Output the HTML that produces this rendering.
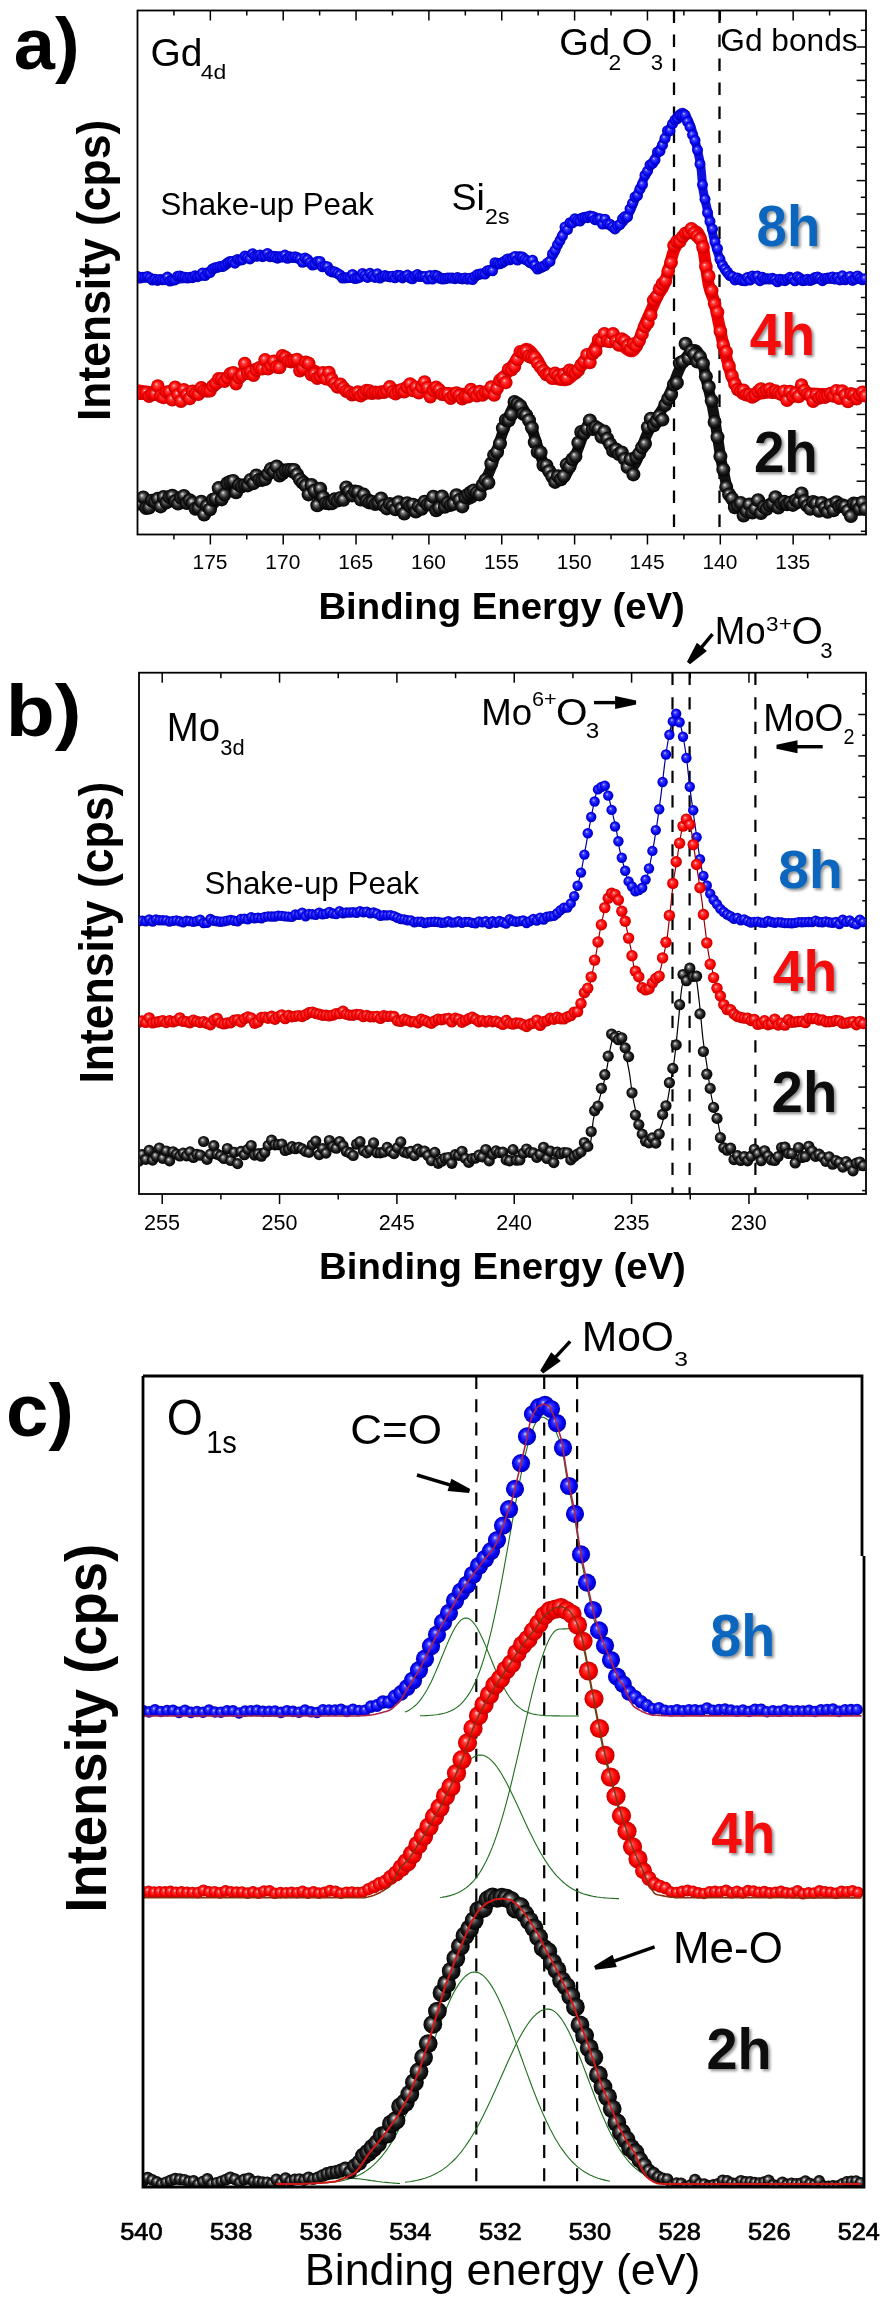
<!DOCTYPE html>
<html><head><meta charset="utf-8"><style>
html,body{margin:0;padding:0;background:#fff;}
svg{display:block;will-change:transform;}
text{font-family:"Liberation Sans",sans-serif;font-kerning:none;}
</style></head><body>
<svg width="884" height="2300" viewBox="0 0 884 2300">
<rect width="884" height="2300" fill="#fff"/>
<defs>
<radialGradient id="gB" cx="0.5" cy="0.5" r="0.5" fx="0.38" fy="0.35"><stop offset="0" stop-color="#d0d0ff"/><stop offset="0.25" stop-color="#4040ff"/><stop offset="0.7" stop-color="#0505f5"/><stop offset="1" stop-color="#0000b0"/></radialGradient>
<radialGradient id="gR" cx="0.5" cy="0.5" r="0.5" fx="0.38" fy="0.35"><stop offset="0" stop-color="#ffd0d0"/><stop offset="0.25" stop-color="#ff4040"/><stop offset="0.7" stop-color="#fa0000"/><stop offset="1" stop-color="#c00000"/></radialGradient>
<radialGradient id="gK" cx="0.5" cy="0.5" r="0.5" fx="0.38" fy="0.35"><stop offset="0" stop-color="#f0f0f0"/><stop offset="0.25" stop-color="#777"/><stop offset="0.6" stop-color="#222"/><stop offset="1" stop-color="#000"/></radialGradient>
<clipPath id="clipA"><rect x="138" y="11" width="727.5" height="523"/></clipPath>
<clipPath id="clipB"><rect x="139.5" y="673.5" width="726" height="520"/></clipPath>
<clipPath id="clipC"><rect x="144" y="1377" width="719" height="809"/></clipPath>
<filter id="sh" x="-20%" y="-20%" width="140%" height="140%"><feGaussianBlur in="SourceAlpha" stdDeviation="1.6"/><feOffset dx="2.2" dy="2.2" result="b"/><feComponentTransfer><feFuncA type="linear" slope="0.45"/></feComponentTransfer><feMerge><feMergeNode/><feMergeNode in="SourceGraphic"/></feMerge></filter>
</defs>
<rect x="137.5" y="10.5" width="728.5" height="524.0" fill="none" stroke="#000" stroke-width="1.8"/>
<line x1="173.93" y1="10.50" x2="173.93" y2="15.50" stroke="#000" stroke-width="1.5"/>
<line x1="173.93" y1="534.50" x2="173.93" y2="539.50" stroke="#000" stroke-width="1.5"/>
<line x1="210.35" y1="10.50" x2="210.35" y2="20.50" stroke="#000" stroke-width="1.5"/>
<line x1="210.35" y1="534.50" x2="210.35" y2="544.50" stroke="#000" stroke-width="1.5"/>
<line x1="246.78" y1="10.50" x2="246.78" y2="15.50" stroke="#000" stroke-width="1.5"/>
<line x1="246.78" y1="534.50" x2="246.78" y2="539.50" stroke="#000" stroke-width="1.5"/>
<line x1="283.20" y1="10.50" x2="283.20" y2="20.50" stroke="#000" stroke-width="1.5"/>
<line x1="283.20" y1="534.50" x2="283.20" y2="544.50" stroke="#000" stroke-width="1.5"/>
<line x1="319.62" y1="10.50" x2="319.62" y2="15.50" stroke="#000" stroke-width="1.5"/>
<line x1="319.62" y1="534.50" x2="319.62" y2="539.50" stroke="#000" stroke-width="1.5"/>
<line x1="356.05" y1="10.50" x2="356.05" y2="20.50" stroke="#000" stroke-width="1.5"/>
<line x1="356.05" y1="534.50" x2="356.05" y2="544.50" stroke="#000" stroke-width="1.5"/>
<line x1="392.48" y1="10.50" x2="392.48" y2="15.50" stroke="#000" stroke-width="1.5"/>
<line x1="392.48" y1="534.50" x2="392.48" y2="539.50" stroke="#000" stroke-width="1.5"/>
<line x1="428.90" y1="10.50" x2="428.90" y2="20.50" stroke="#000" stroke-width="1.5"/>
<line x1="428.90" y1="534.50" x2="428.90" y2="544.50" stroke="#000" stroke-width="1.5"/>
<line x1="465.32" y1="10.50" x2="465.32" y2="15.50" stroke="#000" stroke-width="1.5"/>
<line x1="465.32" y1="534.50" x2="465.32" y2="539.50" stroke="#000" stroke-width="1.5"/>
<line x1="501.75" y1="10.50" x2="501.75" y2="20.50" stroke="#000" stroke-width="1.5"/>
<line x1="501.75" y1="534.50" x2="501.75" y2="544.50" stroke="#000" stroke-width="1.5"/>
<line x1="538.17" y1="10.50" x2="538.17" y2="15.50" stroke="#000" stroke-width="1.5"/>
<line x1="538.17" y1="534.50" x2="538.17" y2="539.50" stroke="#000" stroke-width="1.5"/>
<line x1="574.60" y1="10.50" x2="574.60" y2="20.50" stroke="#000" stroke-width="1.5"/>
<line x1="574.60" y1="534.50" x2="574.60" y2="544.50" stroke="#000" stroke-width="1.5"/>
<line x1="611.03" y1="10.50" x2="611.03" y2="15.50" stroke="#000" stroke-width="1.5"/>
<line x1="611.03" y1="534.50" x2="611.03" y2="539.50" stroke="#000" stroke-width="1.5"/>
<line x1="647.45" y1="10.50" x2="647.45" y2="20.50" stroke="#000" stroke-width="1.5"/>
<line x1="647.45" y1="534.50" x2="647.45" y2="544.50" stroke="#000" stroke-width="1.5"/>
<line x1="683.88" y1="10.50" x2="683.88" y2="15.50" stroke="#000" stroke-width="1.5"/>
<line x1="683.88" y1="534.50" x2="683.88" y2="539.50" stroke="#000" stroke-width="1.5"/>
<line x1="720.30" y1="10.50" x2="720.30" y2="20.50" stroke="#000" stroke-width="1.5"/>
<line x1="720.30" y1="534.50" x2="720.30" y2="544.50" stroke="#000" stroke-width="1.5"/>
<line x1="756.73" y1="10.50" x2="756.73" y2="15.50" stroke="#000" stroke-width="1.5"/>
<line x1="756.73" y1="534.50" x2="756.73" y2="539.50" stroke="#000" stroke-width="1.5"/>
<line x1="793.15" y1="10.50" x2="793.15" y2="20.50" stroke="#000" stroke-width="1.5"/>
<line x1="793.15" y1="534.50" x2="793.15" y2="544.50" stroke="#000" stroke-width="1.5"/>
<line x1="829.58" y1="10.50" x2="829.58" y2="15.50" stroke="#000" stroke-width="1.5"/>
<line x1="829.58" y1="534.50" x2="829.58" y2="539.50" stroke="#000" stroke-width="1.5"/>
<line x1="866.00" y1="30.30" x2="860.80" y2="30.30" stroke="#000" stroke-width="1.5"/>
<line x1="866.00" y1="47.00" x2="856.60" y2="47.00" stroke="#000" stroke-width="1.5"/>
<line x1="866.00" y1="63.70" x2="860.80" y2="63.70" stroke="#000" stroke-width="1.5"/>
<line x1="866.00" y1="80.40" x2="856.60" y2="80.40" stroke="#000" stroke-width="1.5"/>
<line x1="866.00" y1="97.10" x2="860.80" y2="97.10" stroke="#000" stroke-width="1.5"/>
<line x1="866.00" y1="113.80" x2="856.60" y2="113.80" stroke="#000" stroke-width="1.5"/>
<line x1="866.00" y1="130.50" x2="860.80" y2="130.50" stroke="#000" stroke-width="1.5"/>
<line x1="866.00" y1="147.20" x2="856.60" y2="147.20" stroke="#000" stroke-width="1.5"/>
<line x1="866.00" y1="163.90" x2="860.80" y2="163.90" stroke="#000" stroke-width="1.5"/>
<line x1="866.00" y1="180.60" x2="856.60" y2="180.60" stroke="#000" stroke-width="1.5"/>
<line x1="866.00" y1="197.30" x2="860.80" y2="197.30" stroke="#000" stroke-width="1.5"/>
<line x1="866.00" y1="214.00" x2="856.60" y2="214.00" stroke="#000" stroke-width="1.5"/>
<line x1="866.00" y1="230.70" x2="860.80" y2="230.70" stroke="#000" stroke-width="1.5"/>
<line x1="866.00" y1="247.40" x2="856.60" y2="247.40" stroke="#000" stroke-width="1.5"/>
<line x1="866.00" y1="264.10" x2="860.80" y2="264.10" stroke="#000" stroke-width="1.5"/>
<line x1="866.00" y1="280.80" x2="856.60" y2="280.80" stroke="#000" stroke-width="1.5"/>
<line x1="866.00" y1="297.50" x2="860.80" y2="297.50" stroke="#000" stroke-width="1.5"/>
<line x1="866.00" y1="314.20" x2="856.60" y2="314.20" stroke="#000" stroke-width="1.5"/>
<line x1="866.00" y1="330.90" x2="860.80" y2="330.90" stroke="#000" stroke-width="1.5"/>
<line x1="866.00" y1="347.60" x2="856.60" y2="347.60" stroke="#000" stroke-width="1.5"/>
<line x1="866.00" y1="364.30" x2="860.80" y2="364.30" stroke="#000" stroke-width="1.5"/>
<line x1="866.00" y1="381.00" x2="856.60" y2="381.00" stroke="#000" stroke-width="1.5"/>
<line x1="866.00" y1="397.70" x2="860.80" y2="397.70" stroke="#000" stroke-width="1.5"/>
<line x1="866.00" y1="414.40" x2="856.60" y2="414.40" stroke="#000" stroke-width="1.5"/>
<line x1="866.00" y1="431.10" x2="860.80" y2="431.10" stroke="#000" stroke-width="1.5"/>
<line x1="866.00" y1="447.80" x2="856.60" y2="447.80" stroke="#000" stroke-width="1.5"/>
<line x1="866.00" y1="464.50" x2="860.80" y2="464.50" stroke="#000" stroke-width="1.5"/>
<line x1="866.00" y1="481.20" x2="856.60" y2="481.20" stroke="#000" stroke-width="1.5"/>
<line x1="866.00" y1="497.90" x2="860.80" y2="497.90" stroke="#000" stroke-width="1.5"/>
<line x1="866.00" y1="514.60" x2="856.60" y2="514.60" stroke="#000" stroke-width="1.5"/>
<line x1="866.00" y1="531.30" x2="860.80" y2="531.30" stroke="#000" stroke-width="1.5"/>
<line x1="674.00" y1="10.50" x2="674.00" y2="534.50" stroke="#000" stroke-width="2.3" stroke-dasharray="12.5 11.5"/>
<line x1="719.50" y1="10.50" x2="719.50" y2="534.50" stroke="#000" stroke-width="2.3" stroke-dasharray="12.5 11.5"/>
<g clip-path="url(#clipA)">
<path d="M137.5,277.0 C139.1,277.2 141.6,277.5 147.0,278.0 C152.4,278.5 161.7,280.1 170.0,279.8 C178.3,279.5 187.6,279.0 197.0,276.4 C206.4,273.8 217.8,267.2 226.5,264.0 C235.2,260.8 241.5,258.4 249.0,257.0 C256.5,255.6 264.2,255.1 271.7,255.3 C279.2,255.5 286.4,256.9 294.0,258.3 C301.6,259.8 310.5,261.9 317.0,264.0 C323.5,266.1 328.3,268.5 333.0,270.7 C337.7,272.9 337.2,276.2 345.0,277.0 C352.8,277.8 365.7,275.7 379.8,275.7 C393.9,275.7 415.0,276.6 429.5,277.0 C444.0,277.4 457.8,278.8 466.9,278.2 C476.0,277.6 478.1,276.1 484.3,273.2 C490.5,270.3 498.4,263.7 504.2,260.8 C510.0,257.9 515.0,255.6 519.1,255.8 C523.2,256.0 525.6,259.8 529.1,262.0 C532.6,264.2 536.1,270.1 540.0,269.2 C543.9,268.3 548.7,262.5 552.4,256.7 C556.1,250.9 559.1,240.1 562.4,234.3 C565.7,228.5 567.8,225.0 572.4,221.9 C577.0,218.8 584.4,215.9 589.8,215.7 C595.2,215.5 600.6,218.6 604.7,220.7 C608.9,222.8 611.0,228.7 614.7,228.1 C618.4,227.5 623.4,222.5 627.1,216.9 C630.8,211.3 633.8,202.0 637.1,194.5 C640.4,187.0 643.3,179.6 647.0,172.1 C650.7,164.6 655.4,157.6 659.5,149.7 C663.6,141.8 668.2,131.0 671.9,124.8 C675.6,118.6 679.0,112.8 681.9,112.4 C684.8,112.0 687.0,117.4 689.3,122.4 C691.6,127.4 693.6,135.2 695.5,142.3 C697.4,149.4 699.2,156.8 700.5,164.7 C701.8,172.6 702.0,182.5 703.0,189.6 C704.0,196.7 705.2,200.4 706.7,207.0 C708.2,213.6 710.0,222.3 711.7,229.4 C713.4,236.5 714.6,242.7 716.7,249.3 C718.8,255.9 721.3,264.4 724.2,269.2 C727.1,274.0 728.3,276.2 734.1,277.9 C739.9,279.5 737.0,278.9 759.0,279.1 C781.0,279.4 848.2,279.3 866.0,279.4" fill="none" stroke="#1010e0" stroke-width="9" stroke-linejoin="round"/>
<g fill="url(#gB)"><circle cx="137.5" cy="276.6" r="5.5"/><circle cx="140.0" cy="278.0" r="5.5"/><circle cx="142.5" cy="277.2" r="5.5"/><circle cx="145.0" cy="277.3" r="5.5"/><circle cx="147.5" cy="276.6" r="5.5"/><circle cx="150.0" cy="277.9" r="5.5"/><circle cx="152.5" cy="280.1" r="5.5"/><circle cx="155.0" cy="279.3" r="5.5"/><circle cx="157.5" cy="280.4" r="5.5"/><circle cx="160.0" cy="279.4" r="5.5"/><circle cx="162.5" cy="279.8" r="5.5"/><circle cx="165.0" cy="279.7" r="5.5"/><circle cx="167.5" cy="277.1" r="5.5"/><circle cx="170.0" cy="281.1" r="5.5"/><circle cx="172.5" cy="280.2" r="5.5"/><circle cx="175.0" cy="279.9" r="5.5"/><circle cx="177.5" cy="276.3" r="5.5"/><circle cx="180.0" cy="275.9" r="5.5"/><circle cx="182.5" cy="276.9" r="5.5"/><circle cx="185.0" cy="277.2" r="5.5"/><circle cx="187.5" cy="278.1" r="5.5"/><circle cx="190.0" cy="277.2" r="5.5"/><circle cx="192.5" cy="277.7" r="5.5"/><circle cx="195.0" cy="275.7" r="5.5"/><circle cx="197.5" cy="276.7" r="5.5"/><circle cx="200.0" cy="275.7" r="5.5"/><circle cx="202.5" cy="273.1" r="5.5"/><circle cx="205.0" cy="275.6" r="5.5"/><circle cx="207.5" cy="272.8" r="5.5"/><circle cx="210.0" cy="272.7" r="5.5"/><circle cx="212.5" cy="269.0" r="5.5"/><circle cx="215.0" cy="267.7" r="5.5"/><circle cx="217.5" cy="267.3" r="5.5"/><circle cx="220.0" cy="266.6" r="5.5"/><circle cx="222.5" cy="266.6" r="5.5"/><circle cx="225.0" cy="265.0" r="5.5"/><circle cx="227.5" cy="263.0" r="5.5"/><circle cx="230.0" cy="261.5" r="5.5"/><circle cx="232.5" cy="261.4" r="5.5"/><circle cx="235.0" cy="263.2" r="5.5"/><circle cx="237.5" cy="259.4" r="5.5"/><circle cx="240.0" cy="260.2" r="5.5"/><circle cx="242.5" cy="259.7" r="5.5"/><circle cx="245.0" cy="256.0" r="5.5"/><circle cx="247.5" cy="257.5" r="5.5"/><circle cx="250.0" cy="258.9" r="5.5"/><circle cx="252.5" cy="253.7" r="5.5"/><circle cx="255.0" cy="256.1" r="5.5"/><circle cx="257.5" cy="256.2" r="5.5"/><circle cx="260.0" cy="255.0" r="5.5"/><circle cx="262.5" cy="256.7" r="5.5"/><circle cx="265.0" cy="255.7" r="5.5"/><circle cx="267.5" cy="253.4" r="5.5"/><circle cx="270.0" cy="256.7" r="5.5"/><circle cx="272.5" cy="256.4" r="5.5"/><circle cx="275.0" cy="257.2" r="5.5"/><circle cx="277.5" cy="258.2" r="5.5"/><circle cx="280.0" cy="257.0" r="5.5"/><circle cx="282.5" cy="256.9" r="5.5"/><circle cx="285.0" cy="255.1" r="5.5"/><circle cx="287.5" cy="258.3" r="5.5"/><circle cx="290.0" cy="256.8" r="5.5"/><circle cx="292.5" cy="257.4" r="5.5"/><circle cx="295.0" cy="256.7" r="5.5"/><circle cx="297.5" cy="257.7" r="5.5"/><circle cx="300.0" cy="259.0" r="5.5"/><circle cx="302.5" cy="262.3" r="5.5"/><circle cx="305.0" cy="258.0" r="5.5"/><circle cx="307.5" cy="259.5" r="5.5"/><circle cx="310.0" cy="262.6" r="5.5"/><circle cx="312.5" cy="265.0" r="5.5"/><circle cx="315.0" cy="264.4" r="5.5"/><circle cx="317.5" cy="261.4" r="5.5"/><circle cx="320.0" cy="261.5" r="5.5"/><circle cx="322.5" cy="266.8" r="5.5"/><circle cx="325.0" cy="266.2" r="5.5"/><circle cx="327.5" cy="266.7" r="5.5"/><circle cx="330.0" cy="270.9" r="5.5"/><circle cx="332.5" cy="272.1" r="5.5"/><circle cx="335.0" cy="272.0" r="5.5"/><circle cx="337.5" cy="273.4" r="5.5"/><circle cx="340.0" cy="275.0" r="5.5"/><circle cx="342.5" cy="278.1" r="5.5"/><circle cx="345.0" cy="277.9" r="5.5"/><circle cx="347.5" cy="277.7" r="5.5"/><circle cx="350.0" cy="277.6" r="5.5"/><circle cx="352.5" cy="274.4" r="5.5"/><circle cx="355.0" cy="278.5" r="5.5"/><circle cx="357.5" cy="278.0" r="5.5"/><circle cx="360.0" cy="277.2" r="5.5"/><circle cx="362.5" cy="273.4" r="5.5"/><circle cx="365.0" cy="275.3" r="5.5"/><circle cx="367.5" cy="277.4" r="5.5"/><circle cx="370.0" cy="273.3" r="5.5"/><circle cx="372.5" cy="275.7" r="5.5"/><circle cx="375.0" cy="277.4" r="5.5"/><circle cx="377.5" cy="273.8" r="5.5"/><circle cx="380.0" cy="278.1" r="5.5"/><circle cx="382.5" cy="276.6" r="5.5"/><circle cx="385.0" cy="275.6" r="5.5"/><circle cx="387.5" cy="276.4" r="5.5"/><circle cx="390.0" cy="276.9" r="5.5"/><circle cx="392.5" cy="276.2" r="5.5"/><circle cx="395.0" cy="277.8" r="5.5"/><circle cx="397.5" cy="275.2" r="5.5"/><circle cx="400.0" cy="275.6" r="5.5"/><circle cx="402.5" cy="277.9" r="5.5"/><circle cx="405.0" cy="276.4" r="5.5"/><circle cx="407.5" cy="275.1" r="5.5"/><circle cx="410.0" cy="277.9" r="5.5"/><circle cx="412.5" cy="278.8" r="5.5"/><circle cx="415.0" cy="276.0" r="5.5"/><circle cx="417.5" cy="274.6" r="5.5"/><circle cx="420.0" cy="276.5" r="5.5"/><circle cx="422.5" cy="276.6" r="5.5"/><circle cx="425.0" cy="276.4" r="5.5"/><circle cx="427.5" cy="279.1" r="5.5"/><circle cx="430.0" cy="275.5" r="5.5"/><circle cx="432.5" cy="279.0" r="5.5"/><circle cx="435.0" cy="275.3" r="5.5"/><circle cx="437.5" cy="276.1" r="5.5"/><circle cx="440.0" cy="278.3" r="5.5"/><circle cx="442.5" cy="279.1" r="5.5"/><circle cx="445.0" cy="278.8" r="5.5"/><circle cx="447.5" cy="278.1" r="5.5"/><circle cx="450.0" cy="277.9" r="5.5"/><circle cx="452.5" cy="278.0" r="5.5"/><circle cx="455.0" cy="278.7" r="5.5"/><circle cx="457.5" cy="277.6" r="5.5"/><circle cx="460.0" cy="278.4" r="5.5"/><circle cx="462.5" cy="278.9" r="5.5"/><circle cx="465.0" cy="278.1" r="5.5"/><circle cx="467.5" cy="279.2" r="5.5"/><circle cx="470.0" cy="278.2" r="5.5"/><circle cx="472.5" cy="279.6" r="5.5"/><circle cx="475.0" cy="276.4" r="5.5"/><circle cx="477.5" cy="274.5" r="5.5"/><circle cx="480.0" cy="273.9" r="5.5"/><circle cx="482.5" cy="273.7" r="5.5"/><circle cx="485.0" cy="274.1" r="5.5"/><circle cx="487.5" cy="270.7" r="5.5"/><circle cx="490.0" cy="270.2" r="5.5"/><circle cx="492.5" cy="270.8" r="5.5"/><circle cx="495.0" cy="262.7" r="5.5"/><circle cx="497.5" cy="263.3" r="5.5"/><circle cx="500.0" cy="263.8" r="5.5"/><circle cx="502.5" cy="262.5" r="5.5"/><circle cx="505.0" cy="260.9" r="5.5"/><circle cx="507.5" cy="259.0" r="5.5"/><circle cx="510.0" cy="259.8" r="5.5"/><circle cx="512.5" cy="258.4" r="5.5"/><circle cx="515.0" cy="256.4" r="5.5"/><circle cx="517.5" cy="260.0" r="5.5"/><circle cx="520.0" cy="256.9" r="5.5"/><circle cx="522.5" cy="257.1" r="5.5"/><circle cx="525.0" cy="259.3" r="5.5"/><circle cx="527.5" cy="260.7" r="5.5"/><circle cx="530.0" cy="262.5" r="5.5"/><circle cx="532.5" cy="260.2" r="5.5"/><circle cx="535.0" cy="265.2" r="5.5"/><circle cx="537.5" cy="269.1" r="5.5"/><circle cx="540.0" cy="267.4" r="5.5"/><circle cx="542.5" cy="266.6" r="5.5"/><circle cx="545.0" cy="265.6" r="5.5"/><circle cx="547.5" cy="262.9" r="5.5"/><circle cx="550.0" cy="261.4" r="5.5"/><circle cx="552.5" cy="253.9" r="5.5"/><circle cx="555.0" cy="250.3" r="5.5"/><circle cx="557.5" cy="244.8" r="5.5"/><circle cx="560.0" cy="240.6" r="5.5"/><circle cx="562.5" cy="235.8" r="5.5"/><circle cx="565.0" cy="227.1" r="5.5"/><circle cx="567.5" cy="229.6" r="5.5"/><circle cx="570.0" cy="222.7" r="5.5"/><circle cx="572.5" cy="222.9" r="5.5"/><circle cx="575.0" cy="218.7" r="5.5"/><circle cx="577.5" cy="220.3" r="5.5"/><circle cx="580.0" cy="221.0" r="5.5"/><circle cx="582.5" cy="218.1" r="5.5"/><circle cx="585.0" cy="217.7" r="5.5"/><circle cx="587.5" cy="217.7" r="5.5"/><circle cx="590.0" cy="216.0" r="5.5"/><circle cx="592.5" cy="216.5" r="5.5"/><circle cx="595.0" cy="219.7" r="5.5"/><circle cx="597.5" cy="219.9" r="5.5"/><circle cx="600.0" cy="218.7" r="5.5"/><circle cx="602.5" cy="224.1" r="5.5"/><circle cx="605.0" cy="219.2" r="5.5"/><circle cx="607.5" cy="224.1" r="5.5"/><circle cx="610.0" cy="224.2" r="5.5"/><circle cx="612.5" cy="226.7" r="5.5"/><circle cx="615.0" cy="228.9" r="5.5"/><circle cx="617.5" cy="225.9" r="5.5"/><circle cx="620.0" cy="224.3" r="5.5"/><circle cx="622.5" cy="218.8" r="5.5"/><circle cx="625.0" cy="216.5" r="5.5"/><circle cx="627.5" cy="216.9" r="5.5"/><circle cx="630.0" cy="209.0" r="5.5"/><circle cx="632.5" cy="203.3" r="5.5"/><circle cx="635.0" cy="197.0" r="5.5"/><circle cx="637.5" cy="195.5" r="5.5"/><circle cx="640.0" cy="189.1" r="5.5"/><circle cx="642.5" cy="184.5" r="5.5"/><circle cx="645.0" cy="175.2" r="5.5"/><circle cx="647.5" cy="171.2" r="5.5"/><circle cx="650.0" cy="165.0" r="5.5"/><circle cx="652.5" cy="163.4" r="5.5"/><circle cx="655.0" cy="160.1" r="5.5"/><circle cx="657.5" cy="151.9" r="5.5"/><circle cx="660.0" cy="151.0" r="5.5"/><circle cx="662.5" cy="145.2" r="5.5"/><circle cx="665.0" cy="138.4" r="5.5"/><circle cx="667.5" cy="130.7" r="5.5"/><circle cx="670.0" cy="130.7" r="5.5"/><circle cx="672.5" cy="123.9" r="5.5"/><circle cx="675.0" cy="120.1" r="5.5"/><circle cx="677.5" cy="118.5" r="5.5"/><circle cx="680.0" cy="115.4" r="5.5"/><circle cx="682.5" cy="115.5" r="5.5"/><circle cx="685.0" cy="115.1" r="5.5"/><circle cx="687.5" cy="121.7" r="5.5"/><circle cx="690.0" cy="126.9" r="5.5"/><circle cx="692.5" cy="134.8" r="5.5"/><circle cx="695.0" cy="140.4" r="5.5"/><circle cx="697.5" cy="150.1" r="5.5"/><circle cx="700.0" cy="164.0" r="5.5"/><circle cx="702.5" cy="184.8" r="5.5"/><circle cx="705.0" cy="199.2" r="5.5"/><circle cx="707.5" cy="212.7" r="5.5"/><circle cx="710.0" cy="221.4" r="5.5"/><circle cx="712.5" cy="229.1" r="5.5"/><circle cx="715.0" cy="242.0" r="5.5"/><circle cx="717.5" cy="248.6" r="5.5"/><circle cx="720.0" cy="259.3" r="5.5"/><circle cx="722.5" cy="265.2" r="5.5"/><circle cx="725.0" cy="269.0" r="5.5"/><circle cx="727.5" cy="272.1" r="5.5"/><circle cx="730.0" cy="275.5" r="5.5"/><circle cx="732.5" cy="276.6" r="5.5"/><circle cx="735.0" cy="279.9" r="5.5"/><circle cx="737.5" cy="278.0" r="5.5"/><circle cx="740.0" cy="279.7" r="5.5"/><circle cx="742.5" cy="280.5" r="5.5"/><circle cx="745.0" cy="280.8" r="5.5"/><circle cx="747.5" cy="277.5" r="5.5"/><circle cx="750.0" cy="280.0" r="5.5"/><circle cx="752.5" cy="276.0" r="5.5"/><circle cx="755.0" cy="277.3" r="5.5"/><circle cx="757.5" cy="276.1" r="5.5"/><circle cx="760.0" cy="280.7" r="5.5"/><circle cx="762.5" cy="277.3" r="5.5"/><circle cx="765.0" cy="279.1" r="5.5"/><circle cx="767.5" cy="278.8" r="5.5"/><circle cx="770.0" cy="279.1" r="5.5"/><circle cx="772.5" cy="278.3" r="5.5"/><circle cx="775.0" cy="279.5" r="5.5"/><circle cx="777.5" cy="281.8" r="5.5"/><circle cx="780.0" cy="279.2" r="5.5"/><circle cx="782.5" cy="280.0" r="5.5"/><circle cx="785.0" cy="280.7" r="5.5"/><circle cx="787.5" cy="278.9" r="5.5"/><circle cx="790.0" cy="277.3" r="5.5"/><circle cx="792.5" cy="278.4" r="5.5"/><circle cx="795.0" cy="280.8" r="5.5"/><circle cx="797.5" cy="276.7" r="5.5"/><circle cx="800.0" cy="278.3" r="5.5"/><circle cx="802.5" cy="280.7" r="5.5"/><circle cx="805.0" cy="280.4" r="5.5"/><circle cx="807.5" cy="279.2" r="5.5"/><circle cx="810.0" cy="280.5" r="5.5"/><circle cx="812.5" cy="279.5" r="5.5"/><circle cx="815.0" cy="277.5" r="5.5"/><circle cx="817.5" cy="276.9" r="5.5"/><circle cx="820.0" cy="278.3" r="5.5"/><circle cx="822.5" cy="280.7" r="5.5"/><circle cx="825.0" cy="278.4" r="5.5"/><circle cx="827.5" cy="277.9" r="5.5"/><circle cx="830.0" cy="278.1" r="5.5"/><circle cx="832.5" cy="277.0" r="5.5"/><circle cx="835.0" cy="279.1" r="5.5"/><circle cx="837.5" cy="277.6" r="5.5"/><circle cx="840.0" cy="279.9" r="5.5"/><circle cx="842.5" cy="275.8" r="5.5"/><circle cx="845.0" cy="279.8" r="5.5"/><circle cx="847.5" cy="278.4" r="5.5"/><circle cx="850.0" cy="276.4" r="5.5"/><circle cx="852.5" cy="280.4" r="5.5"/><circle cx="855.0" cy="279.0" r="5.5"/><circle cx="857.5" cy="276.0" r="5.5"/><circle cx="860.0" cy="278.1" r="5.5"/><circle cx="862.5" cy="279.8" r="5.5"/><circle cx="865.0" cy="278.7" r="5.5"/></g>
<path d="M137.5,390.3 C141.2,390.8 152.4,392.7 159.5,393.2 C166.6,393.7 172.2,393.7 180.1,393.2 C187.9,392.7 199.2,392.8 206.6,390.3 C213.9,387.9 217.3,381.7 224.2,378.5 C231.1,375.3 240.4,373.4 247.8,371.2 C255.2,369.0 262.0,367.3 268.4,365.3 C274.8,363.3 280.6,359.6 286.0,359.4 C291.4,359.1 295.3,361.6 300.7,363.8 C306.1,366.0 312.5,369.2 318.4,372.6 C324.3,376.0 330.1,381.0 336.0,384.4 C341.9,387.8 347.7,391.7 353.6,393.2 C359.5,394.7 364.4,393.7 371.3,393.2 C378.2,392.7 386.8,390.8 394.8,390.3 C402.8,389.8 410.4,389.8 419.4,390.3 C428.4,390.8 439.0,392.7 448.8,393.2 C458.6,393.7 470.4,394.4 478.2,393.2 C486.0,392.0 490.5,390.1 495.9,385.9 C501.3,381.7 505.7,374.3 510.6,368.2 C515.5,362.1 520.9,350.6 525.3,349.1 C529.7,347.6 533.7,355.2 537.1,359.4 C540.5,363.6 541.0,370.7 545.9,374.1 C550.8,377.5 560.6,381.5 566.5,380.0 C572.4,378.5 577.3,369.2 581.2,365.3 C585.1,361.4 587.1,360.1 590.0,356.4 C592.9,352.6 595.4,345.9 598.5,342.8 C601.6,339.7 605.3,337.7 608.7,337.7 C612.1,337.7 615.1,340.5 618.8,342.8 C622.5,345.1 627.6,351.0 630.7,351.3 C633.8,351.6 635.2,348.8 637.5,344.5 C639.8,340.2 642.0,331.5 644.3,325.8 C646.6,320.1 648.8,315.6 651.1,310.5 C653.4,305.4 655.6,299.8 657.9,295.3 C660.2,290.8 662.0,291.1 664.7,283.4 C667.5,275.7 671.1,257.4 674.4,249.3 C677.7,241.2 681.0,238.2 684.3,235.0 C687.6,231.8 691.1,228.9 694.0,230.0 C696.9,231.1 699.3,232.6 701.8,241.8 C704.3,251.0 706.8,275.3 708.8,285.1 C710.8,294.9 712.2,293.9 713.9,300.4 C715.6,306.9 717.3,316.2 719.0,324.1 C720.7,332.0 722.6,341.7 724.0,347.9 C725.4,354.1 726.1,356.4 727.5,361.5 C728.9,366.6 730.5,373.6 732.5,378.4 C734.5,383.1 736.9,387.2 739.3,390.0 C741.7,392.8 741.6,394.8 746.7,395.2 C751.8,395.6 761.8,393.0 770.0,392.6 C778.2,392.2 787.3,392.4 796.0,392.6 C804.7,392.8 810.3,393.5 822.0,393.9 C833.7,394.3 858.7,394.8 866.0,395.0" fill="none" stroke="#f00000" stroke-width="12" stroke-linejoin="round"/>
<g fill="url(#gR)"><circle cx="137.5" cy="392.9" r="6.8"/><circle cx="140.4" cy="393.1" r="6.8"/><circle cx="143.3" cy="393.3" r="6.8"/><circle cx="146.2" cy="392.5" r="6.8"/><circle cx="149.1" cy="396.2" r="6.8"/><circle cx="152.0" cy="394.4" r="6.8"/><circle cx="154.9" cy="394.1" r="6.8"/><circle cx="157.8" cy="386.1" r="6.8"/><circle cx="160.7" cy="396.2" r="6.8"/><circle cx="163.6" cy="397.5" r="6.8"/><circle cx="166.5" cy="392.2" r="6.8"/><circle cx="169.4" cy="391.7" r="6.8"/><circle cx="172.3" cy="399.6" r="6.8"/><circle cx="175.2" cy="387.4" r="6.8"/><circle cx="178.1" cy="394.7" r="6.8"/><circle cx="181.0" cy="401.1" r="6.8"/><circle cx="183.9" cy="389.7" r="6.8"/><circle cx="186.8" cy="394.7" r="6.8"/><circle cx="189.7" cy="398.4" r="6.8"/><circle cx="192.6" cy="391.4" r="6.8"/><circle cx="195.5" cy="393.4" r="6.8"/><circle cx="198.4" cy="394.2" r="6.8"/><circle cx="201.3" cy="387.9" r="6.8"/><circle cx="204.2" cy="390.3" r="6.8"/><circle cx="207.1" cy="390.9" r="6.8"/><circle cx="210.0" cy="390.7" r="6.8"/><circle cx="212.9" cy="386.0" r="6.8"/><circle cx="215.8" cy="383.5" r="6.8"/><circle cx="218.7" cy="378.8" r="6.8"/><circle cx="221.6" cy="379.1" r="6.8"/><circle cx="224.5" cy="381.3" r="6.8"/><circle cx="227.4" cy="377.8" r="6.8"/><circle cx="230.3" cy="373.8" r="6.8"/><circle cx="233.2" cy="372.9" r="6.8"/><circle cx="236.1" cy="383.6" r="6.8"/><circle cx="239.0" cy="377.7" r="6.8"/><circle cx="241.9" cy="375.1" r="6.8"/><circle cx="244.8" cy="363.6" r="6.8"/><circle cx="247.7" cy="373.3" r="6.8"/><circle cx="250.6" cy="372.0" r="6.8"/><circle cx="253.5" cy="375.1" r="6.8"/><circle cx="256.4" cy="370.1" r="6.8"/><circle cx="259.3" cy="367.7" r="6.8"/><circle cx="262.2" cy="368.8" r="6.8"/><circle cx="265.1" cy="359.8" r="6.8"/><circle cx="268.0" cy="368.8" r="6.8"/><circle cx="270.9" cy="365.5" r="6.8"/><circle cx="273.8" cy="361.2" r="6.8"/><circle cx="276.7" cy="366.9" r="6.8"/><circle cx="279.6" cy="367.5" r="6.8"/><circle cx="282.5" cy="355.9" r="6.8"/><circle cx="285.4" cy="357.4" r="6.8"/><circle cx="288.3" cy="361.0" r="6.8"/><circle cx="291.2" cy="361.6" r="6.8"/><circle cx="294.1" cy="360.5" r="6.8"/><circle cx="297.0" cy="359.5" r="6.8"/><circle cx="299.9" cy="370.6" r="6.8"/><circle cx="302.8" cy="368.3" r="6.8"/><circle cx="305.7" cy="362.3" r="6.8"/><circle cx="308.6" cy="363.3" r="6.8"/><circle cx="311.5" cy="374.8" r="6.8"/><circle cx="314.4" cy="373.9" r="6.8"/><circle cx="317.3" cy="378.1" r="6.8"/><circle cx="320.2" cy="376.5" r="6.8"/><circle cx="323.1" cy="372.9" r="6.8"/><circle cx="326.0" cy="378.6" r="6.8"/><circle cx="328.9" cy="372.5" r="6.8"/><circle cx="331.8" cy="379.1" r="6.8"/><circle cx="334.7" cy="383.3" r="6.8"/><circle cx="337.6" cy="386.9" r="6.8"/><circle cx="340.5" cy="384.2" r="6.8"/><circle cx="343.4" cy="387.7" r="6.8"/><circle cx="346.3" cy="391.1" r="6.8"/><circle cx="349.2" cy="392.2" r="6.8"/><circle cx="352.1" cy="394.6" r="6.8"/><circle cx="355.0" cy="393.9" r="6.8"/><circle cx="357.9" cy="392.1" r="6.8"/><circle cx="360.8" cy="395.8" r="6.8"/><circle cx="363.7" cy="393.4" r="6.8"/><circle cx="366.6" cy="390.5" r="6.8"/><circle cx="369.5" cy="391.1" r="6.8"/><circle cx="372.4" cy="393.1" r="6.8"/><circle cx="375.3" cy="392.3" r="6.8"/><circle cx="378.2" cy="392.9" r="6.8"/><circle cx="381.1" cy="392.0" r="6.8"/><circle cx="384.0" cy="392.2" r="6.8"/><circle cx="386.9" cy="390.8" r="6.8"/><circle cx="389.8" cy="386.8" r="6.8"/><circle cx="392.7" cy="391.9" r="6.8"/><circle cx="395.6" cy="393.8" r="6.8"/><circle cx="398.5" cy="391.7" r="6.8"/><circle cx="401.4" cy="389.7" r="6.8"/><circle cx="404.3" cy="391.8" r="6.8"/><circle cx="407.2" cy="387.1" r="6.8"/><circle cx="410.1" cy="384.0" r="6.8"/><circle cx="413.0" cy="390.5" r="6.8"/><circle cx="415.9" cy="387.2" r="6.8"/><circle cx="418.8" cy="392.7" r="6.8"/><circle cx="421.7" cy="386.9" r="6.8"/><circle cx="424.6" cy="382.1" r="6.8"/><circle cx="427.5" cy="387.7" r="6.8"/><circle cx="430.4" cy="396.6" r="6.8"/><circle cx="433.3" cy="390.4" r="6.8"/><circle cx="436.2" cy="387.4" r="6.8"/><circle cx="439.1" cy="389.7" r="6.8"/><circle cx="442.0" cy="394.2" r="6.8"/><circle cx="444.9" cy="394.5" r="6.8"/><circle cx="447.8" cy="393.7" r="6.8"/><circle cx="450.7" cy="398.1" r="6.8"/><circle cx="453.6" cy="395.5" r="6.8"/><circle cx="456.5" cy="393.1" r="6.8"/><circle cx="459.4" cy="395.2" r="6.8"/><circle cx="462.3" cy="398.7" r="6.8"/><circle cx="465.2" cy="396.4" r="6.8"/><circle cx="468.1" cy="396.6" r="6.8"/><circle cx="471.0" cy="389.6" r="6.8"/><circle cx="473.9" cy="392.7" r="6.8"/><circle cx="476.8" cy="395.6" r="6.8"/><circle cx="479.7" cy="391.6" r="6.8"/><circle cx="482.6" cy="394.9" r="6.8"/><circle cx="485.5" cy="392.2" r="6.8"/><circle cx="488.4" cy="392.0" r="6.8"/><circle cx="491.3" cy="387.1" r="6.8"/><circle cx="494.2" cy="395.0" r="6.8"/><circle cx="497.1" cy="388.5" r="6.8"/><circle cx="500.0" cy="380.3" r="6.8"/><circle cx="502.9" cy="377.8" r="6.8"/><circle cx="505.8" cy="382.5" r="6.8"/><circle cx="508.7" cy="369.4" r="6.8"/><circle cx="511.6" cy="369.8" r="6.8"/><circle cx="514.5" cy="366.4" r="6.8"/><circle cx="517.4" cy="359.4" r="6.8"/><circle cx="520.3" cy="351.7" r="6.8"/><circle cx="523.2" cy="352.4" r="6.8"/><circle cx="526.1" cy="351.0" r="6.8"/><circle cx="529.0" cy="356.1" r="6.8"/><circle cx="531.9" cy="357.4" r="6.8"/><circle cx="534.8" cy="357.5" r="6.8"/><circle cx="537.7" cy="363.2" r="6.8"/><circle cx="540.6" cy="367.0" r="6.8"/><circle cx="543.5" cy="370.8" r="6.8"/><circle cx="546.4" cy="374.4" r="6.8"/><circle cx="549.3" cy="374.3" r="6.8"/><circle cx="552.2" cy="378.2" r="6.8"/><circle cx="555.1" cy="373.3" r="6.8"/><circle cx="558.0" cy="375.5" r="6.8"/><circle cx="560.9" cy="378.4" r="6.8"/><circle cx="563.8" cy="374.4" r="6.8"/><circle cx="566.7" cy="378.4" r="6.8"/><circle cx="569.6" cy="370.3" r="6.8"/><circle cx="572.5" cy="371.7" r="6.8"/><circle cx="575.4" cy="373.0" r="6.8"/><circle cx="578.3" cy="370.1" r="6.8"/><circle cx="581.2" cy="365.1" r="6.8"/><circle cx="584.1" cy="361.6" r="6.8"/><circle cx="587.0" cy="354.8" r="6.8"/><circle cx="589.9" cy="362.5" r="6.8"/><circle cx="592.8" cy="353.6" r="6.8"/><circle cx="595.7" cy="350.9" r="6.8"/><circle cx="598.6" cy="339.8" r="6.8"/><circle cx="601.5" cy="340.7" r="6.8"/><circle cx="604.4" cy="333.8" r="6.8"/><circle cx="607.3" cy="341.0" r="6.8"/><circle cx="610.2" cy="341.5" r="6.8"/><circle cx="613.1" cy="333.7" r="6.8"/><circle cx="616.0" cy="341.2" r="6.8"/><circle cx="618.9" cy="345.0" r="6.8"/><circle cx="621.8" cy="339.1" r="6.8"/><circle cx="624.7" cy="341.0" r="6.8"/><circle cx="627.6" cy="345.6" r="6.8"/><circle cx="630.5" cy="349.1" r="6.8"/><circle cx="633.4" cy="344.0" r="6.8"/><circle cx="636.3" cy="345.8" r="6.8"/><circle cx="639.2" cy="340.6" r="6.8"/><circle cx="642.1" cy="333.9" r="6.8"/><circle cx="645.0" cy="326.5" r="6.8"/><circle cx="647.9" cy="322.7" r="6.8"/><circle cx="650.8" cy="315.0" r="6.8"/><circle cx="653.7" cy="300.4" r="6.8"/><circle cx="656.6" cy="296.5" r="6.8"/><circle cx="659.5" cy="289.0" r="6.8"/><circle cx="662.4" cy="283.9" r="6.8"/><circle cx="665.3" cy="281.0" r="6.8"/><circle cx="668.2" cy="271.1" r="6.8"/><circle cx="671.1" cy="262.5" r="6.8"/><circle cx="674.0" cy="245.5" r="6.8"/><circle cx="676.9" cy="241.6" r="6.8"/><circle cx="679.8" cy="241.4" r="6.8"/><circle cx="682.7" cy="236.7" r="6.8"/><circle cx="685.6" cy="233.3" r="6.8"/><circle cx="688.5" cy="232.6" r="6.8"/><circle cx="691.4" cy="228.8" r="6.8"/><circle cx="694.3" cy="232.8" r="6.8"/><circle cx="697.2" cy="236.0" r="6.8"/><circle cx="700.1" cy="238.9" r="6.8"/><circle cx="703.0" cy="247.0" r="6.8"/><circle cx="705.9" cy="266.6" r="6.8"/><circle cx="708.8" cy="276.1" r="6.8"/><circle cx="711.7" cy="290.6" r="6.8"/><circle cx="714.6" cy="303.8" r="6.8"/><circle cx="717.5" cy="312.2" r="6.8"/><circle cx="720.4" cy="331.4" r="6.8"/><circle cx="723.3" cy="345.1" r="6.8"/><circle cx="726.2" cy="351.9" r="6.8"/><circle cx="729.1" cy="366.1" r="6.8"/><circle cx="732.0" cy="375.7" r="6.8"/><circle cx="734.9" cy="384.0" r="6.8"/><circle cx="737.8" cy="389.5" r="6.8"/><circle cx="740.7" cy="390.9" r="6.8"/><circle cx="743.6" cy="390.2" r="6.8"/><circle cx="746.5" cy="394.6" r="6.8"/><circle cx="749.4" cy="394.7" r="6.8"/><circle cx="752.3" cy="397.0" r="6.8"/><circle cx="755.2" cy="395.2" r="6.8"/><circle cx="758.1" cy="391.5" r="6.8"/><circle cx="761.0" cy="389.1" r="6.8"/><circle cx="763.9" cy="392.0" r="6.8"/><circle cx="766.8" cy="390.5" r="6.8"/><circle cx="769.7" cy="389.0" r="6.8"/><circle cx="772.6" cy="392.2" r="6.8"/><circle cx="775.5" cy="391.0" r="6.8"/><circle cx="778.4" cy="392.9" r="6.8"/><circle cx="781.3" cy="394.3" r="6.8"/><circle cx="784.2" cy="391.2" r="6.8"/><circle cx="787.1" cy="400.3" r="6.8"/><circle cx="790.0" cy="391.5" r="6.8"/><circle cx="792.9" cy="396.2" r="6.8"/><circle cx="795.8" cy="393.0" r="6.8"/><circle cx="798.7" cy="396.4" r="6.8"/><circle cx="801.6" cy="385.0" r="6.8"/><circle cx="804.5" cy="390.5" r="6.8"/><circle cx="807.4" cy="394.0" r="6.8"/><circle cx="810.3" cy="395.3" r="6.8"/><circle cx="813.2" cy="401.2" r="6.8"/><circle cx="816.1" cy="394.7" r="6.8"/><circle cx="819.0" cy="398.0" r="6.8"/><circle cx="821.9" cy="396.4" r="6.8"/><circle cx="824.8" cy="397.1" r="6.8"/><circle cx="827.7" cy="395.7" r="6.8"/><circle cx="830.6" cy="393.6" r="6.8"/><circle cx="833.5" cy="395.9" r="6.8"/><circle cx="836.4" cy="390.7" r="6.8"/><circle cx="839.3" cy="398.2" r="6.8"/><circle cx="842.2" cy="391.0" r="6.8"/><circle cx="845.1" cy="395.3" r="6.8"/><circle cx="848.0" cy="401.5" r="6.8"/><circle cx="850.9" cy="393.9" r="6.8"/><circle cx="853.8" cy="394.8" r="6.8"/><circle cx="856.7" cy="398.6" r="6.8"/><circle cx="859.6" cy="394.9" r="6.8"/><circle cx="862.5" cy="392.2" r="6.8"/><circle cx="865.4" cy="395.8" r="6.8"/></g>
<path d="M137.5,500.6 C141.2,500.6 152.4,501.1 159.5,500.6 C166.6,500.1 171.8,496.6 180.1,497.6 C188.4,498.6 202.2,508.0 209.5,506.5 C216.8,505.0 217.8,492.2 224.2,488.8 C230.6,485.4 240.9,487.9 247.8,485.9 C254.7,483.9 260.5,479.9 265.4,477.0 C270.3,474.1 272.3,468.7 277.2,468.2 C282.1,467.7 288.9,470.7 294.8,474.1 C300.7,477.5 307.1,483.9 312.5,488.8 C317.9,493.7 321.3,502.5 327.2,503.5 C333.1,504.5 341.4,495.7 347.8,494.7 C354.2,493.7 359.0,495.6 365.4,497.6 C371.8,499.6 377.0,505.3 386.0,506.5 C395.0,507.7 408.9,505.5 419.4,505.0 C429.9,504.5 440.0,504.7 448.8,503.5 C457.6,502.3 466.0,502.0 472.4,497.6 C478.8,493.2 483.1,484.4 487.0,477.0 C490.9,469.6 492.9,461.8 495.9,453.5 C498.8,445.2 501.3,435.3 504.7,427.0 C508.1,418.7 512.6,405.0 516.5,403.5 C520.4,402.0 524.8,411.3 528.2,418.2 C531.6,425.1 534.2,436.4 537.1,444.7 C540.0,453.0 542.0,462.3 545.9,468.2 C549.8,474.1 556.2,481.0 560.6,480.0 C565.0,479.0 568.5,470.2 572.4,462.4 C576.3,454.6 581.2,439.6 584.1,433.0 C587.0,426.4 587.9,423.1 590.0,422.5 C592.1,421.9 594.0,426.2 596.8,429.3 C599.6,432.4 603.6,437.5 607.0,441.2 C610.4,444.9 613.8,448.3 617.2,451.4 C620.6,454.5 624.5,457.6 627.3,459.9 C630.1,462.2 631.8,466.7 634.1,465.0 C636.4,463.3 638.6,455.1 640.9,449.7 C643.2,444.3 644.9,438.3 647.7,432.7 C650.5,427.1 654.8,420.9 657.9,415.8 C661.0,410.7 663.9,407.3 666.4,402.2 C668.9,397.1 670.9,390.9 673.1,385.2 C675.4,379.5 677.6,373.0 679.9,368.2 C682.2,363.4 684.2,359.5 686.7,356.4 C689.2,353.3 692.7,349.0 695.2,349.6 C697.8,350.2 700.3,355.3 702.0,359.8 C703.7,364.3 704.3,371.6 705.4,376.7 C706.5,381.8 707.7,385.5 708.8,390.3 C709.9,395.1 711.1,399.8 712.2,405.6 C713.3,411.4 714.5,418.2 715.6,425.0 C716.7,431.8 718.1,440.8 719.0,446.3 C719.9,451.8 719.9,453.7 720.7,458.2 C721.5,462.7 722.9,468.4 724.0,473.5 C725.1,478.6 725.8,483.6 727.5,488.7 C729.2,493.8 731.5,500.5 734.2,504.0 C737.0,507.5 738.0,509.6 744.0,509.7 C750.0,509.8 761.3,505.7 770.0,504.4 C778.7,503.1 787.3,501.8 796.0,501.8 C804.7,501.8 810.3,503.5 822.0,504.4 C833.7,505.3 858.7,506.6 866.0,507.0" fill="none" stroke="#111" stroke-width="11" stroke-linejoin="round"/>
<g fill="url(#gK)"><circle cx="137.5" cy="503.0" r="7.0"/><circle cx="140.4" cy="503.6" r="7.0"/><circle cx="143.3" cy="497.4" r="7.0"/><circle cx="146.2" cy="508.0" r="7.0"/><circle cx="149.1" cy="507.6" r="7.0"/><circle cx="152.0" cy="500.7" r="7.0"/><circle cx="154.9" cy="501.7" r="7.0"/><circle cx="157.8" cy="498.8" r="7.0"/><circle cx="160.7" cy="506.4" r="7.0"/><circle cx="163.6" cy="497.0" r="7.0"/><circle cx="166.5" cy="502.4" r="7.0"/><circle cx="169.4" cy="497.1" r="7.0"/><circle cx="172.3" cy="495.8" r="7.0"/><circle cx="175.2" cy="501.3" r="7.0"/><circle cx="178.1" cy="503.5" r="7.0"/><circle cx="181.0" cy="497.8" r="7.0"/><circle cx="183.9" cy="495.9" r="7.0"/><circle cx="186.8" cy="503.0" r="7.0"/><circle cx="189.7" cy="500.3" r="7.0"/><circle cx="192.6" cy="502.7" r="7.0"/><circle cx="195.5" cy="508.7" r="7.0"/><circle cx="198.4" cy="507.9" r="7.0"/><circle cx="201.3" cy="501.8" r="7.0"/><circle cx="204.2" cy="514.5" r="7.0"/><circle cx="207.1" cy="505.8" r="7.0"/><circle cx="210.0" cy="509.2" r="7.0"/><circle cx="212.9" cy="499.7" r="7.0"/><circle cx="215.8" cy="498.7" r="7.0"/><circle cx="218.7" cy="488.1" r="7.0"/><circle cx="221.6" cy="499.4" r="7.0"/><circle cx="224.5" cy="494.5" r="7.0"/><circle cx="227.4" cy="483.3" r="7.0"/><circle cx="230.3" cy="481.7" r="7.0"/><circle cx="233.2" cy="480.9" r="7.0"/><circle cx="236.1" cy="492.3" r="7.0"/><circle cx="239.0" cy="485.1" r="7.0"/><circle cx="241.9" cy="486.4" r="7.0"/><circle cx="244.8" cy="485.0" r="7.0"/><circle cx="247.7" cy="485.4" r="7.0"/><circle cx="250.6" cy="479.9" r="7.0"/><circle cx="253.5" cy="483.1" r="7.0"/><circle cx="256.4" cy="475.5" r="7.0"/><circle cx="259.3" cy="479.8" r="7.0"/><circle cx="262.2" cy="479.9" r="7.0"/><circle cx="265.1" cy="479.1" r="7.0"/><circle cx="268.0" cy="474.1" r="7.0"/><circle cx="270.9" cy="469.1" r="7.0"/><circle cx="273.8" cy="471.4" r="7.0"/><circle cx="276.7" cy="466.5" r="7.0"/><circle cx="279.6" cy="475.6" r="7.0"/><circle cx="282.5" cy="473.2" r="7.0"/><circle cx="285.4" cy="470.5" r="7.0"/><circle cx="288.3" cy="469.9" r="7.0"/><circle cx="291.2" cy="469.9" r="7.0"/><circle cx="294.1" cy="469.9" r="7.0"/><circle cx="297.0" cy="474.4" r="7.0"/><circle cx="299.9" cy="479.6" r="7.0"/><circle cx="302.8" cy="482.9" r="7.0"/><circle cx="305.7" cy="485.5" r="7.0"/><circle cx="308.6" cy="494.4" r="7.0"/><circle cx="311.5" cy="485.0" r="7.0"/><circle cx="314.4" cy="490.8" r="7.0"/><circle cx="317.3" cy="505.3" r="7.0"/><circle cx="320.2" cy="488.7" r="7.0"/><circle cx="323.1" cy="497.2" r="7.0"/><circle cx="326.0" cy="503.0" r="7.0"/><circle cx="328.9" cy="503.4" r="7.0"/><circle cx="331.8" cy="503.2" r="7.0"/><circle cx="334.7" cy="499.3" r="7.0"/><circle cx="337.6" cy="500.6" r="7.0"/><circle cx="340.5" cy="498.0" r="7.0"/><circle cx="343.4" cy="499.8" r="7.0"/><circle cx="346.3" cy="487.4" r="7.0"/><circle cx="349.2" cy="491.2" r="7.0"/><circle cx="352.1" cy="495.4" r="7.0"/><circle cx="355.0" cy="491.6" r="7.0"/><circle cx="357.9" cy="492.0" r="7.0"/><circle cx="360.8" cy="499.5" r="7.0"/><circle cx="363.7" cy="494.6" r="7.0"/><circle cx="366.6" cy="500.8" r="7.0"/><circle cx="369.5" cy="502.5" r="7.0"/><circle cx="372.4" cy="501.9" r="7.0"/><circle cx="375.3" cy="504.0" r="7.0"/><circle cx="378.2" cy="502.7" r="7.0"/><circle cx="381.1" cy="498.5" r="7.0"/><circle cx="384.0" cy="505.5" r="7.0"/><circle cx="386.9" cy="508.4" r="7.0"/><circle cx="389.8" cy="504.1" r="7.0"/><circle cx="392.7" cy="505.8" r="7.0"/><circle cx="395.6" cy="509.2" r="7.0"/><circle cx="398.5" cy="502.3" r="7.0"/><circle cx="401.4" cy="508.5" r="7.0"/><circle cx="404.3" cy="513.5" r="7.0"/><circle cx="407.2" cy="503.2" r="7.0"/><circle cx="410.1" cy="506.0" r="7.0"/><circle cx="413.0" cy="504.7" r="7.0"/><circle cx="415.9" cy="511.6" r="7.0"/><circle cx="418.8" cy="506.4" r="7.0"/><circle cx="421.7" cy="508.7" r="7.0"/><circle cx="424.6" cy="501.8" r="7.0"/><circle cx="427.5" cy="504.5" r="7.0"/><circle cx="430.4" cy="504.4" r="7.0"/><circle cx="433.3" cy="496.8" r="7.0"/><circle cx="436.2" cy="510.2" r="7.0"/><circle cx="439.1" cy="507.8" r="7.0"/><circle cx="442.0" cy="496.5" r="7.0"/><circle cx="444.9" cy="506.8" r="7.0"/><circle cx="447.8" cy="503.0" r="7.0"/><circle cx="450.7" cy="504.9" r="7.0"/><circle cx="453.6" cy="503.8" r="7.0"/><circle cx="456.5" cy="495.3" r="7.0"/><circle cx="459.4" cy="500.0" r="7.0"/><circle cx="462.3" cy="506.4" r="7.0"/><circle cx="465.2" cy="497.0" r="7.0"/><circle cx="468.1" cy="494.4" r="7.0"/><circle cx="471.0" cy="492.2" r="7.0"/><circle cx="473.9" cy="490.4" r="7.0"/><circle cx="476.8" cy="492.8" r="7.0"/><circle cx="479.7" cy="494.4" r="7.0"/><circle cx="482.6" cy="485.0" r="7.0"/><circle cx="485.5" cy="480.1" r="7.0"/><circle cx="488.4" cy="482.7" r="7.0"/><circle cx="491.3" cy="463.5" r="7.0"/><circle cx="494.2" cy="455.2" r="7.0"/><circle cx="497.1" cy="452.1" r="7.0"/><circle cx="500.0" cy="443.5" r="7.0"/><circle cx="502.9" cy="428.2" r="7.0"/><circle cx="505.8" cy="419.9" r="7.0"/><circle cx="508.7" cy="420.3" r="7.0"/><circle cx="511.6" cy="414.3" r="7.0"/><circle cx="514.5" cy="402.0" r="7.0"/><circle cx="517.4" cy="403.8" r="7.0"/><circle cx="520.3" cy="406.0" r="7.0"/><circle cx="523.2" cy="413.9" r="7.0"/><circle cx="526.1" cy="415.1" r="7.0"/><circle cx="529.0" cy="420.2" r="7.0"/><circle cx="531.9" cy="427.7" r="7.0"/><circle cx="534.8" cy="442.3" r="7.0"/><circle cx="537.7" cy="452.1" r="7.0"/><circle cx="540.6" cy="452.5" r="7.0"/><circle cx="543.5" cy="465.3" r="7.0"/><circle cx="546.4" cy="465.4" r="7.0"/><circle cx="549.3" cy="471.2" r="7.0"/><circle cx="552.2" cy="476.4" r="7.0"/><circle cx="555.1" cy="481.9" r="7.0"/><circle cx="558.0" cy="476.3" r="7.0"/><circle cx="560.9" cy="479.2" r="7.0"/><circle cx="563.8" cy="476.1" r="7.0"/><circle cx="566.7" cy="464.6" r="7.0"/><circle cx="569.6" cy="466.6" r="7.0"/><circle cx="572.5" cy="459.3" r="7.0"/><circle cx="575.4" cy="456.4" r="7.0"/><circle cx="578.3" cy="442.8" r="7.0"/><circle cx="581.2" cy="432.0" r="7.0"/><circle cx="584.1" cy="433.2" r="7.0"/><circle cx="587.0" cy="428.9" r="7.0"/><circle cx="589.9" cy="420.4" r="7.0"/><circle cx="592.8" cy="429.0" r="7.0"/><circle cx="595.7" cy="427.1" r="7.0"/><circle cx="598.6" cy="428.9" r="7.0"/><circle cx="601.5" cy="436.8" r="7.0"/><circle cx="604.4" cy="431.6" r="7.0"/><circle cx="607.3" cy="438.7" r="7.0"/><circle cx="610.2" cy="444.3" r="7.0"/><circle cx="613.1" cy="450.9" r="7.0"/><circle cx="616.0" cy="449.5" r="7.0"/><circle cx="618.9" cy="454.1" r="7.0"/><circle cx="621.8" cy="452.5" r="7.0"/><circle cx="624.7" cy="459.0" r="7.0"/><circle cx="627.6" cy="467.1" r="7.0"/><circle cx="630.5" cy="459.4" r="7.0"/><circle cx="633.4" cy="474.4" r="7.0"/><circle cx="636.3" cy="457.3" r="7.0"/><circle cx="639.2" cy="453.6" r="7.0"/><circle cx="642.1" cy="447.4" r="7.0"/><circle cx="645.0" cy="443.8" r="7.0"/><circle cx="647.9" cy="427.2" r="7.0"/><circle cx="650.8" cy="418.7" r="7.0"/><circle cx="653.7" cy="425.3" r="7.0"/><circle cx="656.6" cy="421.3" r="7.0"/><circle cx="659.5" cy="415.9" r="7.0"/><circle cx="662.4" cy="419.6" r="7.0"/><circle cx="665.3" cy="404.8" r="7.0"/><circle cx="668.2" cy="398.7" r="7.0"/><circle cx="671.1" cy="394.2" r="7.0"/><circle cx="674.0" cy="384.5" r="7.0"/><circle cx="676.9" cy="382.7" r="7.0"/><circle cx="679.8" cy="363.2" r="7.0"/><circle cx="682.7" cy="361.8" r="7.0"/><circle cx="685.6" cy="343.8" r="7.0"/><circle cx="688.5" cy="358.4" r="7.0"/><circle cx="691.4" cy="351.1" r="7.0"/><circle cx="694.3" cy="354.2" r="7.0"/><circle cx="697.2" cy="361.6" r="7.0"/><circle cx="700.1" cy="356.9" r="7.0"/><circle cx="703.0" cy="363.7" r="7.0"/><circle cx="705.9" cy="376.6" r="7.0"/><circle cx="708.8" cy="386.8" r="7.0"/><circle cx="711.7" cy="400.7" r="7.0"/><circle cx="714.6" cy="422.0" r="7.0"/><circle cx="717.5" cy="437.1" r="7.0"/><circle cx="720.4" cy="456.4" r="7.0"/><circle cx="723.3" cy="469.5" r="7.0"/><circle cx="726.2" cy="486.9" r="7.0"/><circle cx="729.1" cy="494.4" r="7.0"/><circle cx="732.0" cy="498.4" r="7.0"/><circle cx="734.9" cy="507.2" r="7.0"/><circle cx="737.8" cy="505.5" r="7.0"/><circle cx="740.7" cy="502.9" r="7.0"/><circle cx="743.6" cy="515.6" r="7.0"/><circle cx="746.5" cy="511.1" r="7.0"/><circle cx="749.4" cy="504.6" r="7.0"/><circle cx="752.3" cy="512.5" r="7.0"/><circle cx="755.2" cy="508.9" r="7.0"/><circle cx="758.1" cy="500.3" r="7.0"/><circle cx="761.0" cy="513.0" r="7.0"/><circle cx="763.9" cy="507.0" r="7.0"/><circle cx="766.8" cy="508.8" r="7.0"/><circle cx="769.7" cy="505.3" r="7.0"/><circle cx="772.6" cy="503.5" r="7.0"/><circle cx="775.5" cy="497.3" r="7.0"/><circle cx="778.4" cy="507.6" r="7.0"/><circle cx="781.3" cy="503.4" r="7.0"/><circle cx="784.2" cy="501.8" r="7.0"/><circle cx="787.1" cy="504.2" r="7.0"/><circle cx="790.0" cy="502.7" r="7.0"/><circle cx="792.9" cy="504.9" r="7.0"/><circle cx="795.8" cy="500.3" r="7.0"/><circle cx="798.7" cy="501.9" r="7.0"/><circle cx="801.6" cy="493.4" r="7.0"/><circle cx="804.5" cy="500.9" r="7.0"/><circle cx="807.4" cy="505.8" r="7.0"/><circle cx="810.3" cy="508.8" r="7.0"/><circle cx="813.2" cy="502.0" r="7.0"/><circle cx="816.1" cy="503.3" r="7.0"/><circle cx="819.0" cy="510.8" r="7.0"/><circle cx="821.9" cy="503.0" r="7.0"/><circle cx="824.8" cy="507.6" r="7.0"/><circle cx="827.7" cy="511.8" r="7.0"/><circle cx="830.6" cy="505.1" r="7.0"/><circle cx="833.5" cy="510.2" r="7.0"/><circle cx="836.4" cy="502.3" r="7.0"/><circle cx="839.3" cy="506.3" r="7.0"/><circle cx="842.2" cy="505.3" r="7.0"/><circle cx="845.1" cy="506.2" r="7.0"/><circle cx="848.0" cy="510.7" r="7.0"/><circle cx="850.9" cy="516.1" r="7.0"/><circle cx="853.8" cy="503.5" r="7.0"/><circle cx="856.7" cy="504.0" r="7.0"/><circle cx="859.6" cy="508.7" r="7.0"/><circle cx="862.5" cy="502.4" r="7.0"/><circle cx="865.4" cy="509.1" r="7.0"/></g>
</g>
<text x="13.83" y="69.08" font-size="71.88" font-weight="bold" fill="#000" textLength="65.86" lengthAdjust="spacingAndGlyphs">a)</text>
<text transform="rotate(-90)" x="-420.97" y="110.00" font-size="46.08" font-weight="bold" textLength="301.18" lengthAdjust="spacingAndGlyphs">Intensity (cps)</text>
<text x="150.54" y="65.60" font-size="39.39" fill="#000" textLength="51.97" lengthAdjust="spacingAndGlyphs">Gd</text>
<text x="200.87" y="78.51" font-size="19.34" fill="#000" textLength="25.50" lengthAdjust="spacingAndGlyphs">4d</text>
<text x="559.28" y="55.30" font-size="37.65" fill="#000" textLength="50.88" lengthAdjust="spacingAndGlyphs">Gd</text>
<text x="608.55" y="69.70" font-size="22.38" fill="#000" textLength="12.70" lengthAdjust="spacingAndGlyphs">2</text>
<text x="621.50" y="55.30" font-size="37.65" fill="#000" textLength="31.22" lengthAdjust="spacingAndGlyphs">O</text>
<text x="650.66" y="69.70" font-size="22.38" fill="#000" textLength="12.32" lengthAdjust="spacingAndGlyphs">3</text>
<text x="720.31" y="51.00" font-size="31.83" fill="#000" textLength="137.34" lengthAdjust="spacingAndGlyphs">Gd bonds</text>
<text x="160.48" y="214.70" font-size="32.12" fill="#000" textLength="213.47" lengthAdjust="spacingAndGlyphs">Shake-up Peak</text>
<text x="451.50" y="210.20" font-size="36.92" fill="#000" textLength="33.33" lengthAdjust="spacingAndGlyphs">Si</text>
<text x="485.14" y="223.79" font-size="21.89" fill="#000" textLength="24.40" lengthAdjust="spacingAndGlyphs">2s</text>
<text x="756.57" y="246.24" font-size="57.46" font-weight="bold" fill="#0b66bd" textLength="63.72" lengthAdjust="spacingAndGlyphs" filter="url(#sh)">8h</text>
<text x="749.75" y="354.80" font-size="58.38" font-weight="bold" fill="#f40c0c" textLength="65.43" lengthAdjust="spacingAndGlyphs" filter="url(#sh)">4h</text>
<text x="753.91" y="472.00" font-size="57.27" font-weight="bold" fill="#0a0a0a" textLength="63.78" lengthAdjust="spacingAndGlyphs" filter="url(#sh)">2h</text>
<text x="192.50" y="568.80" font-size="20.06" fill="#000" textLength="34.98" lengthAdjust="spacingAndGlyphs">175</text>
<text x="265.36" y="568.80" font-size="20.06" fill="#000" textLength="34.91" lengthAdjust="spacingAndGlyphs">170</text>
<text x="338.20" y="568.80" font-size="20.06" fill="#000" textLength="34.98" lengthAdjust="spacingAndGlyphs">165</text>
<text x="411.06" y="568.80" font-size="20.06" fill="#000" textLength="34.91" lengthAdjust="spacingAndGlyphs">160</text>
<text x="483.90" y="568.80" font-size="20.06" fill="#000" textLength="34.98" lengthAdjust="spacingAndGlyphs">155</text>
<text x="556.76" y="568.80" font-size="20.06" fill="#000" textLength="34.91" lengthAdjust="spacingAndGlyphs">150</text>
<text x="629.60" y="568.80" font-size="20.06" fill="#000" textLength="34.98" lengthAdjust="spacingAndGlyphs">145</text>
<text x="702.46" y="568.80" font-size="20.06" fill="#000" textLength="34.91" lengthAdjust="spacingAndGlyphs">140</text>
<text x="775.30" y="568.80" font-size="20.06" fill="#000" textLength="34.98" lengthAdjust="spacingAndGlyphs">135</text>
<text x="318.43" y="618.70" font-size="36.48" font-weight="bold" fill="#000" textLength="366.48" lengthAdjust="spacingAndGlyphs">Binding Energy (eV)</text>
<rect x="139" y="672.7" width="727" height="521.3" fill="none" stroke="#000" stroke-width="1.8"/>
<line x1="162.20" y1="672.70" x2="162.20" y2="682.70" stroke="#000" stroke-width="1.5"/>
<line x1="162.20" y1="1194.00" x2="162.20" y2="1204.00" stroke="#000" stroke-width="1.5"/>
<line x1="220.88" y1="672.70" x2="220.88" y2="678.20" stroke="#000" stroke-width="1.5"/>
<line x1="220.88" y1="1194.00" x2="220.88" y2="1199.50" stroke="#000" stroke-width="1.5"/>
<line x1="279.55" y1="672.70" x2="279.55" y2="682.70" stroke="#000" stroke-width="1.5"/>
<line x1="279.55" y1="1194.00" x2="279.55" y2="1204.00" stroke="#000" stroke-width="1.5"/>
<line x1="338.22" y1="672.70" x2="338.22" y2="678.20" stroke="#000" stroke-width="1.5"/>
<line x1="338.22" y1="1194.00" x2="338.22" y2="1199.50" stroke="#000" stroke-width="1.5"/>
<line x1="396.90" y1="672.70" x2="396.90" y2="682.70" stroke="#000" stroke-width="1.5"/>
<line x1="396.90" y1="1194.00" x2="396.90" y2="1204.00" stroke="#000" stroke-width="1.5"/>
<line x1="455.57" y1="672.70" x2="455.57" y2="678.20" stroke="#000" stroke-width="1.5"/>
<line x1="455.57" y1="1194.00" x2="455.57" y2="1199.50" stroke="#000" stroke-width="1.5"/>
<line x1="514.25" y1="672.70" x2="514.25" y2="682.70" stroke="#000" stroke-width="1.5"/>
<line x1="514.25" y1="1194.00" x2="514.25" y2="1204.00" stroke="#000" stroke-width="1.5"/>
<line x1="572.92" y1="672.70" x2="572.92" y2="678.20" stroke="#000" stroke-width="1.5"/>
<line x1="572.92" y1="1194.00" x2="572.92" y2="1199.50" stroke="#000" stroke-width="1.5"/>
<line x1="631.60" y1="672.70" x2="631.60" y2="682.70" stroke="#000" stroke-width="1.5"/>
<line x1="631.60" y1="1194.00" x2="631.60" y2="1204.00" stroke="#000" stroke-width="1.5"/>
<line x1="690.27" y1="672.70" x2="690.27" y2="678.20" stroke="#000" stroke-width="1.5"/>
<line x1="690.27" y1="1194.00" x2="690.27" y2="1199.50" stroke="#000" stroke-width="1.5"/>
<line x1="748.95" y1="672.70" x2="748.95" y2="682.70" stroke="#000" stroke-width="1.5"/>
<line x1="748.95" y1="1194.00" x2="748.95" y2="1204.00" stroke="#000" stroke-width="1.5"/>
<line x1="807.62" y1="672.70" x2="807.62" y2="678.20" stroke="#000" stroke-width="1.5"/>
<line x1="807.62" y1="1194.00" x2="807.62" y2="1199.50" stroke="#000" stroke-width="1.5"/>
<line x1="866.00" y1="693.80" x2="862.20" y2="693.80" stroke="#000" stroke-width="1.5"/>
<line x1="866.00" y1="714.50" x2="858.30" y2="714.50" stroke="#000" stroke-width="1.5"/>
<line x1="866.00" y1="735.20" x2="862.20" y2="735.20" stroke="#000" stroke-width="1.5"/>
<line x1="866.00" y1="755.90" x2="858.30" y2="755.90" stroke="#000" stroke-width="1.5"/>
<line x1="866.00" y1="776.60" x2="862.20" y2="776.60" stroke="#000" stroke-width="1.5"/>
<line x1="866.00" y1="797.30" x2="858.30" y2="797.30" stroke="#000" stroke-width="1.5"/>
<line x1="866.00" y1="818.00" x2="862.20" y2="818.00" stroke="#000" stroke-width="1.5"/>
<line x1="866.00" y1="838.70" x2="858.30" y2="838.70" stroke="#000" stroke-width="1.5"/>
<line x1="866.00" y1="859.40" x2="862.20" y2="859.40" stroke="#000" stroke-width="1.5"/>
<line x1="866.00" y1="880.10" x2="858.30" y2="880.10" stroke="#000" stroke-width="1.5"/>
<line x1="866.00" y1="900.80" x2="862.20" y2="900.80" stroke="#000" stroke-width="1.5"/>
<line x1="866.00" y1="921.50" x2="858.30" y2="921.50" stroke="#000" stroke-width="1.5"/>
<line x1="866.00" y1="942.20" x2="862.20" y2="942.20" stroke="#000" stroke-width="1.5"/>
<line x1="866.00" y1="962.90" x2="858.30" y2="962.90" stroke="#000" stroke-width="1.5"/>
<line x1="866.00" y1="983.60" x2="862.20" y2="983.60" stroke="#000" stroke-width="1.5"/>
<line x1="866.00" y1="1004.30" x2="858.30" y2="1004.30" stroke="#000" stroke-width="1.5"/>
<line x1="866.00" y1="1025.00" x2="862.20" y2="1025.00" stroke="#000" stroke-width="1.5"/>
<line x1="866.00" y1="1045.70" x2="858.30" y2="1045.70" stroke="#000" stroke-width="1.5"/>
<line x1="866.00" y1="1066.40" x2="862.20" y2="1066.40" stroke="#000" stroke-width="1.5"/>
<line x1="866.00" y1="1087.10" x2="858.30" y2="1087.10" stroke="#000" stroke-width="1.5"/>
<line x1="866.00" y1="1107.80" x2="862.20" y2="1107.80" stroke="#000" stroke-width="1.5"/>
<line x1="866.00" y1="1128.50" x2="858.30" y2="1128.50" stroke="#000" stroke-width="1.5"/>
<line x1="866.00" y1="1149.20" x2="862.20" y2="1149.20" stroke="#000" stroke-width="1.5"/>
<line x1="866.00" y1="1169.90" x2="858.30" y2="1169.90" stroke="#000" stroke-width="1.5"/>
<line x1="866.00" y1="1190.60" x2="862.20" y2="1190.60" stroke="#000" stroke-width="1.5"/>
<line x1="672.50" y1="672.70" x2="672.50" y2="1194.00" stroke="#000" stroke-width="2.2" stroke-dasharray="12.3 12.2"/>
<line x1="689.60" y1="672.70" x2="689.60" y2="1194.00" stroke="#000" stroke-width="2.2" stroke-dasharray="12.3 12.2"/>
<line x1="755.40" y1="672.70" x2="755.40" y2="1194.00" stroke="#000" stroke-width="2.2" stroke-dasharray="12.3 12.2"/>
<g clip-path="url(#clipB)">
<path d="M139.0,920.8 C154.5,920.8 208.5,921.6 232.0,920.8 C255.5,920.0 264.0,917.2 280.0,916.0 C296.0,914.8 314.4,914.4 328.0,913.6 C341.6,912.8 351.0,910.8 361.4,911.2 C371.8,911.6 380.6,914.2 390.2,916.0 C399.8,917.8 405.4,921.2 419.0,922.2 C432.6,923.2 453.2,922.4 471.7,922.2 C490.2,922.0 517.9,921.6 530.0,921.0 C542.1,920.4 540.6,919.3 544.5,918.3 C548.4,917.3 550.6,916.2 553.6,914.9 C556.6,913.6 560.0,912.1 562.6,910.4 C565.2,908.7 567.5,906.9 569.4,904.8 C571.3,902.7 572.8,900.5 573.9,898.0 C575.0,895.5 575.1,894.0 576.2,890.0 C577.3,886.0 579.4,879.5 580.7,873.8 C582.0,868.1 583.0,861.9 584.1,855.7 C585.2,849.6 586.4,843.0 587.5,836.9 C588.6,830.8 589.8,824.6 590.9,818.8 C592.0,812.9 593.2,806.8 594.3,801.8 C595.4,796.8 596.2,791.8 597.7,789.0 C599.2,786.2 601.6,783.9 603.3,784.8 C605.0,785.7 606.4,789.6 607.9,794.2 C609.4,798.9 611.0,806.6 612.4,812.7 C613.8,818.8 615.3,824.7 616.5,830.8 C617.7,836.9 618.5,843.8 619.6,849.3 C620.7,854.8 622.0,859.3 623.3,864.0 C624.5,868.7 625.7,873.9 627.1,877.6 C628.5,881.4 629.9,884.0 631.6,886.5 C633.3,889.0 635.4,892.3 637.3,892.3 C639.2,892.3 641.3,889.5 643.0,886.7 C644.7,883.9 646.2,879.8 647.5,875.3 C648.8,870.8 649.8,865.1 650.9,859.5 C652.0,853.9 653.1,848.6 654.3,841.4 C655.5,834.2 656.9,825.2 658.1,816.5 C659.3,807.8 660.6,798.4 661.7,789.4 C662.8,780.4 663.8,770.7 664.9,762.2 C666.0,753.7 667.2,745.3 668.5,738.5 C669.8,731.7 671.2,725.6 672.4,721.5 C673.6,717.4 674.6,713.8 675.7,713.6 C676.8,713.4 677.9,716.6 679.1,720.4 C680.3,724.2 681.8,729.8 683.0,736.2 C684.2,742.6 685.5,750.3 686.6,758.8 C687.7,767.3 688.6,777.5 689.8,787.1 C691.0,796.7 692.6,807.6 693.8,816.5 C695.0,825.4 696.1,832.6 697.2,840.3 C698.3,848.0 699.5,856.5 700.6,862.9 C701.7,869.3 702.7,874.2 704.0,878.7 C705.3,883.2 706.8,886.2 708.5,890.0 C710.2,893.8 712.1,898.0 714.2,901.4 C716.3,904.8 718.4,907.8 721.0,910.4 C723.6,913.0 727.0,915.7 730.0,917.2 C733.0,918.7 734.0,918.6 739.0,919.5 C744.0,920.4 738.8,922.2 760.0,922.6 C781.2,923.0 848.3,922.1 866.0,922.0" fill="none" stroke="#0000a0" stroke-width="1.2"/>
<g fill="url(#gB)"><circle cx="139.0" cy="921.3" r="5.2"/><circle cx="142.4" cy="920.6" r="5.2"/><circle cx="145.8" cy="921.3" r="5.2"/><circle cx="149.2" cy="919.4" r="5.2"/><circle cx="152.6" cy="921.5" r="5.2"/><circle cx="156.0" cy="919.4" r="5.2"/><circle cx="159.4" cy="920.2" r="5.2"/><circle cx="162.8" cy="920.3" r="5.2"/><circle cx="166.2" cy="920.4" r="5.2"/><circle cx="169.6" cy="921.6" r="5.2"/><circle cx="173.0" cy="920.9" r="5.2"/><circle cx="176.4" cy="920.4" r="5.2"/><circle cx="179.8" cy="921.3" r="5.2"/><circle cx="183.2" cy="922.2" r="5.2"/><circle cx="186.6" cy="920.8" r="5.2"/><circle cx="190.0" cy="921.1" r="5.2"/><circle cx="193.4" cy="921.9" r="5.2"/><circle cx="196.8" cy="921.0" r="5.2"/><circle cx="200.2" cy="919.6" r="5.2"/><circle cx="203.6" cy="923.0" r="5.2"/><circle cx="207.0" cy="922.8" r="5.2"/><circle cx="210.4" cy="919.0" r="5.2"/><circle cx="213.8" cy="920.8" r="5.2"/><circle cx="217.2" cy="921.2" r="5.2"/><circle cx="220.6" cy="921.7" r="5.2"/><circle cx="224.0" cy="921.4" r="5.2"/><circle cx="227.4" cy="920.6" r="5.2"/><circle cx="230.8" cy="919.9" r="5.2"/><circle cx="234.2" cy="920.7" r="5.2"/><circle cx="237.6" cy="921.2" r="5.2"/><circle cx="241.0" cy="918.9" r="5.2"/><circle cx="244.4" cy="918.6" r="5.2"/><circle cx="247.8" cy="919.2" r="5.2"/><circle cx="251.2" cy="917.1" r="5.2"/><circle cx="254.6" cy="918.3" r="5.2"/><circle cx="258.0" cy="917.8" r="5.2"/><circle cx="261.4" cy="918.3" r="5.2"/><circle cx="264.8" cy="916.9" r="5.2"/><circle cx="268.2" cy="916.4" r="5.2"/><circle cx="271.6" cy="916.5" r="5.2"/><circle cx="275.0" cy="916.5" r="5.2"/><circle cx="278.4" cy="915.6" r="5.2"/><circle cx="281.8" cy="915.9" r="5.2"/><circle cx="285.2" cy="916.4" r="5.2"/><circle cx="288.6" cy="916.6" r="5.2"/><circle cx="292.0" cy="916.9" r="5.2"/><circle cx="295.4" cy="914.5" r="5.2"/><circle cx="298.8" cy="914.7" r="5.2"/><circle cx="302.2" cy="912.7" r="5.2"/><circle cx="305.6" cy="916.4" r="5.2"/><circle cx="309.0" cy="913.9" r="5.2"/><circle cx="312.4" cy="914.3" r="5.2"/><circle cx="315.8" cy="914.7" r="5.2"/><circle cx="319.2" cy="912.8" r="5.2"/><circle cx="322.6" cy="914.3" r="5.2"/><circle cx="326.0" cy="913.7" r="5.2"/><circle cx="329.4" cy="911.9" r="5.2"/><circle cx="332.8" cy="913.5" r="5.2"/><circle cx="336.2" cy="914.1" r="5.2"/><circle cx="339.6" cy="911.1" r="5.2"/><circle cx="343.0" cy="913.2" r="5.2"/><circle cx="346.4" cy="912.5" r="5.2"/><circle cx="349.8" cy="912.5" r="5.2"/><circle cx="353.2" cy="912.2" r="5.2"/><circle cx="356.6" cy="912.7" r="5.2"/><circle cx="360.0" cy="911.1" r="5.2"/><circle cx="363.4" cy="912.3" r="5.2"/><circle cx="366.8" cy="911.7" r="5.2"/><circle cx="370.2" cy="913.3" r="5.2"/><circle cx="373.6" cy="912.5" r="5.2"/><circle cx="377.0" cy="913.7" r="5.2"/><circle cx="380.4" cy="915.9" r="5.2"/><circle cx="383.8" cy="915.3" r="5.2"/><circle cx="387.2" cy="915.4" r="5.2"/><circle cx="390.6" cy="915.1" r="5.2"/><circle cx="394.0" cy="916.1" r="5.2"/><circle cx="397.4" cy="917.7" r="5.2"/><circle cx="400.8" cy="919.1" r="5.2"/><circle cx="404.2" cy="919.4" r="5.2"/><circle cx="407.6" cy="920.2" r="5.2"/><circle cx="411.0" cy="920.4" r="5.2"/><circle cx="414.4" cy="922.4" r="5.2"/><circle cx="417.8" cy="921.6" r="5.2"/><circle cx="421.2" cy="921.7" r="5.2"/><circle cx="424.6" cy="923.0" r="5.2"/><circle cx="428.0" cy="922.3" r="5.2"/><circle cx="431.4" cy="921.9" r="5.2"/><circle cx="434.8" cy="921.7" r="5.2"/><circle cx="438.2" cy="922.0" r="5.2"/><circle cx="441.6" cy="922.8" r="5.2"/><circle cx="445.0" cy="922.5" r="5.2"/><circle cx="448.4" cy="921.1" r="5.2"/><circle cx="451.8" cy="922.6" r="5.2"/><circle cx="455.2" cy="922.4" r="5.2"/><circle cx="458.6" cy="921.3" r="5.2"/><circle cx="462.0" cy="922.9" r="5.2"/><circle cx="465.4" cy="921.9" r="5.2"/><circle cx="468.8" cy="921.9" r="5.2"/><circle cx="472.2" cy="922.9" r="5.2"/><circle cx="475.6" cy="923.3" r="5.2"/><circle cx="479.0" cy="921.4" r="5.2"/><circle cx="482.4" cy="922.4" r="5.2"/><circle cx="485.8" cy="921.1" r="5.2"/><circle cx="489.2" cy="923.9" r="5.2"/><circle cx="492.6" cy="921.3" r="5.2"/><circle cx="496.0" cy="922.8" r="5.2"/><circle cx="499.4" cy="921.0" r="5.2"/><circle cx="502.8" cy="922.3" r="5.2"/><circle cx="506.2" cy="923.5" r="5.2"/><circle cx="509.6" cy="919.1" r="5.2"/><circle cx="513.0" cy="921.0" r="5.2"/><circle cx="516.4" cy="921.7" r="5.2"/><circle cx="519.8" cy="921.1" r="5.2"/><circle cx="523.2" cy="920.5" r="5.2"/><circle cx="526.6" cy="923.0" r="5.2"/><circle cx="530.0" cy="921.1" r="5.2"/><circle cx="533.4" cy="918.9" r="5.2"/><circle cx="536.8" cy="920.5" r="5.2"/><circle cx="540.2" cy="917.6" r="5.2"/><circle cx="543.6" cy="919.5" r="5.2"/><circle cx="547.0" cy="916.8" r="5.2"/><circle cx="550.4" cy="916.2" r="5.2"/><circle cx="553.8" cy="915.9" r="5.2"/><circle cx="557.2" cy="913.2" r="5.2"/><circle cx="560.6" cy="910.1" r="5.2"/><circle cx="564.0" cy="907.7" r="5.2"/><circle cx="567.4" cy="907.5" r="5.2"/><circle cx="570.8" cy="903.4" r="5.2"/><circle cx="574.2" cy="896.2" r="5.2"/><circle cx="577.6" cy="885.7" r="5.2"/><circle cx="581.0" cy="872.6" r="5.2"/><circle cx="584.4" cy="854.6" r="5.2"/><circle cx="587.8" cy="833.3" r="5.2"/><circle cx="591.2" cy="817.0" r="5.2"/><circle cx="594.6" cy="801.5" r="5.2"/><circle cx="598.0" cy="789.4" r="5.2"/><circle cx="601.4" cy="787.0" r="5.2"/><circle cx="604.8" cy="785.7" r="5.2"/><circle cx="608.2" cy="795.6" r="5.2"/><circle cx="611.6" cy="809.9" r="5.2"/><circle cx="615.0" cy="826.5" r="5.2"/><circle cx="618.4" cy="841.3" r="5.2"/><circle cx="621.8" cy="857.7" r="5.2"/><circle cx="625.2" cy="870.8" r="5.2"/><circle cx="628.6" cy="881.4" r="5.2"/><circle cx="632.0" cy="886.5" r="5.2"/><circle cx="635.4" cy="891.4" r="5.2"/><circle cx="638.8" cy="890.1" r="5.2"/><circle cx="642.2" cy="887.7" r="5.2"/><circle cx="645.6" cy="879.6" r="5.2"/><circle cx="649.0" cy="868.5" r="5.2"/><circle cx="652.4" cy="850.9" r="5.2"/><circle cx="655.8" cy="830.1" r="5.2"/><circle cx="659.2" cy="809.2" r="5.2"/><circle cx="662.6" cy="782.0" r="5.2"/><circle cx="666.0" cy="754.5" r="5.2"/><circle cx="669.4" cy="734.8" r="5.2"/><circle cx="672.8" cy="721.4" r="5.2"/><circle cx="676.2" cy="713.7" r="5.2"/><circle cx="679.6" cy="722.3" r="5.2"/><circle cx="683.0" cy="736.7" r="5.2"/><circle cx="686.4" cy="758.0" r="5.2"/><circle cx="689.8" cy="786.8" r="5.2"/><circle cx="693.2" cy="810.2" r="5.2"/><circle cx="696.6" cy="837.2" r="5.2"/><circle cx="700.0" cy="859.2" r="5.2"/><circle cx="703.4" cy="875.9" r="5.2"/><circle cx="706.8" cy="885.5" r="5.2"/><circle cx="710.2" cy="893.6" r="5.2"/><circle cx="713.6" cy="899.8" r="5.2"/><circle cx="717.0" cy="904.2" r="5.2"/><circle cx="720.4" cy="908.9" r="5.2"/><circle cx="723.8" cy="912.0" r="5.2"/><circle cx="727.2" cy="914.5" r="5.2"/><circle cx="730.6" cy="916.3" r="5.2"/><circle cx="734.0" cy="918.8" r="5.2"/><circle cx="737.4" cy="917.9" r="5.2"/><circle cx="740.8" cy="920.4" r="5.2"/><circle cx="744.2" cy="919.4" r="5.2"/><circle cx="747.6" cy="921.1" r="5.2"/><circle cx="751.0" cy="922.5" r="5.2"/><circle cx="754.4" cy="922.0" r="5.2"/><circle cx="757.8" cy="921.6" r="5.2"/><circle cx="761.2" cy="922.6" r="5.2"/><circle cx="764.6" cy="922.7" r="5.2"/><circle cx="768.0" cy="921.0" r="5.2"/><circle cx="771.4" cy="922.0" r="5.2"/><circle cx="774.8" cy="922.7" r="5.2"/><circle cx="778.2" cy="922.1" r="5.2"/><circle cx="781.6" cy="922.5" r="5.2"/><circle cx="785.0" cy="923.1" r="5.2"/><circle cx="788.4" cy="923.1" r="5.2"/><circle cx="791.8" cy="923.2" r="5.2"/><circle cx="795.2" cy="922.9" r="5.2"/><circle cx="798.6" cy="922.1" r="5.2"/><circle cx="802.0" cy="922.3" r="5.2"/><circle cx="805.4" cy="922.1" r="5.2"/><circle cx="808.8" cy="922.0" r="5.2"/><circle cx="812.2" cy="922.1" r="5.2"/><circle cx="815.6" cy="920.7" r="5.2"/><circle cx="819.0" cy="922.0" r="5.2"/><circle cx="822.4" cy="922.2" r="5.2"/><circle cx="825.8" cy="921.4" r="5.2"/><circle cx="829.2" cy="922.2" r="5.2"/><circle cx="832.6" cy="922.7" r="5.2"/><circle cx="836.0" cy="922.0" r="5.2"/><circle cx="839.4" cy="924.0" r="5.2"/><circle cx="842.8" cy="919.8" r="5.2"/><circle cx="846.2" cy="921.9" r="5.2"/><circle cx="849.6" cy="920.4" r="5.2"/><circle cx="853.0" cy="923.0" r="5.2"/><circle cx="856.4" cy="924.4" r="5.2"/><circle cx="859.8" cy="919.8" r="5.2"/><circle cx="863.2" cy="922.1" r="5.2"/></g>
<path d="M139.0,1021.5 C154.5,1021.5 208.5,1022.3 232.0,1021.5 C255.5,1020.7 260.0,1017.9 280.0,1016.7 C300.0,1015.5 334.2,1014.3 351.8,1014.3 C369.4,1014.3 373.4,1015.5 385.4,1016.7 C397.4,1017.9 409.4,1021.3 423.8,1021.5 C438.2,1021.7 456.5,1017.7 471.7,1018.1 C486.9,1018.5 503.5,1023.3 514.9,1024.0 C526.3,1024.7 533.8,1023.2 540.0,1022.4 C546.2,1021.6 548.2,1020.1 552.4,1019.4 C556.5,1018.7 561.2,1019.1 564.9,1018.1 C568.6,1017.1 572.1,1015.5 574.8,1013.2 C577.5,1010.9 579.4,1007.5 581.1,1004.4 C582.8,1001.3 583.3,997.8 584.8,994.5 C586.2,991.2 588.5,988.5 589.8,984.5 C591.1,980.5 591.8,975.8 592.8,970.8 C593.8,965.8 594.9,961.1 596.0,954.7 C597.1,948.3 598.5,939.0 599.7,932.3 C601.0,925.6 602.2,919.6 603.5,914.3 C604.8,909.0 605.8,904.7 607.2,900.6 C608.7,896.5 610.5,890.4 612.2,889.7 C613.9,889.0 615.8,893.1 617.2,896.2 C618.7,899.4 619.7,904.9 620.9,908.6 C622.1,912.3 623.4,913.8 624.6,918.6 C625.9,923.4 627.2,931.6 628.4,937.2 C629.6,942.8 630.6,947.1 631.6,952.2 C632.6,957.3 633.0,963.0 634.1,967.6 C635.2,972.2 636.6,975.5 638.3,979.6 C640.0,983.8 642.2,991.7 644.5,992.5 C646.8,993.3 649.5,987.9 652.0,984.5 C654.5,981.1 657.6,976.6 659.5,972.1 C661.4,967.6 662.0,962.6 663.2,957.2 C664.4,951.8 665.8,947.3 666.9,939.7 C668.0,932.1 669.0,921.3 670.1,911.5 C671.2,901.7 672.4,889.5 673.5,881.0 C674.6,872.5 675.8,867.8 676.9,860.6 C678.0,853.4 679.0,844.8 680.3,838.0 C681.6,831.2 683.1,821.6 684.8,819.9 C686.5,818.2 689.0,823.3 690.5,827.8 C692.0,832.3 692.7,840.1 693.8,847.1 C694.9,854.1 695.9,860.9 697.2,869.7 C698.5,878.6 700.5,890.8 701.8,900.2 C703.1,909.6 703.6,916.9 704.8,926.0 C705.9,935.1 707.5,947.4 708.7,954.7 C709.9,962.0 711.1,964.6 712.2,969.6 C713.3,974.6 714.2,980.4 715.5,984.5 C716.8,988.6 717.8,990.8 719.7,994.5 C721.6,998.2 723.9,1003.4 726.7,1006.9 C729.5,1010.4 732.9,1013.2 736.6,1015.6 C740.3,1018.0 745.2,1019.9 749.1,1021.1 C753.0,1022.3 749.5,1022.9 760.0,1022.8 C770.5,1022.7 794.7,1020.6 812.4,1020.6 C830.1,1020.6 857.1,1022.3 866.0,1022.6" fill="none" stroke="#900" stroke-width="1.2"/>
<g fill="url(#gR)"><circle cx="139.0" cy="1022.3" r="5.7"/><circle cx="142.4" cy="1021.0" r="5.7"/><circle cx="145.8" cy="1022.4" r="5.7"/><circle cx="149.2" cy="1017.9" r="5.7"/><circle cx="152.6" cy="1022.9" r="5.7"/><circle cx="156.0" cy="1022.1" r="5.7"/><circle cx="159.4" cy="1021.5" r="5.7"/><circle cx="162.8" cy="1020.6" r="5.7"/><circle cx="166.2" cy="1022.5" r="5.7"/><circle cx="169.6" cy="1020.7" r="5.7"/><circle cx="173.0" cy="1021.9" r="5.7"/><circle cx="176.4" cy="1020.7" r="5.7"/><circle cx="179.8" cy="1017.9" r="5.7"/><circle cx="183.2" cy="1021.4" r="5.7"/><circle cx="186.6" cy="1021.8" r="5.7"/><circle cx="190.0" cy="1022.7" r="5.7"/><circle cx="193.4" cy="1020.1" r="5.7"/><circle cx="196.8" cy="1021.4" r="5.7"/><circle cx="200.2" cy="1022.5" r="5.7"/><circle cx="203.6" cy="1021.7" r="5.7"/><circle cx="207.0" cy="1023.5" r="5.7"/><circle cx="210.4" cy="1024.7" r="5.7"/><circle cx="213.8" cy="1020.0" r="5.7"/><circle cx="217.2" cy="1018.4" r="5.7"/><circle cx="220.6" cy="1022.9" r="5.7"/><circle cx="224.0" cy="1023.9" r="5.7"/><circle cx="227.4" cy="1023.0" r="5.7"/><circle cx="230.8" cy="1022.8" r="5.7"/><circle cx="234.2" cy="1020.3" r="5.7"/><circle cx="237.6" cy="1019.8" r="5.7"/><circle cx="241.0" cy="1022.0" r="5.7"/><circle cx="244.4" cy="1018.8" r="5.7"/><circle cx="247.8" cy="1017.0" r="5.7"/><circle cx="251.2" cy="1018.0" r="5.7"/><circle cx="254.6" cy="1023.2" r="5.7"/><circle cx="258.0" cy="1022.0" r="5.7"/><circle cx="261.4" cy="1017.5" r="5.7"/><circle cx="264.8" cy="1017.1" r="5.7"/><circle cx="268.2" cy="1018.3" r="5.7"/><circle cx="271.6" cy="1016.3" r="5.7"/><circle cx="275.0" cy="1019.3" r="5.7"/><circle cx="278.4" cy="1016.7" r="5.7"/><circle cx="281.8" cy="1014.9" r="5.7"/><circle cx="285.2" cy="1018.6" r="5.7"/><circle cx="288.6" cy="1015.5" r="5.7"/><circle cx="292.0" cy="1016.7" r="5.7"/><circle cx="295.4" cy="1016.2" r="5.7"/><circle cx="298.8" cy="1015.6" r="5.7"/><circle cx="302.2" cy="1016.5" r="5.7"/><circle cx="305.6" cy="1014.7" r="5.7"/><circle cx="309.0" cy="1012.8" r="5.7"/><circle cx="312.4" cy="1012.1" r="5.7"/><circle cx="315.8" cy="1013.5" r="5.7"/><circle cx="319.2" cy="1014.2" r="5.7"/><circle cx="322.6" cy="1015.2" r="5.7"/><circle cx="326.0" cy="1015.3" r="5.7"/><circle cx="329.4" cy="1015.9" r="5.7"/><circle cx="332.8" cy="1015.1" r="5.7"/><circle cx="336.2" cy="1013.6" r="5.7"/><circle cx="339.6" cy="1013.6" r="5.7"/><circle cx="343.0" cy="1011.2" r="5.7"/><circle cx="346.4" cy="1014.2" r="5.7"/><circle cx="349.8" cy="1015.1" r="5.7"/><circle cx="353.2" cy="1015.2" r="5.7"/><circle cx="356.6" cy="1014.4" r="5.7"/><circle cx="360.0" cy="1014.6" r="5.7"/><circle cx="363.4" cy="1016.6" r="5.7"/><circle cx="366.8" cy="1015.4" r="5.7"/><circle cx="370.2" cy="1016.8" r="5.7"/><circle cx="373.6" cy="1016.8" r="5.7"/><circle cx="377.0" cy="1016.4" r="5.7"/><circle cx="380.4" cy="1018.4" r="5.7"/><circle cx="383.8" cy="1015.7" r="5.7"/><circle cx="387.2" cy="1016.4" r="5.7"/><circle cx="390.6" cy="1016.1" r="5.7"/><circle cx="394.0" cy="1016.5" r="5.7"/><circle cx="397.4" cy="1020.7" r="5.7"/><circle cx="400.8" cy="1021.4" r="5.7"/><circle cx="404.2" cy="1019.1" r="5.7"/><circle cx="407.6" cy="1020.4" r="5.7"/><circle cx="411.0" cy="1021.8" r="5.7"/><circle cx="414.4" cy="1021.6" r="5.7"/><circle cx="417.8" cy="1022.7" r="5.7"/><circle cx="421.2" cy="1019.2" r="5.7"/><circle cx="424.6" cy="1020.4" r="5.7"/><circle cx="428.0" cy="1021.9" r="5.7"/><circle cx="431.4" cy="1023.3" r="5.7"/><circle cx="434.8" cy="1020.9" r="5.7"/><circle cx="438.2" cy="1019.1" r="5.7"/><circle cx="441.6" cy="1019.7" r="5.7"/><circle cx="445.0" cy="1018.9" r="5.7"/><circle cx="448.4" cy="1018.4" r="5.7"/><circle cx="451.8" cy="1021.9" r="5.7"/><circle cx="455.2" cy="1018.3" r="5.7"/><circle cx="458.6" cy="1019.1" r="5.7"/><circle cx="462.0" cy="1022.2" r="5.7"/><circle cx="465.4" cy="1020.4" r="5.7"/><circle cx="468.8" cy="1018.8" r="5.7"/><circle cx="472.2" cy="1017.2" r="5.7"/><circle cx="475.6" cy="1019.3" r="5.7"/><circle cx="479.0" cy="1021.7" r="5.7"/><circle cx="482.4" cy="1020.6" r="5.7"/><circle cx="485.8" cy="1022.0" r="5.7"/><circle cx="489.2" cy="1020.6" r="5.7"/><circle cx="492.6" cy="1021.8" r="5.7"/><circle cx="496.0" cy="1021.1" r="5.7"/><circle cx="499.4" cy="1022.6" r="5.7"/><circle cx="502.8" cy="1024.4" r="5.7"/><circle cx="506.2" cy="1020.5" r="5.7"/><circle cx="509.6" cy="1023.2" r="5.7"/><circle cx="513.0" cy="1024.1" r="5.7"/><circle cx="516.4" cy="1023.0" r="5.7"/><circle cx="519.8" cy="1023.2" r="5.7"/><circle cx="523.2" cy="1024.7" r="5.7"/><circle cx="526.6" cy="1026.5" r="5.7"/><circle cx="530.0" cy="1024.0" r="5.7"/><circle cx="533.4" cy="1023.3" r="5.7"/><circle cx="536.8" cy="1020.1" r="5.7"/><circle cx="540.2" cy="1025.4" r="5.7"/><circle cx="543.6" cy="1021.7" r="5.7"/><circle cx="547.0" cy="1020.7" r="5.7"/><circle cx="550.4" cy="1018.1" r="5.7"/><circle cx="553.8" cy="1019.2" r="5.7"/><circle cx="557.2" cy="1017.1" r="5.7"/><circle cx="560.6" cy="1018.7" r="5.7"/><circle cx="564.0" cy="1018.9" r="5.7"/><circle cx="567.4" cy="1016.9" r="5.7"/><circle cx="570.8" cy="1015.6" r="5.7"/><circle cx="574.2" cy="1012.1" r="5.7"/><circle cx="577.6" cy="1011.6" r="5.7"/><circle cx="581.0" cy="1003.5" r="5.7"/><circle cx="584.4" cy="992.7" r="5.7"/><circle cx="587.8" cy="988.2" r="5.7"/><circle cx="591.2" cy="976.9" r="5.7"/><circle cx="594.6" cy="960.1" r="5.7"/><circle cx="598.0" cy="942.0" r="5.7"/><circle cx="601.4" cy="924.7" r="5.7"/><circle cx="604.8" cy="907.6" r="5.7"/><circle cx="608.2" cy="898.2" r="5.7"/><circle cx="611.6" cy="893.3" r="5.7"/><circle cx="615.0" cy="894.4" r="5.7"/><circle cx="618.4" cy="900.0" r="5.7"/><circle cx="621.8" cy="911.2" r="5.7"/><circle cx="625.2" cy="921.3" r="5.7"/><circle cx="628.6" cy="938.1" r="5.7"/><circle cx="632.0" cy="955.8" r="5.7"/><circle cx="635.4" cy="971.2" r="5.7"/><circle cx="638.8" cy="976.8" r="5.7"/><circle cx="642.2" cy="987.7" r="5.7"/><circle cx="645.6" cy="989.9" r="5.7"/><circle cx="649.0" cy="988.7" r="5.7"/><circle cx="652.4" cy="982.9" r="5.7"/><circle cx="655.8" cy="978.5" r="5.7"/><circle cx="659.2" cy="976.1" r="5.7"/><circle cx="662.6" cy="957.9" r="5.7"/><circle cx="666.0" cy="942.2" r="5.7"/><circle cx="669.4" cy="915.4" r="5.7"/><circle cx="672.8" cy="883.4" r="5.7"/><circle cx="676.2" cy="861.8" r="5.7"/><circle cx="679.6" cy="843.2" r="5.7"/><circle cx="683.0" cy="826.1" r="5.7"/><circle cx="686.4" cy="819.1" r="5.7"/><circle cx="689.8" cy="824.5" r="5.7"/><circle cx="693.2" cy="844.6" r="5.7"/><circle cx="696.6" cy="864.5" r="5.7"/><circle cx="700.0" cy="887.7" r="5.7"/><circle cx="703.4" cy="914.5" r="5.7"/><circle cx="706.8" cy="942.9" r="5.7"/><circle cx="710.2" cy="964.2" r="5.7"/><circle cx="713.6" cy="977.6" r="5.7"/><circle cx="717.0" cy="988.3" r="5.7"/><circle cx="720.4" cy="996.0" r="5.7"/><circle cx="723.8" cy="1004.6" r="5.7"/><circle cx="727.2" cy="1009.6" r="5.7"/><circle cx="730.6" cy="1009.8" r="5.7"/><circle cx="734.0" cy="1014.0" r="5.7"/><circle cx="737.4" cy="1016.4" r="5.7"/><circle cx="740.8" cy="1017.5" r="5.7"/><circle cx="744.2" cy="1018.1" r="5.7"/><circle cx="747.6" cy="1018.3" r="5.7"/><circle cx="751.0" cy="1020.5" r="5.7"/><circle cx="754.4" cy="1019.5" r="5.7"/><circle cx="757.8" cy="1024.4" r="5.7"/><circle cx="761.2" cy="1023.6" r="5.7"/><circle cx="764.6" cy="1020.7" r="5.7"/><circle cx="768.0" cy="1024.7" r="5.7"/><circle cx="771.4" cy="1023.7" r="5.7"/><circle cx="774.8" cy="1019.1" r="5.7"/><circle cx="778.2" cy="1025.0" r="5.7"/><circle cx="781.6" cy="1023.2" r="5.7"/><circle cx="785.0" cy="1025.1" r="5.7"/><circle cx="788.4" cy="1019.6" r="5.7"/><circle cx="791.8" cy="1022.3" r="5.7"/><circle cx="795.2" cy="1022.0" r="5.7"/><circle cx="798.6" cy="1021.5" r="5.7"/><circle cx="802.0" cy="1021.3" r="5.7"/><circle cx="805.4" cy="1022.6" r="5.7"/><circle cx="808.8" cy="1018.4" r="5.7"/><circle cx="812.2" cy="1018.6" r="5.7"/><circle cx="815.6" cy="1018.5" r="5.7"/><circle cx="819.0" cy="1020.0" r="5.7"/><circle cx="822.4" cy="1020.0" r="5.7"/><circle cx="825.8" cy="1021.7" r="5.7"/><circle cx="829.2" cy="1021.7" r="5.7"/><circle cx="832.6" cy="1021.4" r="5.7"/><circle cx="836.0" cy="1020.4" r="5.7"/><circle cx="839.4" cy="1020.9" r="5.7"/><circle cx="842.8" cy="1023.3" r="5.7"/><circle cx="846.2" cy="1023.1" r="5.7"/><circle cx="849.6" cy="1022.1" r="5.7"/><circle cx="853.0" cy="1021.6" r="5.7"/><circle cx="856.4" cy="1024.7" r="5.7"/><circle cx="859.8" cy="1021.4" r="5.7"/><circle cx="863.2" cy="1023.5" r="5.7"/></g>
<path d="M139.0,1155.8 C154.5,1155.4 210.1,1154.7 232.0,1153.4 C253.9,1152.1 248.7,1148.7 270.3,1147.8 C291.9,1146.9 339.0,1147.7 361.4,1148.2 C383.8,1148.7 387.8,1149.3 404.6,1150.6 C421.4,1151.9 439.5,1155.3 462.1,1156.2 C484.7,1157.1 525.0,1155.4 540.0,1155.8 C555.0,1156.2 548.2,1158.6 552.4,1158.7 C556.5,1158.8 560.8,1157.5 564.9,1156.3 C569.0,1155.1 573.3,1152.6 577.3,1151.3 C581.3,1150.0 586.3,1153.9 589.0,1148.5 C591.7,1143.1 592.1,1125.9 593.5,1118.9 C594.9,1111.9 596.2,1110.0 597.2,1106.5 C598.2,1103.0 598.7,1101.5 599.7,1097.8 C600.8,1094.1 602.2,1089.3 603.5,1084.1 C604.8,1078.9 606.0,1073.1 607.2,1066.7 C608.4,1060.3 609.6,1050.9 610.9,1045.5 C612.1,1040.1 613.0,1036.4 614.7,1034.3 C616.4,1032.2 619.0,1029.6 620.9,1033.1 C622.8,1036.6 624.4,1048.7 625.9,1055.5 C627.4,1062.3 628.6,1067.9 629.6,1074.1 C630.6,1080.3 631.1,1086.6 632.1,1092.8 C633.1,1099.0 634.5,1105.9 635.8,1111.5 C637.0,1117.1 637.7,1122.3 639.6,1126.4 C641.5,1130.5 644.5,1133.8 647.0,1136.3 C649.5,1138.8 652.0,1143.4 654.5,1141.3 C657.0,1139.2 659.9,1130.1 662.0,1123.9 C664.1,1117.7 665.4,1111.0 666.9,1104.0 C668.4,1097.0 669.5,1089.1 670.7,1081.6 C672.0,1074.1 673.2,1068.7 674.4,1059.2 C675.6,1049.7 676.9,1036.4 678.1,1024.4 C679.4,1012.4 680.5,995.5 681.9,987.0 C683.3,978.5 685.3,977.3 686.8,973.6 C688.2,969.9 689.1,964.5 690.6,964.6 C692.1,964.7 694.0,968.1 695.5,974.3 C697.0,980.5 698.0,991.2 699.3,1002.0 C700.5,1012.8 701.8,1028.9 703.0,1039.3 C704.2,1049.7 705.5,1055.5 706.7,1064.2 C708.0,1072.9 709.2,1084.0 710.5,1091.5 C711.8,1099.0 713.0,1103.8 714.2,1109.0 C715.5,1114.2 716.8,1117.7 718.0,1122.7 C719.2,1127.7 719.8,1133.6 721.7,1138.8 C723.6,1144.0 726.3,1150.5 729.2,1153.8 C732.1,1157.1 735.4,1159.2 739.1,1158.7 C742.8,1158.2 745.8,1151.4 751.5,1150.8 C757.2,1150.2 766.0,1154.9 773.5,1154.9 C781.0,1154.9 789.0,1150.7 796.8,1151.0 C804.6,1151.3 813.1,1154.5 820.2,1156.8 C827.3,1159.1 832.0,1164.1 839.6,1165.0 C847.2,1165.9 861.6,1162.5 866.0,1162.0" fill="none" stroke="#000" stroke-width="1.2"/>
<g fill="url(#gK)"><circle cx="139.0" cy="1161.1" r="5.6"/><circle cx="142.4" cy="1154.5" r="5.6"/><circle cx="145.8" cy="1159.4" r="5.6"/><circle cx="149.2" cy="1150.4" r="5.6"/><circle cx="152.6" cy="1160.1" r="5.6"/><circle cx="156.0" cy="1156.3" r="5.6"/><circle cx="159.4" cy="1148.0" r="5.6"/><circle cx="162.8" cy="1158.3" r="5.6"/><circle cx="166.2" cy="1151.0" r="5.6"/><circle cx="169.6" cy="1160.9" r="5.6"/><circle cx="173.0" cy="1151.8" r="5.6"/><circle cx="176.4" cy="1154.1" r="5.6"/><circle cx="179.8" cy="1156.0" r="5.6"/><circle cx="183.2" cy="1153.1" r="5.6"/><circle cx="186.6" cy="1155.8" r="5.6"/><circle cx="190.0" cy="1151.9" r="5.6"/><circle cx="193.4" cy="1157.5" r="5.6"/><circle cx="196.8" cy="1154.3" r="5.6"/><circle cx="200.2" cy="1155.2" r="5.6"/><circle cx="203.6" cy="1141.5" r="5.6"/><circle cx="207.0" cy="1159.4" r="5.6"/><circle cx="210.4" cy="1154.1" r="5.6"/><circle cx="213.8" cy="1145.7" r="5.6"/><circle cx="217.2" cy="1154.2" r="5.6"/><circle cx="220.6" cy="1155.8" r="5.6"/><circle cx="224.0" cy="1158.5" r="5.6"/><circle cx="227.4" cy="1148.5" r="5.6"/><circle cx="230.8" cy="1160.5" r="5.6"/><circle cx="234.2" cy="1152.3" r="5.6"/><circle cx="237.6" cy="1163.6" r="5.6"/><circle cx="241.0" cy="1151.4" r="5.6"/><circle cx="244.4" cy="1154.7" r="5.6"/><circle cx="247.8" cy="1149.4" r="5.6"/><circle cx="251.2" cy="1145.5" r="5.6"/><circle cx="254.6" cy="1155.1" r="5.6"/><circle cx="258.0" cy="1153.8" r="5.6"/><circle cx="261.4" cy="1156.2" r="5.6"/><circle cx="264.8" cy="1152.5" r="5.6"/><circle cx="268.2" cy="1145.5" r="5.6"/><circle cx="271.6" cy="1140.2" r="5.6"/><circle cx="275.0" cy="1144.8" r="5.6"/><circle cx="278.4" cy="1144.7" r="5.6"/><circle cx="281.8" cy="1144.1" r="5.6"/><circle cx="285.2" cy="1150.5" r="5.6"/><circle cx="288.6" cy="1149.4" r="5.6"/><circle cx="292.0" cy="1146.7" r="5.6"/><circle cx="295.4" cy="1148.7" r="5.6"/><circle cx="298.8" cy="1147.3" r="5.6"/><circle cx="302.2" cy="1148.9" r="5.6"/><circle cx="305.6" cy="1151.4" r="5.6"/><circle cx="309.0" cy="1152.4" r="5.6"/><circle cx="312.4" cy="1144.8" r="5.6"/><circle cx="315.8" cy="1141.1" r="5.6"/><circle cx="319.2" cy="1154.6" r="5.6"/><circle cx="322.6" cy="1148.6" r="5.6"/><circle cx="326.0" cy="1153.1" r="5.6"/><circle cx="329.4" cy="1140.5" r="5.6"/><circle cx="332.8" cy="1146.6" r="5.6"/><circle cx="336.2" cy="1148.2" r="5.6"/><circle cx="339.6" cy="1141.5" r="5.6"/><circle cx="343.0" cy="1145.7" r="5.6"/><circle cx="346.4" cy="1151.5" r="5.6"/><circle cx="349.8" cy="1153.1" r="5.6"/><circle cx="353.2" cy="1155.5" r="5.6"/><circle cx="356.6" cy="1144.2" r="5.6"/><circle cx="360.0" cy="1141.7" r="5.6"/><circle cx="363.4" cy="1150.7" r="5.6"/><circle cx="366.8" cy="1152.8" r="5.6"/><circle cx="370.2" cy="1149.6" r="5.6"/><circle cx="373.6" cy="1142.9" r="5.6"/><circle cx="377.0" cy="1152.7" r="5.6"/><circle cx="380.4" cy="1152.9" r="5.6"/><circle cx="383.8" cy="1152.0" r="5.6"/><circle cx="387.2" cy="1147.4" r="5.6"/><circle cx="390.6" cy="1151.2" r="5.6"/><circle cx="394.0" cy="1153.6" r="5.6"/><circle cx="397.4" cy="1147.6" r="5.6"/><circle cx="400.8" cy="1141.9" r="5.6"/><circle cx="404.2" cy="1152.1" r="5.6"/><circle cx="407.6" cy="1153.1" r="5.6"/><circle cx="411.0" cy="1151.3" r="5.6"/><circle cx="414.4" cy="1155.6" r="5.6"/><circle cx="417.8" cy="1149.2" r="5.6"/><circle cx="421.2" cy="1151.8" r="5.6"/><circle cx="424.6" cy="1151.1" r="5.6"/><circle cx="428.0" cy="1155.5" r="5.6"/><circle cx="431.4" cy="1160.6" r="5.6"/><circle cx="434.8" cy="1152.4" r="5.6"/><circle cx="438.2" cy="1163.3" r="5.6"/><circle cx="441.6" cy="1161.2" r="5.6"/><circle cx="445.0" cy="1158.2" r="5.6"/><circle cx="448.4" cy="1157.6" r="5.6"/><circle cx="451.8" cy="1163.3" r="5.6"/><circle cx="455.2" cy="1154.7" r="5.6"/><circle cx="458.6" cy="1155.3" r="5.6"/><circle cx="462.0" cy="1151.3" r="5.6"/><circle cx="465.4" cy="1158.4" r="5.6"/><circle cx="468.8" cy="1162.4" r="5.6"/><circle cx="472.2" cy="1158.6" r="5.6"/><circle cx="475.6" cy="1158.1" r="5.6"/><circle cx="479.0" cy="1155.2" r="5.6"/><circle cx="482.4" cy="1156.9" r="5.6"/><circle cx="485.8" cy="1149.5" r="5.6"/><circle cx="489.2" cy="1160.9" r="5.6"/><circle cx="492.6" cy="1154.2" r="5.6"/><circle cx="496.0" cy="1150.9" r="5.6"/><circle cx="499.4" cy="1152.6" r="5.6"/><circle cx="502.8" cy="1152.2" r="5.6"/><circle cx="506.2" cy="1159.9" r="5.6"/><circle cx="509.6" cy="1160.8" r="5.6"/><circle cx="513.0" cy="1149.7" r="5.6"/><circle cx="516.4" cy="1160.2" r="5.6"/><circle cx="519.8" cy="1160.0" r="5.6"/><circle cx="523.2" cy="1153.2" r="5.6"/><circle cx="526.6" cy="1149.0" r="5.6"/><circle cx="530.0" cy="1152.4" r="5.6"/><circle cx="533.4" cy="1152.9" r="5.6"/><circle cx="536.8" cy="1157.4" r="5.6"/><circle cx="540.2" cy="1154.2" r="5.6"/><circle cx="543.6" cy="1147.3" r="5.6"/><circle cx="547.0" cy="1158.5" r="5.6"/><circle cx="550.4" cy="1151.2" r="5.6"/><circle cx="553.8" cy="1162.6" r="5.6"/><circle cx="557.2" cy="1152.2" r="5.6"/><circle cx="560.6" cy="1153.9" r="5.6"/><circle cx="564.0" cy="1152.5" r="5.6"/><circle cx="567.4" cy="1152.8" r="5.6"/><circle cx="570.8" cy="1159.9" r="5.6"/><circle cx="574.2" cy="1156.5" r="5.6"/><circle cx="577.6" cy="1154.0" r="5.6"/><circle cx="581.0" cy="1151.9" r="5.6"/><circle cx="584.4" cy="1142.5" r="5.6"/><circle cx="587.8" cy="1146.4" r="5.6"/><circle cx="591.2" cy="1131.5" r="5.6"/><circle cx="594.6" cy="1110.7" r="5.6"/><circle cx="598.0" cy="1106.1" r="5.6"/><circle cx="601.4" cy="1088.3" r="5.6"/><circle cx="604.8" cy="1074.7" r="5.6"/><circle cx="608.2" cy="1056.2" r="5.6"/><circle cx="611.6" cy="1034.0" r="5.6"/><circle cx="615.0" cy="1037.0" r="5.6"/><circle cx="618.4" cy="1039.7" r="5.6"/><circle cx="621.8" cy="1037.9" r="5.6"/><circle cx="625.2" cy="1047.9" r="5.6"/><circle cx="628.6" cy="1056.6" r="5.6"/><circle cx="632.0" cy="1092.8" r="5.6"/><circle cx="635.4" cy="1115.1" r="5.6"/><circle cx="638.8" cy="1124.6" r="5.6"/><circle cx="642.2" cy="1134.1" r="5.6"/><circle cx="645.6" cy="1141.2" r="5.6"/><circle cx="649.0" cy="1142.8" r="5.6"/><circle cx="652.4" cy="1137.9" r="5.6"/><circle cx="655.8" cy="1143.1" r="5.6"/><circle cx="659.2" cy="1134.0" r="5.6"/><circle cx="662.6" cy="1114.4" r="5.6"/><circle cx="666.0" cy="1105.8" r="5.6"/><circle cx="669.4" cy="1082.7" r="5.6"/><circle cx="672.8" cy="1068.4" r="5.6"/><circle cx="676.2" cy="1044.9" r="5.6"/><circle cx="679.6" cy="1004.7" r="5.6"/><circle cx="683.0" cy="974.5" r="5.6"/><circle cx="686.4" cy="980.7" r="5.6"/><circle cx="689.8" cy="968.2" r="5.6"/><circle cx="693.2" cy="976.5" r="5.6"/><circle cx="696.6" cy="976.2" r="5.6"/><circle cx="700.0" cy="1013.9" r="5.6"/><circle cx="703.4" cy="1051.5" r="5.6"/><circle cx="706.8" cy="1074.2" r="5.6"/><circle cx="710.2" cy="1088.4" r="5.6"/><circle cx="713.6" cy="1107.4" r="5.6"/><circle cx="717.0" cy="1118.4" r="5.6"/><circle cx="720.4" cy="1137.7" r="5.6"/><circle cx="723.8" cy="1147.8" r="5.6"/><circle cx="727.2" cy="1150.2" r="5.6"/><circle cx="730.6" cy="1148.2" r="5.6"/><circle cx="734.0" cy="1159.6" r="5.6"/><circle cx="737.4" cy="1155.7" r="5.6"/><circle cx="740.8" cy="1160.5" r="5.6"/><circle cx="744.2" cy="1156.7" r="5.6"/><circle cx="747.6" cy="1160.8" r="5.6"/><circle cx="751.0" cy="1156.4" r="5.6"/><circle cx="754.4" cy="1149.3" r="5.6"/><circle cx="757.8" cy="1153.6" r="5.6"/><circle cx="761.2" cy="1160.7" r="5.6"/><circle cx="764.6" cy="1150.8" r="5.6"/><circle cx="768.0" cy="1155.9" r="5.6"/><circle cx="771.4" cy="1160.0" r="5.6"/><circle cx="774.8" cy="1160.5" r="5.6"/><circle cx="778.2" cy="1156.5" r="5.6"/><circle cx="781.6" cy="1147.5" r="5.6"/><circle cx="785.0" cy="1147.2" r="5.6"/><circle cx="788.4" cy="1153.5" r="5.6"/><circle cx="791.8" cy="1153.6" r="5.6"/><circle cx="795.2" cy="1163.0" r="5.6"/><circle cx="798.6" cy="1147.5" r="5.6"/><circle cx="802.0" cy="1157.5" r="5.6"/><circle cx="805.4" cy="1156.7" r="5.6"/><circle cx="808.8" cy="1146.3" r="5.6"/><circle cx="812.2" cy="1151.1" r="5.6"/><circle cx="815.6" cy="1156.4" r="5.6"/><circle cx="819.0" cy="1154.2" r="5.6"/><circle cx="822.4" cy="1157.0" r="5.6"/><circle cx="825.8" cy="1161.3" r="5.6"/><circle cx="829.2" cy="1156.9" r="5.6"/><circle cx="832.6" cy="1164.2" r="5.6"/><circle cx="836.0" cy="1160.6" r="5.6"/><circle cx="839.4" cy="1162.4" r="5.6"/><circle cx="842.8" cy="1167.1" r="5.6"/><circle cx="846.2" cy="1161.6" r="5.6"/><circle cx="849.6" cy="1165.2" r="5.6"/><circle cx="853.0" cy="1170.8" r="5.6"/><circle cx="856.4" cy="1163.2" r="5.6"/><circle cx="859.8" cy="1162.0" r="5.6"/><circle cx="863.2" cy="1165.7" r="5.6"/></g>
</g>
<text x="5.71" y="736.08" font-size="71.88" font-weight="bold" fill="#000" textLength="75.79" lengthAdjust="spacingAndGlyphs">b)</text>
<text transform="rotate(-90)" x="-1083.58" y="112.50" font-size="47.53" font-weight="bold" textLength="302.00" lengthAdjust="spacingAndGlyphs">Intensity (cps)</text>
<text x="166.76" y="741.10" font-size="39.83" fill="#000" textLength="53.25" lengthAdjust="spacingAndGlyphs">Mo</text>
<text x="220.37" y="755.19" font-size="21.24" fill="#000" textLength="24.34" lengthAdjust="spacingAndGlyphs">3d</text>
<text x="204.58" y="894.00" font-size="31.25" fill="#000" textLength="214.38" lengthAdjust="spacingAndGlyphs">Shake-up Peak</text>
<text x="481.20" y="724.60" font-size="36.63" fill="#000" textLength="50.84" lengthAdjust="spacingAndGlyphs">Mo</text>
<text x="531.90" y="705.50" font-size="19.62" fill="#000" textLength="24.67" lengthAdjust="spacingAndGlyphs">6+</text>
<text x="556.08" y="724.60" font-size="36.63" fill="#000" textLength="31.56" lengthAdjust="spacingAndGlyphs">O</text>
<text x="585.78" y="738.00" font-size="21.80" fill="#000" textLength="13.49" lengthAdjust="spacingAndGlyphs">3</text>
<line x1="594.00" y1="702.60" x2="617.10" y2="702.60" stroke="#000" stroke-width="3.4"/>
<polygon points="615.1,709.1 636.1,704.6 636.1,700.6 615.1,696.1" fill="#000"/>
<text x="714.70" y="644.20" font-size="38.08" fill="#000" textLength="50.84" lengthAdjust="spacingAndGlyphs">Mo</text>
<text x="766.14" y="630.50" font-size="20.35" fill="#000" textLength="25.67" lengthAdjust="spacingAndGlyphs">3+</text>
<text x="791.59" y="644.20" font-size="38.08" fill="#000" textLength="31.34" lengthAdjust="spacingAndGlyphs">O</text>
<text x="820.16" y="657.50" font-size="22.53" fill="#000" textLength="12.32" lengthAdjust="spacingAndGlyphs">3</text>
<line x1="712.50" y1="634.10" x2="700.64" y2="648.38" stroke="#000" stroke-width="3.4"/>
<polygon points="696.9,642.7 687.0,661.7 690.0,664.3 706.9,651.0" fill="#000"/>
<text x="763.17" y="730.50" font-size="37.94" fill="#000" textLength="80.10" lengthAdjust="spacingAndGlyphs">MoO</text>
<text x="843.61" y="743.80" font-size="21.66" fill="#000" textLength="10.99" lengthAdjust="spacingAndGlyphs">2</text>
<line x1="822.70" y1="746.70" x2="795.50" y2="746.70" stroke="#000" stroke-width="3.4"/>
<polygon points="797.5,740.2 776.5,744.7 776.5,748.7 797.5,753.2" fill="#000"/>
<text x="778.25" y="888.47" font-size="53.92" font-weight="bold" fill="#0b66bd" textLength="64.48" lengthAdjust="spacingAndGlyphs" filter="url(#sh)">8h</text>
<text x="772.66" y="991.40" font-size="56.44" font-weight="bold" fill="#f40c0c" textLength="64.57" lengthAdjust="spacingAndGlyphs" filter="url(#sh)">4h</text>
<text x="771.55" y="1112.00" font-size="57.96" font-weight="bold" fill="#0a0a0a" textLength="65.75" lengthAdjust="spacingAndGlyphs" filter="url(#sh)">2h</text>
<text x="144.12" y="1229.60" font-size="22.97" fill="#000" textLength="35.99" lengthAdjust="spacingAndGlyphs">255</text>
<text x="261.47" y="1229.60" font-size="22.97" fill="#000" textLength="35.92" lengthAdjust="spacingAndGlyphs">250</text>
<text x="378.82" y="1229.60" font-size="22.97" fill="#000" textLength="35.99" lengthAdjust="spacingAndGlyphs">245</text>
<text x="496.17" y="1229.60" font-size="22.97" fill="#000" textLength="35.92" lengthAdjust="spacingAndGlyphs">240</text>
<text x="613.52" y="1229.60" font-size="22.97" fill="#000" textLength="35.99" lengthAdjust="spacingAndGlyphs">235</text>
<text x="730.87" y="1229.60" font-size="22.97" fill="#000" textLength="35.92" lengthAdjust="spacingAndGlyphs">230</text>
<text x="319.13" y="1279.30" font-size="37.50" font-weight="bold" fill="#000" textLength="366.78" lengthAdjust="spacingAndGlyphs">Binding Energy (eV)</text>
<line x1="476.30" y1="1376.00" x2="476.30" y2="2187.00" stroke="#000" stroke-width="2.2" stroke-dasharray="13 10.3"/>
<line x1="544.20" y1="1376.00" x2="544.20" y2="2187.00" stroke="#000" stroke-width="2.2" stroke-dasharray="13 10.3"/>
<line x1="577.10" y1="1376.00" x2="577.10" y2="2187.00" stroke="#000" stroke-width="2.2" stroke-dasharray="13 10.3"/>
<g clip-path="url(#clipC)">
<path d="M420.0,1715.8 L422.0,1715.7 L424.0,1715.7 L426.0,1715.6 L428.0,1715.5 L430.0,1715.3 L432.0,1715.2 L434.0,1715.0 L436.0,1714.8 L438.0,1714.5 L440.0,1714.1 L442.0,1713.7 L444.0,1713.3 L446.0,1712.7 L448.0,1712.0 L450.0,1711.2 L452.0,1710.3 L454.0,1709.2 L456.0,1707.9 L458.0,1706.5 L460.0,1704.8 L462.0,1702.9 L464.0,1700.7 L466.0,1698.2 L468.0,1695.4 L470.0,1692.2 L472.0,1688.7 L474.0,1684.7 L476.0,1680.4 L478.0,1675.5 L480.0,1670.2 L482.0,1664.4 L484.0,1658.1 L486.0,1651.3 L488.0,1644.0 L490.0,1636.2 L492.0,1627.8 L494.0,1618.9 L496.0,1609.6 L498.0,1599.8 L500.0,1589.6 L502.0,1579.1 L504.0,1568.3 L506.0,1557.2 L508.0,1546.0 L510.0,1534.6 L512.0,1523.3 L514.0,1512.1 L516.0,1501.1 L518.0,1490.3 L520.0,1479.9 L522.0,1470.0 L524.0,1460.8 L526.0,1452.1 L528.0,1444.3 L530.0,1437.3 L532.0,1431.2 L534.0,1426.2 L536.0,1422.2 L538.0,1419.3 L540.0,1417.6 L542.0,1417.0 L542.0,1417.0 L544.0,1417.4 L546.0,1418.5 L548.0,1420.1 L550.0,1422.1 L552.0,1425.1 L554.0,1428.3 L556.0,1431.8 L558.0,1436.7 L560.0,1441.8 L562.0,1447.8 L564.0,1460.2 L566.0,1473.1 L568.0,1484.2 L570.0,1493.9 L572.0,1503.7 L574.0,1513.4 L576.0,1526.7 L578.0,1540.3 L580.0,1554.0 L582.0,1564.1 L584.0,1573.5 L586.0,1582.8 L588.0,1592.1 L590.0,1601.3 L592.0,1610.5 L594.0,1619.7 L596.0,1626.2 L598.0,1632.5 L600.0,1638.8 L602.0,1644.7 L604.0,1649.4 L606.0,1654.1 L608.0,1658.7 L610.0,1663.5 L612.0,1668.2 L614.0,1673.0 L616.0,1677.8 L618.0,1682.6 L620.0,1685.9 L622.0,1688.4 L624.0,1690.9 L626.0,1693.4 L628.0,1696.0 L630.0,1698.5 L632.0,1701.0 L634.0,1703.0 L636.0,1704.1 L638.0,1705.2 L640.0,1706.4 L642.0,1707.5 L644.0,1708.6 L646.0,1709.7 L648.0,1710.9 L650.0,1712.0 L652.0,1713.0 L654.0,1713.2 L656.0,1713.5 L658.0,1713.8 L660.0,1714.1" fill="none" stroke="#1f6e1f" stroke-width="1.1"/>
<path d="M440.0,1897.5 L442.0,1897.3 L444.0,1896.9 L446.0,1896.6 L448.0,1896.1 L450.0,1895.6 L452.0,1895.0 L454.0,1894.4 L456.0,1893.6 L458.0,1892.7 L460.0,1891.7 L462.0,1890.6 L464.0,1889.3 L466.0,1887.9 L468.0,1886.3 L470.0,1884.5 L472.0,1882.5 L474.0,1880.3 L476.0,1877.8 L478.0,1875.1 L480.0,1872.2 L482.0,1868.9 L484.0,1865.3 L486.0,1861.5 L488.0,1857.3 L490.0,1852.7 L492.0,1847.9 L494.0,1842.7 L496.0,1837.1 L498.0,1831.2 L500.0,1824.9 L502.0,1818.3 L504.0,1811.3 L506.0,1804.1 L508.0,1796.5 L510.0,1788.7 L512.0,1780.6 L514.0,1772.2 L516.0,1763.7 L518.0,1755.1 L520.0,1746.3 L522.0,1737.4 L524.0,1728.6 L526.0,1719.8 L528.0,1711.1 L530.0,1702.5 L532.0,1694.2 L534.0,1686.1 L536.0,1678.3 L538.0,1670.9 L540.0,1664.0 L542.0,1657.6 L544.0,1651.7 L546.0,1646.4 L548.0,1641.7 L550.0,1637.8 L552.0,1634.5 L554.0,1632.0 L556.0,1630.2 L558.0,1629.2 L559.5,1629.0 L561.5,1629.0 L563.5,1628.9 L565.5,1628.9 L567.5,1628.7 L569.5,1628.3 L571.5,1628.4 L573.5,1628.9 L575.5,1629.4 L577.5,1631.6 L579.5,1634.9 L581.5,1639.5 L583.5,1648.4 L585.5,1657.7 L587.5,1668.6 L589.5,1680.0 L591.5,1690.8 L593.5,1701.3 L595.5,1711.8 L597.5,1722.0 L599.5,1732.0 L601.5,1742.1 L603.5,1752.1 L605.5,1760.5 L607.5,1768.3 L609.5,1776.1 L611.5,1783.9 L613.5,1791.5 L615.5,1799.1 L617.5,1806.3 L619.5,1812.6 L621.5,1818.9 L623.5,1825.2 L625.5,1831.3 L627.5,1837.2 L629.5,1843.2 L631.5,1849.1 L633.5,1853.7 L635.5,1858.3 L637.5,1862.9 L639.5,1867.6 L641.5,1871.3 L643.5,1873.9 L645.5,1876.5 L647.5,1879.2 L649.5,1881.8 L651.5,1884.4 L653.5,1887.0 L655.5,1889.5 L657.5,1890.1 L659.5,1890.6" fill="none" stroke="#1f6e1f" stroke-width="1.1"/>
<path d="M405.0,1712.1 L407.0,1711.2 L409.0,1710.2 L411.0,1708.9 L413.0,1707.4 L415.0,1705.8 L417.0,1703.8 L419.0,1701.6 L421.0,1699.1 L423.0,1696.3 L425.0,1693.2 L427.0,1689.8 L429.0,1686.1 L431.0,1682.2 L433.0,1677.9 L435.0,1673.4 L437.0,1668.8 L439.0,1664.0 L441.0,1659.0 L443.0,1654.1 L445.0,1649.2 L447.0,1644.4 L449.0,1639.7 L451.0,1635.4 L453.0,1631.4 L455.0,1627.8 L457.0,1624.7 L459.0,1622.1 L461.0,1620.1 L463.0,1618.8 L465.0,1618.1 L467.0,1618.1 L469.0,1618.8 L471.0,1620.1 L473.0,1622.1 L475.0,1624.7 L477.0,1627.8 L479.0,1631.4 L481.0,1635.4 L483.0,1639.7 L485.0,1644.4 L487.0,1649.2 L489.0,1654.1 L491.0,1659.0 L493.0,1664.0 L495.0,1668.8 L497.0,1673.4 L499.0,1677.9 L501.0,1682.2 L503.0,1686.1 L505.0,1689.8 L507.0,1693.2 L509.0,1696.3 L511.0,1699.1 L513.0,1701.6 L515.0,1703.8 L517.0,1705.8 L519.0,1707.4 L521.0,1708.9 L523.0,1710.2 L525.0,1711.2 L527.0,1712.1 L529.0,1712.9 L531.0,1713.5 L533.0,1714.0 L535.0,1714.4 L537.0,1714.8 L539.0,1715.0 L541.0,1715.3 L543.0,1715.4 L545.0,1715.6 L547.0,1715.7 L549.0,1715.8 L551.0,1715.8 L553.0,1715.9 L555.0,1715.9 L557.0,1715.9 L559.0,1715.9 L561.0,1716.0 L563.0,1716.0 L565.0,1716.0 L567.0,1716.0 L569.0,1716.0 L571.0,1716.0 L573.0,1716.0 L575.0,1716.0 L577.0,1716.0 L579.0,1716.0" fill="none" stroke="#1f6e1f" stroke-width="1.1"/>
<path d="M417.0,1857.8 L419.0,1854.5 L421.0,1851.0 L423.0,1847.4 L425.0,1843.6 L427.0,1839.7 L429.0,1835.7 L431.0,1831.6 L433.0,1827.4 L435.0,1823.2 L437.0,1818.8 L439.0,1814.5 L441.0,1810.1 L443.0,1805.8 L445.0,1801.4 L447.0,1797.2 L449.0,1793.0 L451.0,1788.9 L453.0,1784.9 L455.0,1781.1 L457.0,1777.5 L459.0,1774.0 L461.0,1770.8 L463.0,1767.9 L465.0,1765.2 L467.0,1762.7 L469.0,1760.6 L471.0,1758.8 L473.0,1757.4 L475.0,1756.3 L477.0,1755.5 L479.0,1755.1 L481.0,1755.0 L483.0,1755.3 L485.0,1756.0 L487.0,1757.0 L489.0,1758.4 L491.0,1760.1 L493.0,1762.1 L495.0,1764.4 L497.0,1767.0 L499.0,1769.9 L501.0,1773.0 L503.0,1776.4 L505.0,1780.0 L507.0,1783.8 L509.0,1787.7 L511.0,1791.7 L513.0,1795.9 L515.0,1800.2 L517.0,1804.5 L519.0,1808.8 L521.0,1813.2 L523.0,1817.5 L525.0,1821.9 L527.0,1826.2 L529.0,1830.4 L531.0,1834.5 L533.0,1838.5 L535.0,1842.5 L537.0,1846.3 L539.0,1849.9 L541.0,1853.5 L543.0,1856.8 L545.0,1860.1 L547.0,1863.1 L549.0,1866.1 L551.0,1868.8 L553.0,1871.4 L555.0,1873.8 L557.0,1876.1 L559.0,1878.2 L561.0,1880.2 L563.0,1882.0 L565.0,1883.7 L567.0,1885.3 L569.0,1886.7 L571.0,1888.0 L573.0,1889.2 L575.0,1890.3 L577.0,1891.3 L579.0,1892.1 L581.0,1892.9 L583.0,1893.7 L585.0,1894.3 L587.0,1894.9 L589.0,1895.4 L591.0,1895.9 L593.0,1896.3 L595.0,1896.6 L597.0,1897.0 L599.0,1897.2 L601.0,1897.5 L603.0,1897.7 L605.0,1897.9 L607.0,1898.0 L609.0,1898.2 L611.0,1898.3 L613.0,1898.4 L615.0,1898.5 L617.0,1898.6 L619.0,1898.6" fill="none" stroke="#1f6e1f" stroke-width="1.1"/>
<path d="M290.0,2183.9 L292.0,2183.9 L294.0,2183.9 L296.0,2183.9 L298.0,2183.9 L300.0,2183.8 L302.0,2183.8 L304.0,2183.8 L306.0,2183.7 L308.0,2183.7 L310.0,2183.6 L312.0,2183.6 L314.0,2183.5 L316.0,2183.4 L318.0,2183.4 L320.0,2183.3 L322.0,2183.1 L324.0,2183.0 L326.0,2182.9 L328.0,2182.7 L330.0,2182.5 L332.0,2182.3 L334.0,2182.0 L336.0,2181.7 L338.0,2181.4 L340.0,2181.1 L342.0,2180.7 L344.0,2180.2 L346.0,2179.7 L348.0,2179.2 L350.0,2178.6 L352.0,2177.9 L354.0,2177.2 L356.0,2176.4 L358.0,2175.5 L360.0,2174.5 L362.0,2173.4 L364.0,2172.2 L366.0,2170.9 L368.0,2169.5 L370.0,2168.0 L372.0,2166.4 L374.0,2164.6 L376.0,2162.7 L378.0,2160.6 L380.0,2158.4 L382.0,2156.1 L384.0,2153.5 L386.0,2150.8 L388.0,2148.0 L390.0,2144.9 L392.0,2141.7 L394.0,2138.3 L396.0,2134.8 L398.0,2131.0 L400.0,2127.1 L402.0,2123.0 L404.0,2118.7 L406.0,2114.3 L408.0,2109.7 L410.0,2104.9 L412.0,2100.0 L414.0,2095.0 L416.0,2089.8 L418.0,2084.6 L420.0,2079.2 L422.0,2073.7 L424.0,2068.2 L426.0,2062.7 L428.0,2057.1 L430.0,2051.5 L432.0,2045.9 L434.0,2040.4 L436.0,2034.9 L438.0,2029.5 L440.0,2024.2 L442.0,2019.1 L444.0,2014.1 L446.0,2009.3 L448.0,2004.6 L450.0,2000.2 L452.0,1996.1 L454.0,1992.2 L456.0,1988.6 L458.0,1985.4 L460.0,1982.4 L462.0,1979.8 L464.0,1977.6 L466.0,1975.7 L468.0,1974.2 L470.0,1973.1 L472.0,1972.3 L474.0,1972.0 L476.0,1972.1 L478.0,1972.6 L480.0,1973.5 L482.0,1974.7 L484.0,1976.4 L486.0,1978.4 L488.0,1980.8 L490.0,1983.6 L492.0,1986.6 L494.0,1990.0 L496.0,1993.7 L498.0,1997.7 L500.0,2002.0 L502.0,2006.5 L504.0,2011.2 L506.0,2016.1 L508.0,2021.1 L510.0,2026.3 L512.0,2031.7 L514.0,2037.1 L516.0,2042.6 L518.0,2048.2 L520.0,2053.7 L522.0,2059.3 L524.0,2064.9 L526.0,2070.4 L528.0,2075.9 L530.0,2081.3 L532.0,2086.7 L534.0,2091.9 L536.0,2097.0 L538.0,2102.0 L540.0,2106.8 L542.0,2111.5 L544.0,2116.1 L546.0,2120.4 L548.0,2124.6 L550.0,2128.7 L552.0,2132.5 L554.0,2136.2 L556.0,2139.7 L558.0,2143.0 L560.0,2146.2 L562.0,2149.1 L564.0,2151.9 L566.0,2154.6 L568.0,2157.0 L570.0,2159.3 L572.0,2161.5 L574.0,2163.5 L576.0,2165.3 L578.0,2167.1 L580.0,2168.6 L582.0,2170.1 L584.0,2171.5 L586.0,2172.7 L588.0,2173.8 L590.0,2174.9 L592.0,2175.8 L594.0,2176.7 L596.0,2177.5 L598.0,2178.2 L600.0,2178.8 L602.0,2179.4 L604.0,2179.9 L606.0,2180.4 L608.0,2180.8 L610.0,2181.2" fill="none" stroke="#1f6e1f" stroke-width="1.1"/>
<path d="M405.0,2182.3 L407.0,2182.0 L409.0,2181.8 L411.0,2181.5 L413.0,2181.1 L415.0,2180.7 L417.0,2180.3 L419.0,2179.9 L421.0,2179.4 L423.0,2178.8 L425.0,2178.2 L427.0,2177.5 L429.0,2176.8 L431.0,2176.0 L433.0,2175.1 L435.0,2174.1 L437.0,2173.1 L439.0,2171.9 L441.0,2170.7 L443.0,2169.4 L445.0,2167.9 L447.0,2166.4 L449.0,2164.7 L451.0,2162.9 L453.0,2161.0 L455.0,2159.0 L457.0,2156.8 L459.0,2154.5 L461.0,2152.1 L463.0,2149.5 L465.0,2146.8 L467.0,2143.9 L469.0,2140.9 L471.0,2137.8 L473.0,2134.5 L475.0,2131.1 L477.0,2127.5 L479.0,2123.9 L481.0,2120.1 L483.0,2116.2 L485.0,2112.1 L487.0,2108.0 L489.0,2103.8 L491.0,2099.5 L493.0,2095.1 L495.0,2090.7 L497.0,2086.2 L499.0,2081.7 L501.0,2077.2 L503.0,2072.7 L505.0,2068.2 L507.0,2063.7 L509.0,2059.3 L511.0,2055.0 L513.0,2050.7 L515.0,2046.6 L517.0,2042.6 L519.0,2038.8 L521.0,2035.1 L523.0,2031.6 L525.0,2028.3 L527.0,2025.2 L529.0,2022.3 L531.0,2019.7 L533.0,2017.4 L535.0,2015.3 L537.0,2013.5 L539.0,2012.0 L541.0,2010.8 L543.0,2009.9 L545.0,2009.3 L547.0,2009.0 L549.0,2009.1 L551.0,2009.6 L553.0,2010.5 L555.0,2011.9 L557.0,2013.7 L559.0,2015.8 L561.0,2018.4 L563.0,2021.3 L565.0,2024.6 L567.0,2028.2 L569.0,2032.1 L571.0,2036.3 L573.0,2040.7 L575.0,2045.4 L577.0,2050.2 L579.0,2055.2 L581.0,2060.3 L583.0,2065.4 L585.0,2070.7 L587.0,2076.0 L589.0,2081.3 L591.0,2086.6 L593.0,2091.8 L595.0,2097.0 L597.0,2102.1 L599.0,2107.1 L601.0,2112.0 L603.0,2116.7 L605.0,2121.3 L607.0,2125.7 L609.0,2129.9 L611.0,2134.0 L613.0,2137.8 L615.0,2141.5 L617.0,2145.0 L619.0,2148.3 L621.0,2151.4 L623.0,2154.2 L625.0,2157.0 L627.0,2159.5 L629.0,2161.8 L631.0,2164.0 L633.0,2166.0 L635.0,2167.8 L637.0,2169.5 L639.0,2171.1 L641.0,2172.5 L643.0,2173.8 L645.0,2174.9 L647.0,2176.0 L649.0,2176.9 L651.0,2177.8 L653.0,2178.5 L655.0,2179.2 L657.0,2179.8 L659.0,2180.4 L661.0,2180.8 L663.0,2181.3 L665.0,2181.6 L667.0,2182.0 L669.0,2182.2 L671.0,2182.5 L673.0,2182.7 L675.0,2182.9 L677.0,2183.1 L679.0,2183.2 L681.0,2183.3 L683.0,2183.4 L685.0,2183.5 L687.0,2183.6 L689.0,2183.7" fill="none" stroke="#1f6e1f" stroke-width="1.1"/>
<path d="M280.0,2183.8 L282.0,2183.7 L284.0,2183.7 L286.0,2183.6 L288.0,2183.6 L290.0,2183.5 L292.0,2183.4 L294.0,2183.3 L296.0,2183.1 L298.0,2183.0 L300.0,2182.8 L302.0,2182.6 L304.0,2182.4 L306.0,2182.2 L308.0,2182.0 L310.0,2181.7 L312.0,2181.5 L314.0,2181.2 L316.0,2180.9 L318.0,2180.7 L320.0,2180.4 L322.0,2180.1 L324.0,2179.8 L326.0,2179.5 L328.0,2179.2 L330.0,2179.0 L332.0,2178.8 L334.0,2178.6 L336.0,2178.4 L338.0,2178.2 L340.0,2178.1 L342.0,2178.0 L344.0,2178.0 L346.0,2178.0 L348.0,2178.0 L350.0,2178.1 L352.0,2178.2 L354.0,2178.4 L356.0,2178.6 L358.0,2178.8 L360.0,2179.0 L362.0,2179.2 L364.0,2179.5 L366.0,2179.8 L368.0,2180.1 L370.0,2180.4 L372.0,2180.7 L374.0,2180.9 L376.0,2181.2 L378.0,2181.5 L380.0,2181.7 L382.0,2182.0 L384.0,2182.2 L386.0,2182.4 L388.0,2182.6 L390.0,2182.8 L392.0,2183.0 L394.0,2183.1 L396.0,2183.3 L398.0,2183.4 L400.0,2183.5" fill="none" stroke="#1f6e1f" stroke-width="1.1"/>
<g fill="url(#gB)"><circle cx="143.0" cy="1710.7" r="5.8"/><circle cx="149.0" cy="1711.9" r="5.8"/><circle cx="155.0" cy="1710.0" r="5.9"/><circle cx="161.0" cy="1711.5" r="5.8"/><circle cx="167.0" cy="1710.6" r="5.8"/><circle cx="173.0" cy="1710.4" r="5.9"/><circle cx="179.0" cy="1712.4" r="5.8"/><circle cx="185.0" cy="1710.3" r="5.9"/><circle cx="191.0" cy="1712.4" r="5.8"/><circle cx="197.0" cy="1711.5" r="5.8"/><circle cx="203.0" cy="1712.2" r="5.8"/><circle cx="209.0" cy="1710.2" r="5.9"/><circle cx="215.0" cy="1712.0" r="5.8"/><circle cx="221.0" cy="1712.2" r="5.8"/><circle cx="227.0" cy="1710.9" r="5.8"/><circle cx="233.0" cy="1710.9" r="5.8"/><circle cx="239.0" cy="1713.0" r="5.8"/><circle cx="245.0" cy="1711.1" r="5.8"/><circle cx="251.0" cy="1710.7" r="5.8"/><circle cx="257.0" cy="1710.5" r="5.9"/><circle cx="263.0" cy="1711.4" r="5.8"/><circle cx="269.0" cy="1711.3" r="5.8"/><circle cx="275.0" cy="1711.1" r="5.8"/><circle cx="281.0" cy="1712.4" r="5.8"/><circle cx="287.0" cy="1710.7" r="5.8"/><circle cx="293.0" cy="1711.4" r="5.8"/><circle cx="299.0" cy="1712.2" r="5.8"/><circle cx="305.0" cy="1710.2" r="5.9"/><circle cx="311.0" cy="1711.8" r="5.8"/><circle cx="317.0" cy="1712.5" r="5.8"/><circle cx="323.0" cy="1709.9" r="5.9"/><circle cx="329.0" cy="1710.1" r="5.9"/><circle cx="335.0" cy="1710.2" r="5.9"/><circle cx="341.0" cy="1709.5" r="6.0"/><circle cx="347.0" cy="1711.4" r="5.8"/><circle cx="353.0" cy="1709.5" r="6.0"/><circle cx="359.0" cy="1710.6" r="5.8"/><circle cx="365.0" cy="1710.3" r="5.9"/><circle cx="371.0" cy="1706.6" r="6.3"/><circle cx="377.0" cy="1705.5" r="6.4"/><circle cx="383.0" cy="1702.0" r="6.8"/><circle cx="389.0" cy="1702.0" r="6.8"/><circle cx="395.0" cy="1696.9" r="7.3"/><circle cx="401.0" cy="1692.9" r="7.8"/><circle cx="407.0" cy="1687.7" r="8.4"/><circle cx="413.0" cy="1680.5" r="9.1"/><circle cx="419.0" cy="1670.1" r="9.1"/><circle cx="425.0" cy="1658.7" r="9.1"/><circle cx="431.0" cy="1646.2" r="9.1"/><circle cx="437.0" cy="1634.6" r="9.1"/><circle cx="443.0" cy="1622.4" r="9.1"/><circle cx="449.0" cy="1612.9" r="9.1"/><circle cx="455.0" cy="1600.8" r="9.1"/><circle cx="461.0" cy="1591.7" r="9.1"/><circle cx="467.0" cy="1584.7" r="9.1"/><circle cx="473.0" cy="1574.8" r="9.1"/><circle cx="479.0" cy="1565.8" r="9.1"/><circle cx="485.0" cy="1558.9" r="9.1"/><circle cx="491.0" cy="1551.1" r="9.1"/><circle cx="497.0" cy="1540.1" r="9.1"/><circle cx="503.0" cy="1525.6" r="9.1"/><circle cx="509.0" cy="1509.2" r="9.1"/><circle cx="515.0" cy="1488.9" r="9.1"/><circle cx="521.0" cy="1463.2" r="9.1"/><circle cx="527.0" cy="1436.4" r="9.1"/><circle cx="533.0" cy="1414.1" r="9.1"/><circle cx="539.0" cy="1407.1" r="9.1"/><circle cx="545.0" cy="1404.8" r="9.1"/><circle cx="551.0" cy="1409.0" r="9.1"/><circle cx="557.0" cy="1423.2" r="9.1"/><circle cx="563.0" cy="1447.7" r="9.1"/><circle cx="569.0" cy="1486.0" r="9.1"/><circle cx="575.0" cy="1513.9" r="9.1"/><circle cx="581.0" cy="1554.4" r="9.1"/><circle cx="587.0" cy="1582.6" r="9.1"/><circle cx="593.0" cy="1610.0" r="9.1"/><circle cx="599.0" cy="1630.4" r="9.1"/><circle cx="605.0" cy="1645.6" r="9.1"/><circle cx="611.0" cy="1660.0" r="9.1"/><circle cx="617.0" cy="1676.6" r="9.1"/><circle cx="623.0" cy="1684.1" r="8.8"/><circle cx="629.0" cy="1692.9" r="7.8"/><circle cx="635.0" cy="1697.2" r="7.3"/><circle cx="641.0" cy="1701.7" r="6.8"/><circle cx="647.0" cy="1705.5" r="6.4"/><circle cx="653.0" cy="1708.9" r="6.0"/><circle cx="659.0" cy="1708.0" r="6.1"/><circle cx="665.0" cy="1710.3" r="5.9"/><circle cx="671.0" cy="1710.8" r="5.8"/><circle cx="677.0" cy="1709.9" r="5.9"/><circle cx="683.0" cy="1710.9" r="5.8"/><circle cx="689.0" cy="1709.8" r="5.9"/><circle cx="695.0" cy="1709.9" r="5.9"/><circle cx="701.0" cy="1710.5" r="5.9"/><circle cx="707.0" cy="1708.3" r="6.1"/><circle cx="713.0" cy="1710.4" r="5.9"/><circle cx="719.0" cy="1709.7" r="5.9"/><circle cx="725.0" cy="1709.3" r="6.0"/><circle cx="731.0" cy="1710.2" r="5.9"/><circle cx="737.0" cy="1711.1" r="5.8"/><circle cx="743.0" cy="1710.2" r="5.9"/><circle cx="749.0" cy="1711.5" r="5.8"/><circle cx="755.0" cy="1709.6" r="6.0"/><circle cx="761.0" cy="1709.5" r="6.0"/><circle cx="767.0" cy="1711.7" r="5.8"/><circle cx="773.0" cy="1710.8" r="5.8"/><circle cx="779.0" cy="1711.3" r="5.8"/><circle cx="785.0" cy="1709.8" r="5.9"/><circle cx="791.0" cy="1711.1" r="5.8"/><circle cx="797.0" cy="1710.7" r="5.8"/><circle cx="803.0" cy="1711.0" r="5.8"/><circle cx="809.0" cy="1710.5" r="5.9"/><circle cx="815.0" cy="1711.5" r="5.8"/><circle cx="821.0" cy="1710.0" r="5.9"/><circle cx="827.0" cy="1709.7" r="5.9"/><circle cx="833.0" cy="1709.3" r="6.0"/><circle cx="839.0" cy="1711.4" r="5.8"/><circle cx="845.0" cy="1709.9" r="5.9"/><circle cx="851.0" cy="1709.7" r="5.9"/><circle cx="857.0" cy="1709.7" r="5.9"/></g>
<path d="M143.0,1716.0 L144.5,1716.0 L146.0,1716.0 L147.5,1716.0 L149.0,1716.0 L150.5,1716.0 L152.0,1716.0 L153.5,1716.0 L155.0,1716.0 L156.5,1716.0 L158.0,1716.0 L159.5,1716.0 L161.0,1716.0 L162.5,1716.0 L164.0,1716.0 L165.5,1716.0 L167.0,1716.0 L168.5,1716.0 L170.0,1716.0 L171.5,1716.0 L173.0,1716.0 L174.5,1716.0 L176.0,1716.0 L177.5,1716.0 L179.0,1716.0 L180.5,1716.0 L182.0,1716.0 L183.5,1716.0 L185.0,1716.0 L186.5,1716.0 L188.0,1716.0 L189.5,1716.0 L191.0,1716.0 L192.5,1716.0 L194.0,1716.0 L195.5,1716.0 L197.0,1716.0 L198.5,1716.0 L200.0,1716.0 L201.5,1716.0 L203.0,1716.0 L204.5,1716.0 L206.0,1716.0 L207.5,1716.0 L209.0,1716.0 L210.5,1716.0 L212.0,1716.0 L213.5,1716.0 L215.0,1716.0 L216.5,1716.0 L218.0,1716.0 L219.5,1716.0 L221.0,1716.0 L222.5,1716.0 L224.0,1716.0 L225.5,1716.0 L227.0,1716.0 L228.5,1716.0 L230.0,1716.0 L231.5,1716.0 L233.0,1716.0 L234.5,1716.0 L236.0,1716.0 L237.5,1716.0 L239.0,1716.0 L240.5,1716.0 L242.0,1716.0 L243.5,1716.0 L245.0,1716.0 L246.5,1716.0 L248.0,1716.0 L249.5,1716.0 L251.0,1716.0 L252.5,1716.0 L254.0,1716.0 L255.5,1716.0 L257.0,1716.0 L258.5,1716.0 L260.0,1716.0 L261.5,1716.0 L263.0,1716.0 L264.5,1716.0 L266.0,1716.0 L267.5,1716.0 L269.0,1716.0 L270.5,1716.0 L272.0,1716.0 L273.5,1716.0 L275.0,1716.0 L276.5,1716.0 L278.0,1716.0 L279.5,1716.0 L281.0,1716.0 L282.5,1716.0 L284.0,1716.0 L285.5,1716.0 L287.0,1716.0 L288.5,1716.0 L290.0,1716.0 L291.5,1716.0 L293.0,1716.0 L294.5,1716.0 L296.0,1716.0 L297.5,1716.0 L299.0,1716.0 L300.5,1716.0 L302.0,1716.0 L303.5,1716.0 L305.0,1716.0 L306.5,1716.0 L308.0,1716.0 L309.5,1716.0 L311.0,1716.0 L312.5,1716.0 L314.0,1716.0 L315.5,1716.0 L317.0,1716.0 L318.5,1716.0 L320.0,1716.0 L321.5,1716.0 L323.0,1716.0 L324.5,1716.0 L326.0,1716.0 L327.5,1716.0 L329.0,1716.0 L330.5,1716.0 L332.0,1716.0 L333.5,1716.0 L335.0,1716.0 L336.5,1716.0 L338.0,1716.0 L339.5,1716.0 L341.0,1716.0 L342.5,1716.0 L344.0,1716.0 L345.5,1716.0 L347.0,1716.0 L348.5,1716.0 L350.0,1716.0 L351.5,1716.0 L353.0,1716.0 L354.5,1716.0 L356.0,1716.0 L357.5,1715.9 L359.0,1715.8 L360.5,1715.7 L362.0,1715.7 L363.5,1715.6 L365.0,1715.5 L366.5,1715.4 L368.0,1715.3 L369.5,1715.1 L371.0,1715.0 L372.5,1714.8 L374.0,1714.5 L375.5,1714.2 L377.0,1713.8 L378.5,1713.5 L380.0,1713.1 L381.5,1712.7 L383.0,1712.3 L384.5,1711.8 L386.0,1711.4 L387.5,1710.9 L389.0,1710.4 L390.5,1709.6 L392.0,1708.5 L393.5,1707.3 L395.0,1706.0 L396.5,1704.6 L398.0,1703.1 L399.5,1701.6 L401.0,1699.6 L402.5,1697.3 L404.0,1694.9 L405.5,1692.3 L407.0,1689.6 L408.5,1686.8 L410.0,1685.0 L411.5,1682.6 L413.0,1680.1 L414.5,1677.7 L416.0,1675.2 L417.5,1672.8 L419.0,1670.3 L420.5,1667.7 L422.0,1664.7 L423.5,1661.7 L425.0,1658.6 L426.5,1655.6 L428.0,1652.6 L429.5,1649.6 L431.0,1646.6 L432.5,1643.6 L434.0,1640.6 L435.5,1637.5 L437.0,1634.5 L438.5,1631.5 L440.0,1628.6 L441.5,1625.9 L443.0,1623.3 L444.5,1620.7 L446.0,1618.1 L447.5,1615.5 L449.0,1612.9 L450.5,1610.3 L452.0,1607.6 L453.5,1605.0 L455.0,1602.3 L456.5,1599.7 L458.0,1597.0 L459.5,1594.4 L461.0,1592.1 L462.5,1589.8 L464.0,1587.6 L465.5,1585.4 L467.0,1583.1 L468.5,1580.9 L470.0,1578.7 L471.5,1576.7 L473.0,1574.7 L474.5,1572.8 L476.0,1570.8 L477.5,1568.8 L479.0,1566.8 L480.5,1564.7 L482.0,1562.7 L483.5,1560.7 L485.0,1558.7 L486.5,1557.0 L488.0,1555.3 L489.5,1553.6 L491.0,1551.8 L492.5,1550.1 L494.0,1547.7 L495.5,1544.6 L497.0,1541.4 L498.5,1538.3 L500.0,1534.8 L501.5,1530.5 L503.0,1526.2 L504.5,1521.9 L506.0,1517.5 L507.5,1513.1 L509.0,1508.6 L510.5,1504.2 L512.0,1499.8 L513.5,1494.9 L515.0,1488.6 L516.5,1482.3 L518.0,1475.9 L519.5,1469.6 L521.0,1463.3 L522.5,1457.0 L524.0,1450.7 L525.5,1444.3 L527.0,1437.1 L528.5,1429.8 L530.0,1422.4 L531.5,1418.0 L533.0,1415.0 L534.5,1412.0 L536.0,1409.0 L537.5,1406.8 L539.0,1406.0 L540.5,1405.2 L542.0,1404.5 L543.5,1404.2 L545.0,1404.6 L546.5,1405.1 L548.0,1405.6 L549.5,1406.4 L551.0,1409.8 L552.5,1413.1 L554.0,1416.5 L555.5,1419.8 L557.0,1424.8 L558.5,1429.9 L560.0,1434.9 L561.5,1440.0 L563.0,1448.8 L564.5,1458.4 L566.0,1468.1 L567.5,1476.7 L569.0,1484.0 L570.5,1491.3 L572.0,1498.7 L573.5,1506.0 L575.0,1514.9 L576.5,1525.1 L578.0,1535.3 L579.5,1545.6 L581.0,1554.5 L582.5,1561.5 L584.0,1568.5 L585.5,1575.4 L587.0,1582.4 L588.5,1589.4 L590.0,1596.3 L591.5,1603.2 L593.0,1610.1 L594.5,1616.5 L596.0,1621.2 L597.5,1625.9 L599.0,1630.6 L600.5,1635.3 L602.0,1639.7 L603.5,1643.2 L605.0,1646.7 L606.5,1650.2 L608.0,1653.7 L609.5,1657.3 L611.0,1660.9 L612.5,1664.4 L614.0,1668.0 L615.5,1671.6 L617.0,1675.2 L618.5,1678.8 L620.0,1680.9 L621.5,1682.8 L623.0,1684.7 L624.5,1687.2 L626.0,1691.1 L627.5,1694.8 L629.0,1698.1 L630.5,1701.2 L632.0,1704.0 L633.5,1706.3 L635.0,1707.3 L636.5,1708.3 L638.0,1709.2 L639.5,1710.1 L641.0,1710.9 L642.5,1711.7 L644.0,1712.3 L645.5,1713.0 L647.0,1713.6 L648.5,1714.1 L650.0,1714.6 L651.5,1715.0 L653.0,1715.1 L654.5,1715.2 L656.0,1715.3 L657.5,1715.3 L659.0,1715.4 L660.5,1715.5 L662.0,1715.6 L663.5,1715.6 L665.0,1715.7 L666.5,1715.8 L668.0,1715.8 L669.5,1715.9 L671.0,1715.9 L672.5,1715.9 L674.0,1715.9 L675.5,1715.9 L677.0,1715.9 L678.5,1715.9 L680.0,1715.9 L681.5,1715.9 L683.0,1715.9 L684.5,1715.9 L686.0,1715.9 L687.5,1715.9 L689.0,1715.9 L690.5,1715.9 L692.0,1715.9 L693.5,1715.9 L695.0,1715.9 L696.5,1715.9 L698.0,1715.9 L699.5,1715.9 L701.0,1715.9 L702.5,1715.9 L704.0,1715.9 L705.5,1715.9 L707.0,1715.9 L708.5,1715.9 L710.0,1715.9 L711.5,1715.9 L713.0,1715.9 L714.5,1715.9 L716.0,1715.9 L717.5,1715.9 L719.0,1715.9 L720.5,1715.9 L722.0,1715.9 L723.5,1715.9 L725.0,1715.9 L726.5,1715.9 L728.0,1715.9 L729.5,1715.9 L731.0,1715.9 L732.5,1715.9 L734.0,1715.9 L735.5,1715.9 L737.0,1715.9 L738.5,1715.9 L740.0,1715.9 L741.5,1715.9 L743.0,1715.9 L744.5,1715.9 L746.0,1715.9 L747.5,1715.9 L749.0,1715.9 L750.5,1715.9 L752.0,1715.9 L753.5,1715.9 L755.0,1715.9 L756.5,1715.9 L758.0,1715.9 L759.5,1715.9 L761.0,1715.9 L762.5,1715.9 L764.0,1715.9 L765.5,1715.9 L767.0,1715.9 L768.5,1715.9 L770.0,1715.9 L771.5,1715.9 L773.0,1715.9 L774.5,1715.9 L776.0,1715.9 L777.5,1715.9 L779.0,1715.9 L780.5,1715.9 L782.0,1715.9 L783.5,1715.9 L785.0,1715.9 L786.5,1715.9 L788.0,1715.9 L789.5,1715.9 L791.0,1715.9 L792.5,1715.9 L794.0,1715.9 L795.5,1715.9 L797.0,1715.9 L798.5,1715.9 L800.0,1715.9 L801.5,1715.9 L803.0,1715.9 L804.5,1715.9 L806.0,1715.9 L807.5,1715.9 L809.0,1715.9 L810.5,1715.9 L812.0,1715.9 L813.5,1715.9 L815.0,1715.9 L816.5,1715.9 L818.0,1715.9 L819.5,1715.9 L821.0,1715.9 L822.5,1715.9 L824.0,1715.9 L825.5,1715.9 L827.0,1715.9 L828.5,1715.9 L830.0,1715.9 L831.5,1715.9 L833.0,1715.9 L834.5,1715.9 L836.0,1715.9 L837.5,1715.9 L839.0,1715.9 L840.5,1715.9 L842.0,1715.9 L843.5,1715.9 L845.0,1715.9 L846.5,1715.9 L848.0,1715.9 L849.5,1715.9 L851.0,1715.9 L852.5,1715.9 L854.0,1715.9 L855.5,1715.9 L857.0,1715.9 L858.5,1715.9 L860.0,1715.9 L861.5,1715.9" fill="none" stroke="#b0204a" stroke-width="1.6"/>
<g fill="url(#gR)"><circle cx="143.0" cy="1891.9" r="5.8"/><circle cx="148.5" cy="1891.3" r="5.9"/><circle cx="154.0" cy="1892.1" r="5.8"/><circle cx="159.5" cy="1891.8" r="5.8"/><circle cx="165.0" cy="1891.9" r="5.8"/><circle cx="170.5" cy="1891.5" r="5.9"/><circle cx="176.0" cy="1892.3" r="5.8"/><circle cx="181.5" cy="1891.9" r="5.8"/><circle cx="187.0" cy="1892.4" r="5.8"/><circle cx="192.5" cy="1892.5" r="5.8"/><circle cx="198.0" cy="1892.6" r="5.8"/><circle cx="203.5" cy="1890.5" r="6.0"/><circle cx="209.0" cy="1891.9" r="5.8"/><circle cx="214.5" cy="1891.7" r="5.8"/><circle cx="220.0" cy="1892.9" r="5.8"/><circle cx="225.5" cy="1891.0" r="5.9"/><circle cx="231.0" cy="1891.7" r="5.8"/><circle cx="236.5" cy="1892.1" r="5.8"/><circle cx="242.0" cy="1892.0" r="5.8"/><circle cx="247.5" cy="1893.1" r="5.8"/><circle cx="253.0" cy="1891.9" r="5.8"/><circle cx="258.5" cy="1893.1" r="5.8"/><circle cx="264.0" cy="1891.1" r="5.9"/><circle cx="269.5" cy="1890.9" r="5.9"/><circle cx="275.0" cy="1893.3" r="5.8"/><circle cx="280.5" cy="1892.6" r="5.8"/><circle cx="286.0" cy="1892.7" r="5.8"/><circle cx="291.5" cy="1892.4" r="5.8"/><circle cx="297.0" cy="1892.7" r="5.8"/><circle cx="302.5" cy="1891.3" r="5.9"/><circle cx="308.0" cy="1893.1" r="5.8"/><circle cx="313.5" cy="1891.9" r="5.8"/><circle cx="319.0" cy="1893.1" r="5.8"/><circle cx="324.5" cy="1892.4" r="5.8"/><circle cx="330.0" cy="1890.7" r="6.0"/><circle cx="335.5" cy="1891.3" r="5.9"/><circle cx="341.0" cy="1893.2" r="5.8"/><circle cx="346.5" cy="1892.2" r="5.8"/><circle cx="352.0" cy="1892.0" r="5.8"/><circle cx="357.5" cy="1892.5" r="5.8"/><circle cx="363.0" cy="1892.0" r="5.8"/><circle cx="368.5" cy="1889.2" r="6.2"/><circle cx="374.0" cy="1886.8" r="6.5"/><circle cx="379.5" cy="1883.9" r="6.8"/><circle cx="385.0" cy="1881.9" r="7.1"/><circle cx="390.5" cy="1877.5" r="7.6"/><circle cx="396.0" cy="1873.5" r="8.1"/><circle cx="401.5" cy="1867.9" r="8.9"/><circle cx="407.0" cy="1862.3" r="9.6"/><circle cx="412.5" cy="1854.4" r="9.6"/><circle cx="418.0" cy="1845.0" r="9.6"/><circle cx="423.5" cy="1836.4" r="9.6"/><circle cx="429.0" cy="1826.8" r="9.6"/><circle cx="434.5" cy="1816.7" r="9.6"/><circle cx="440.0" cy="1807.6" r="9.6"/><circle cx="445.5" cy="1796.1" r="9.6"/><circle cx="451.0" cy="1786.9" r="9.6"/><circle cx="456.5" cy="1773.3" r="9.6"/><circle cx="462.0" cy="1759.7" r="9.6"/><circle cx="467.5" cy="1742.8" r="9.6"/><circle cx="473.0" cy="1728.5" r="9.6"/><circle cx="478.5" cy="1715.7" r="9.6"/><circle cx="484.0" cy="1704.8" r="9.6"/><circle cx="489.5" cy="1694.9" r="9.6"/><circle cx="495.0" cy="1685.2" r="9.6"/><circle cx="500.5" cy="1678.8" r="9.6"/><circle cx="506.0" cy="1670.0" r="9.6"/><circle cx="511.5" cy="1663.7" r="9.6"/><circle cx="517.0" cy="1653.3" r="9.6"/><circle cx="522.5" cy="1645.0" r="9.6"/><circle cx="528.0" cy="1639.3" r="9.6"/><circle cx="533.5" cy="1631.2" r="9.6"/><circle cx="539.0" cy="1623.6" r="9.6"/><circle cx="544.5" cy="1615.5" r="9.6"/><circle cx="550.0" cy="1610.6" r="9.6"/><circle cx="555.5" cy="1609.1" r="9.6"/><circle cx="561.0" cy="1607.5" r="9.6"/><circle cx="566.5" cy="1610.5" r="9.6"/><circle cx="572.0" cy="1614.1" r="9.6"/><circle cx="577.5" cy="1625.0" r="9.6"/><circle cx="583.0" cy="1641.3" r="9.6"/><circle cx="588.5" cy="1671.0" r="9.6"/><circle cx="594.0" cy="1698.8" r="9.6"/><circle cx="599.5" cy="1728.5" r="9.6"/><circle cx="605.0" cy="1755.4" r="9.6"/><circle cx="610.5" cy="1777.1" r="9.6"/><circle cx="616.0" cy="1796.3" r="9.6"/><circle cx="621.5" cy="1815.8" r="9.6"/><circle cx="627.0" cy="1831.2" r="9.6"/><circle cx="632.5" cy="1846.8" r="9.6"/><circle cx="638.0" cy="1859.0" r="9.6"/><circle cx="643.5" cy="1870.8" r="8.5"/><circle cx="649.0" cy="1878.4" r="7.5"/><circle cx="654.5" cy="1883.9" r="6.8"/><circle cx="660.0" cy="1886.2" r="6.5"/><circle cx="665.5" cy="1888.1" r="6.3"/><circle cx="671.0" cy="1892.0" r="5.8"/><circle cx="676.5" cy="1892.5" r="5.8"/><circle cx="682.0" cy="1891.5" r="5.9"/><circle cx="687.5" cy="1890.5" r="6.0"/><circle cx="693.0" cy="1891.4" r="5.9"/><circle cx="698.5" cy="1892.9" r="5.8"/><circle cx="704.0" cy="1893.5" r="5.8"/><circle cx="709.5" cy="1891.8" r="5.8"/><circle cx="715.0" cy="1891.5" r="5.9"/><circle cx="720.5" cy="1891.7" r="5.8"/><circle cx="726.0" cy="1890.6" r="6.0"/><circle cx="731.5" cy="1892.8" r="5.8"/><circle cx="737.0" cy="1891.3" r="5.9"/><circle cx="742.5" cy="1893.0" r="5.8"/><circle cx="748.0" cy="1890.8" r="6.0"/><circle cx="753.5" cy="1891.2" r="5.9"/><circle cx="759.0" cy="1892.4" r="5.8"/><circle cx="764.5" cy="1891.6" r="5.8"/><circle cx="770.0" cy="1892.9" r="5.8"/><circle cx="775.5" cy="1892.3" r="5.8"/><circle cx="781.0" cy="1891.4" r="5.9"/><circle cx="786.5" cy="1892.8" r="5.8"/><circle cx="792.0" cy="1893.0" r="5.8"/><circle cx="797.5" cy="1890.8" r="5.9"/><circle cx="803.0" cy="1893.8" r="5.8"/><circle cx="808.5" cy="1892.8" r="5.8"/><circle cx="814.0" cy="1893.0" r="5.8"/><circle cx="819.5" cy="1891.0" r="5.9"/><circle cx="825.0" cy="1891.9" r="5.8"/><circle cx="830.5" cy="1892.2" r="5.8"/><circle cx="836.0" cy="1893.4" r="5.8"/><circle cx="841.5" cy="1891.4" r="5.9"/><circle cx="847.0" cy="1891.8" r="5.8"/><circle cx="852.5" cy="1890.9" r="5.9"/><circle cx="858.0" cy="1892.4" r="5.8"/></g>
<path d="M143.0,1897.8 L144.5,1897.8 L146.0,1897.8 L147.5,1897.8 L149.0,1897.8 L150.5,1897.8 L152.0,1897.8 L153.5,1897.8 L155.0,1897.8 L156.5,1897.8 L158.0,1897.8 L159.5,1897.8 L161.0,1897.8 L162.5,1897.8 L164.0,1897.8 L165.5,1897.8 L167.0,1897.8 L168.5,1897.8 L170.0,1897.8 L171.5,1897.8 L173.0,1897.8 L174.5,1897.8 L176.0,1897.8 L177.5,1897.8 L179.0,1897.8 L180.5,1897.8 L182.0,1897.8 L183.5,1897.8 L185.0,1897.8 L186.5,1897.8 L188.0,1897.8 L189.5,1897.8 L191.0,1897.8 L192.5,1897.8 L194.0,1897.8 L195.5,1897.8 L197.0,1897.8 L198.5,1897.8 L200.0,1897.8 L201.5,1897.8 L203.0,1897.8 L204.5,1897.8 L206.0,1897.8 L207.5,1897.8 L209.0,1897.8 L210.5,1897.8 L212.0,1897.8 L213.5,1897.8 L215.0,1897.8 L216.5,1897.8 L218.0,1897.8 L219.5,1897.8 L221.0,1897.8 L222.5,1897.8 L224.0,1897.8 L225.5,1897.8 L227.0,1897.8 L228.5,1897.8 L230.0,1897.8 L231.5,1897.8 L233.0,1897.8 L234.5,1897.8 L236.0,1897.8 L237.5,1897.8 L239.0,1897.8 L240.5,1897.8 L242.0,1897.8 L243.5,1897.8 L245.0,1897.8 L246.5,1897.8 L248.0,1897.8 L249.5,1897.8 L251.0,1897.8 L252.5,1897.8 L254.0,1897.8 L255.5,1897.8 L257.0,1897.8 L258.5,1897.8 L260.0,1897.8 L261.5,1897.8 L263.0,1897.8 L264.5,1897.8 L266.0,1897.8 L267.5,1897.8 L269.0,1897.8 L270.5,1897.8 L272.0,1897.8 L273.5,1897.8 L275.0,1897.8 L276.5,1897.8 L278.0,1897.8 L279.5,1897.8 L281.0,1897.8 L282.5,1897.8 L284.0,1897.8 L285.5,1897.8 L287.0,1897.8 L288.5,1897.8 L290.0,1897.8 L291.5,1897.8 L293.0,1897.8 L294.5,1897.8 L296.0,1897.8 L297.5,1897.8 L299.0,1897.8 L300.5,1897.8 L302.0,1897.8 L303.5,1897.8 L305.0,1897.8 L306.5,1897.8 L308.0,1897.8 L309.5,1897.8 L311.0,1897.8 L312.5,1897.8 L314.0,1897.8 L315.5,1897.8 L317.0,1897.8 L318.5,1897.8 L320.0,1897.8 L321.5,1897.8 L323.0,1897.8 L324.5,1897.8 L326.0,1897.8 L327.5,1897.8 L329.0,1897.8 L330.5,1897.8 L332.0,1897.8 L333.5,1897.8 L335.0,1897.8 L336.5,1897.8 L338.0,1897.8 L339.5,1897.8 L341.0,1897.8 L342.5,1897.8 L344.0,1897.8 L345.5,1897.8 L347.0,1897.8 L348.5,1897.8 L350.0,1897.8 L351.5,1897.8 L353.0,1897.8 L354.5,1897.8 L356.0,1897.8 L357.5,1897.8 L359.0,1897.8 L360.5,1897.8 L362.0,1897.8 L363.5,1897.8 L365.0,1897.6 L366.5,1897.3 L368.0,1897.0 L369.5,1896.6 L371.0,1896.2 L372.5,1895.7 L374.0,1895.2 L375.5,1894.6 L377.0,1893.9 L378.5,1893.2 L380.0,1892.5 L381.5,1891.6 L383.0,1890.8 L384.5,1889.8 L386.0,1888.9 L387.5,1887.8 L389.0,1886.8 L390.5,1885.3 L392.0,1883.0 L393.5,1880.6 L395.0,1878.0 L396.5,1875.1 L398.0,1872.2 L399.5,1869.0 L401.0,1866.9 L402.5,1865.4 L404.0,1863.9 L405.5,1862.4 L407.0,1860.9 L408.5,1859.4 L410.0,1857.4 L411.5,1855.1 L413.0,1852.8 L414.5,1850.4 L416.0,1848.1 L417.5,1845.7 L419.0,1843.4 L420.5,1841.0 L422.0,1838.7 L423.5,1836.3 L425.0,1833.9 L426.5,1831.3 L428.0,1828.7 L429.5,1826.0 L431.0,1823.4 L432.5,1820.8 L434.0,1818.2 L435.5,1815.6 L437.0,1812.9 L438.5,1810.3 L440.0,1807.7 L441.5,1804.7 L443.0,1801.7 L444.5,1798.7 L446.0,1795.6 L447.5,1792.6 L449.0,1789.6 L450.5,1786.6 L452.0,1783.4 L453.5,1779.9 L455.0,1776.4 L456.5,1772.9 L458.0,1769.4 L459.5,1765.9 L461.0,1762.4 L462.5,1758.9 L464.0,1754.7 L465.5,1750.3 L467.0,1745.8 L468.5,1741.4 L470.0,1736.9 L471.5,1732.5 L473.0,1728.6 L474.5,1725.1 L476.0,1721.7 L477.5,1718.3 L479.0,1714.9 L480.5,1711.9 L482.0,1709.2 L483.5,1706.5 L485.0,1703.8 L486.5,1701.1 L488.0,1698.5 L489.5,1695.8 L491.0,1693.4 L492.5,1691.0 L494.0,1688.6 L495.5,1686.2 L497.0,1683.8 L498.5,1681.4 L500.0,1679.1 L501.5,1676.8 L503.0,1674.5 L504.5,1672.3 L506.0,1670.0 L507.5,1667.7 L509.0,1665.5 L510.5,1663.2 L512.0,1660.9 L513.5,1658.7 L515.0,1656.4 L516.5,1654.1 L518.0,1651.8 L519.5,1649.6 L521.0,1647.3 L522.5,1645.2 L524.0,1643.2 L525.5,1641.3 L527.0,1639.4 L528.5,1637.5 L530.0,1635.5 L531.5,1633.6 L533.0,1631.7 L534.5,1629.8 L536.0,1627.7 L537.5,1625.5 L539.0,1623.4 L540.5,1621.3 L542.0,1619.2 L543.5,1617.1 L545.0,1615.4 L546.5,1614.1 L548.0,1612.8 L549.5,1611.5 L551.0,1610.2 L552.5,1608.9 L554.0,1608.3 L555.5,1607.9 L557.0,1607.6 L558.5,1607.2 L560.0,1606.9 L561.5,1606.6 L563.0,1607.2 L564.5,1608.0 L566.0,1608.8 L567.5,1609.6 L569.0,1610.5 L570.5,1611.8 L572.0,1614.3 L573.5,1616.8 L575.0,1619.3 L576.5,1622.3 L578.0,1626.3 L579.5,1630.2 L581.0,1634.2 L582.5,1639.7 L584.0,1646.7 L585.5,1653.7 L587.0,1661.7 L588.5,1670.3 L590.0,1678.8 L591.5,1686.8 L593.0,1694.7 L594.5,1702.5 L596.0,1710.4 L597.5,1718.0 L599.0,1725.5 L600.5,1733.1 L602.0,1740.6 L603.5,1748.1 L605.0,1754.5 L606.5,1760.4 L608.0,1766.2 L609.5,1772.1 L611.0,1777.9 L612.5,1783.7 L614.0,1789.4 L615.5,1795.1 L617.0,1800.7 L618.5,1805.5 L620.0,1810.2 L621.5,1814.9 L623.0,1819.6 L624.5,1824.3 L626.0,1828.7 L627.5,1833.2 L629.0,1837.7 L630.5,1842.1 L632.0,1846.3 L633.5,1849.7 L635.0,1853.2 L636.5,1856.6 L638.0,1860.1 L639.5,1863.6 L641.0,1866.6 L642.5,1869.3 L644.0,1873.4 L645.5,1877.2 L647.0,1880.6 L648.5,1883.8 L650.0,1886.6 L651.5,1889.1 L653.0,1891.4 L654.5,1893.3 L656.0,1894.3 L657.5,1894.7 L659.0,1895.0 L660.5,1895.3 L662.0,1895.6 L663.5,1895.9 L665.0,1896.2 L666.5,1896.4 L668.0,1896.6 L669.5,1896.9 L671.0,1897.1 L672.5,1897.2 L674.0,1897.4 L675.5,1897.6 L677.0,1897.7 L678.5,1897.7 L680.0,1897.7 L681.5,1897.7 L683.0,1897.7 L684.5,1897.7 L686.0,1897.7 L687.5,1897.7 L689.0,1897.7 L690.5,1897.7 L692.0,1897.7 L693.5,1897.7 L695.0,1897.8 L696.5,1897.8 L698.0,1897.8 L699.5,1897.8 L701.0,1897.8 L702.5,1897.8 L704.0,1897.8 L705.5,1897.8 L707.0,1897.8 L708.5,1897.8 L710.0,1897.8 L711.5,1897.8 L713.0,1897.8 L714.5,1897.8 L716.0,1897.8 L717.5,1897.8 L719.0,1897.8 L720.5,1897.8 L722.0,1897.8 L723.5,1897.8 L725.0,1897.8 L726.5,1897.8 L728.0,1897.8 L729.5,1897.8 L731.0,1897.8 L732.5,1897.8 L734.0,1897.8 L735.5,1897.8 L737.0,1897.8 L738.5,1897.8 L740.0,1897.8 L741.5,1897.8 L743.0,1897.8 L744.5,1897.8 L746.0,1897.8 L747.5,1897.8 L749.0,1897.8 L750.5,1897.8 L752.0,1897.8 L753.5,1897.8 L755.0,1897.8 L756.5,1897.8 L758.0,1897.8 L759.5,1897.8 L761.0,1897.8 L762.5,1897.8 L764.0,1897.8 L765.5,1897.8 L767.0,1897.8 L768.5,1897.8 L770.0,1897.8 L771.5,1897.8 L773.0,1897.8 L774.5,1897.8 L776.0,1897.8 L777.5,1897.8 L779.0,1897.8 L780.5,1897.8 L782.0,1897.8 L783.5,1897.8 L785.0,1897.8 L786.5,1897.8 L788.0,1897.8 L789.5,1897.8 L791.0,1897.8 L792.5,1897.8 L794.0,1897.9 L795.5,1897.9 L797.0,1897.9 L798.5,1897.9 L800.0,1897.9 L801.5,1897.9 L803.0,1897.9 L804.5,1897.9 L806.0,1897.9 L807.5,1897.9 L809.0,1897.9 L810.5,1897.9 L812.0,1897.9 L813.5,1897.9 L815.0,1897.9 L816.5,1897.9 L818.0,1897.9 L819.5,1897.9 L821.0,1897.9 L822.5,1897.9 L824.0,1897.9 L825.5,1897.9 L827.0,1897.9 L828.5,1897.9 L830.0,1897.9 L831.5,1897.9 L833.0,1897.9 L834.5,1897.9 L836.0,1897.9 L837.5,1897.9 L839.0,1897.9 L840.5,1897.9 L842.0,1897.9 L843.5,1897.9 L845.0,1897.9 L846.5,1897.9 L848.0,1897.9 L849.5,1897.9 L851.0,1897.9 L852.5,1897.9 L854.0,1897.9 L855.5,1897.9 L857.0,1897.9 L858.5,1897.9 L860.0,1897.9 L861.5,1897.9" fill="none" stroke="#8a3010" stroke-width="1.6"/>
<g fill="url(#gK)"><circle cx="143.0" cy="2181.6" r="5.8"/><circle cx="147.6" cy="2178.0" r="6.2"/><circle cx="152.2" cy="2179.9" r="5.9"/><circle cx="156.8" cy="2181.9" r="5.8"/><circle cx="161.4" cy="2183.9" r="5.8"/><circle cx="166.0" cy="2182.2" r="5.8"/><circle cx="170.6" cy="2180.5" r="5.9"/><circle cx="175.2" cy="2178.9" r="6.1"/><circle cx="179.8" cy="2179.3" r="6.0"/><circle cx="184.4" cy="2179.8" r="5.9"/><circle cx="189.0" cy="2181.3" r="5.8"/><circle cx="193.6" cy="2180.9" r="5.8"/><circle cx="198.2" cy="2184.0" r="5.8"/><circle cx="202.8" cy="2181.5" r="5.8"/><circle cx="207.4" cy="2179.1" r="6.0"/><circle cx="212.0" cy="2183.8" r="5.8"/><circle cx="216.6" cy="2182.7" r="5.8"/><circle cx="221.2" cy="2181.2" r="5.8"/><circle cx="225.8" cy="2179.7" r="6.0"/><circle cx="230.4" cy="2177.6" r="6.2"/><circle cx="235.0" cy="2179.2" r="6.0"/><circle cx="239.6" cy="2182.6" r="5.8"/><circle cx="244.2" cy="2179.6" r="6.0"/><circle cx="248.8" cy="2178.6" r="6.1"/><circle cx="253.4" cy="2181.4" r="5.8"/><circle cx="258.0" cy="2181.4" r="5.8"/><circle cx="262.6" cy="2182.1" r="5.8"/><circle cx="267.2" cy="2182.2" r="5.8"/><circle cx="271.8" cy="2183.5" r="5.8"/><circle cx="276.4" cy="2179.5" r="6.0"/><circle cx="281.0" cy="2182.5" r="5.8"/><circle cx="285.6" cy="2178.4" r="6.1"/><circle cx="290.2" cy="2181.0" r="5.8"/><circle cx="294.8" cy="2179.6" r="6.0"/><circle cx="299.4" cy="2179.2" r="6.0"/><circle cx="304.0" cy="2180.0" r="5.9"/><circle cx="308.6" cy="2177.6" r="6.2"/><circle cx="313.2" cy="2178.9" r="6.0"/><circle cx="317.8" cy="2177.7" r="6.2"/><circle cx="322.4" cy="2175.7" r="6.4"/><circle cx="327.0" cy="2173.7" r="6.7"/><circle cx="331.6" cy="2172.6" r="6.8"/><circle cx="336.2" cy="2171.8" r="6.9"/><circle cx="340.8" cy="2170.5" r="7.1"/><circle cx="345.4" cy="2168.8" r="7.3"/><circle cx="350.0" cy="2172.2" r="6.9"/><circle cx="354.6" cy="2166.0" r="7.6"/><circle cx="359.2" cy="2162.6" r="8.0"/><circle cx="363.8" cy="2156.0" r="8.8"/><circle cx="368.4" cy="2152.6" r="9.2"/><circle cx="373.0" cy="2148.0" r="9.4"/><circle cx="377.6" cy="2143.4" r="9.4"/><circle cx="382.2" cy="2135.7" r="9.4"/><circle cx="386.8" cy="2134.2" r="9.4"/><circle cx="391.4" cy="2123.8" r="9.4"/><circle cx="396.0" cy="2120.4" r="9.4"/><circle cx="400.6" cy="2106.6" r="9.4"/><circle cx="405.2" cy="2102.7" r="9.4"/><circle cx="409.8" cy="2094.1" r="9.4"/><circle cx="414.4" cy="2082.4" r="9.4"/><circle cx="419.0" cy="2071.6" r="9.4"/><circle cx="423.6" cy="2057.6" r="9.4"/><circle cx="428.2" cy="2043.6" r="9.4"/><circle cx="432.8" cy="2024.4" r="9.4"/><circle cx="437.4" cy="2011.1" r="9.4"/><circle cx="442.0" cy="1992.9" r="9.4"/><circle cx="446.6" cy="1983.9" r="9.4"/><circle cx="451.2" cy="1971.1" r="9.4"/><circle cx="455.8" cy="1958.5" r="9.4"/><circle cx="460.4" cy="1946.4" r="9.4"/><circle cx="465.0" cy="1935.7" r="9.4"/><circle cx="469.6" cy="1929.0" r="9.4"/><circle cx="474.2" cy="1920.5" r="9.4"/><circle cx="478.8" cy="1910.2" r="9.4"/><circle cx="483.4" cy="1908.3" r="9.4"/><circle cx="488.0" cy="1899.6" r="9.4"/><circle cx="492.6" cy="1897.0" r="9.4"/><circle cx="497.2" cy="1898.4" r="9.4"/><circle cx="501.8" cy="1897.1" r="9.4"/><circle cx="506.4" cy="1898.1" r="9.4"/><circle cx="511.0" cy="1900.3" r="9.4"/><circle cx="515.6" cy="1909.1" r="9.4"/><circle cx="520.2" cy="1906.3" r="9.4"/><circle cx="524.8" cy="1914.1" r="9.4"/><circle cx="529.4" cy="1921.0" r="9.4"/><circle cx="534.0" cy="1927.8" r="9.4"/><circle cx="538.6" cy="1937.1" r="9.4"/><circle cx="543.2" cy="1947.9" r="9.4"/><circle cx="547.8" cy="1951.5" r="9.4"/><circle cx="552.4" cy="1962.3" r="9.4"/><circle cx="557.0" cy="1969.9" r="9.4"/><circle cx="561.6" cy="1980.3" r="9.4"/><circle cx="566.2" cy="1986.4" r="9.4"/><circle cx="570.8" cy="1996.2" r="9.4"/><circle cx="575.4" cy="2007.0" r="9.4"/><circle cx="580.0" cy="2024.8" r="9.4"/><circle cx="584.6" cy="2035.6" r="9.4"/><circle cx="589.2" cy="2048.0" r="9.4"/><circle cx="593.8" cy="2057.4" r="9.4"/><circle cx="598.4" cy="2074.9" r="9.4"/><circle cx="603.0" cy="2087.1" r="9.4"/><circle cx="607.6" cy="2096.8" r="9.4"/><circle cx="612.2" cy="2108.8" r="9.4"/><circle cx="616.8" cy="2122.7" r="9.4"/><circle cx="621.4" cy="2132.4" r="9.4"/><circle cx="626.0" cy="2139.6" r="9.4"/><circle cx="630.6" cy="2148.0" r="9.4"/><circle cx="635.2" cy="2152.5" r="9.2"/><circle cx="639.8" cy="2159.8" r="8.3"/><circle cx="644.4" cy="2165.2" r="7.7"/><circle cx="649.0" cy="2170.8" r="7.0"/><circle cx="653.6" cy="2173.5" r="6.7"/><circle cx="658.2" cy="2176.9" r="6.3"/><circle cx="662.8" cy="2178.5" r="6.1"/><circle cx="667.4" cy="2179.2" r="6.0"/><circle cx="672.0" cy="2185.6" r="5.8"/><circle cx="676.6" cy="2183.0" r="5.8"/><circle cx="681.2" cy="2183.3" r="5.8"/><circle cx="685.8" cy="2186.6" r="5.8"/><circle cx="690.4" cy="2185.0" r="5.8"/><circle cx="695.0" cy="2179.7" r="6.0"/><circle cx="699.6" cy="2183.8" r="5.8"/><circle cx="704.2" cy="2184.0" r="5.8"/><circle cx="708.8" cy="2185.9" r="5.8"/><circle cx="713.4" cy="2184.9" r="5.8"/><circle cx="718.0" cy="2183.9" r="5.8"/><circle cx="722.6" cy="2180.4" r="5.9"/><circle cx="727.2" cy="2180.9" r="5.8"/><circle cx="731.8" cy="2183.0" r="5.8"/><circle cx="736.4" cy="2183.4" r="5.8"/><circle cx="741.0" cy="2180.7" r="5.8"/><circle cx="745.6" cy="2181.8" r="5.8"/><circle cx="750.2" cy="2181.8" r="5.8"/><circle cx="754.8" cy="2182.6" r="5.8"/><circle cx="759.4" cy="2183.1" r="5.8"/><circle cx="764.0" cy="2182.0" r="5.8"/><circle cx="768.6" cy="2180.3" r="5.9"/><circle cx="773.2" cy="2184.7" r="5.8"/><circle cx="777.8" cy="2185.4" r="5.8"/><circle cx="782.4" cy="2182.3" r="5.8"/><circle cx="787.0" cy="2184.3" r="5.8"/><circle cx="791.6" cy="2183.3" r="5.8"/><circle cx="796.2" cy="2183.7" r="5.8"/><circle cx="800.8" cy="2183.4" r="5.8"/><circle cx="805.4" cy="2181.1" r="5.8"/><circle cx="810.0" cy="2183.5" r="5.8"/><circle cx="814.6" cy="2184.3" r="5.8"/><circle cx="819.2" cy="2180.9" r="5.8"/><circle cx="823.8" cy="2186.0" r="5.8"/><circle cx="828.4" cy="2186.3" r="5.8"/><circle cx="833.0" cy="2185.8" r="5.8"/><circle cx="837.6" cy="2186.1" r="5.8"/><circle cx="842.2" cy="2183.8" r="5.8"/><circle cx="846.8" cy="2181.9" r="5.8"/><circle cx="851.4" cy="2181.4" r="5.8"/><circle cx="856.0" cy="2181.0" r="5.8"/><circle cx="860.6" cy="2182.7" r="5.8"/></g>
<path d="M276.0,2184.0 L277.5,2184.0 L279.0,2184.0 L280.5,2184.0 L282.0,2184.0 L283.5,2184.0 L285.0,2184.0 L286.5,2184.0 L288.0,2184.0 L289.5,2184.0 L291.0,2184.0 L292.5,2184.0 L294.0,2184.0 L295.5,2184.0 L297.0,2184.0 L298.5,2184.0 L300.0,2183.9 L301.5,2183.9 L303.0,2183.9 L304.5,2183.8 L306.0,2183.8 L307.5,2183.7 L309.0,2183.6 L310.5,2183.6 L312.0,2183.5 L313.5,2183.4 L315.0,2183.3 L316.5,2183.2 L318.0,2183.1 L319.5,2183.0 L321.0,2182.9 L322.5,2182.8 L324.0,2182.6 L325.5,2182.5 L327.0,2182.4 L328.5,2182.2 L330.0,2182.1 L331.5,2182.0 L333.0,2181.8 L334.5,2181.7 L336.0,2181.3 L337.5,2180.8 L339.0,2180.3 L340.5,2179.8 L342.0,2179.2 L343.5,2178.6 L345.0,2178.0 L346.5,2177.4 L348.0,2176.7 L349.5,2175.9 L351.0,2175.2 L352.5,2174.4 L354.0,2173.6 L355.5,2172.3 L357.0,2170.5 L358.5,2168.7 L360.0,2166.8 L361.5,2164.7 L363.0,2162.6 L364.5,2160.3 L366.0,2157.9 L367.5,2155.4 L369.0,2153.4 L370.5,2151.6 L372.0,2149.8 L373.5,2148.0 L375.0,2146.2 L376.5,2144.4 L378.0,2142.6 L379.5,2140.8 L381.0,2139.0 L382.5,2137.2 L384.0,2135.2 L385.5,2133.1 L387.0,2131.0 L388.5,2128.9 L390.0,2126.8 L391.5,2124.7 L393.0,2122.6 L394.5,2120.5 L396.0,2118.4 L397.5,2116.2 L399.0,2113.6 L400.5,2110.9 L402.0,2108.3 L403.5,2105.7 L405.0,2103.1 L406.5,2100.4 L408.0,2097.8 L409.5,2094.3 L411.0,2090.6 L412.5,2086.8 L414.0,2083.1 L415.5,2079.3 L417.0,2075.6 L418.5,2071.8 L420.0,2067.9 L421.5,2063.4 L423.0,2058.9 L424.5,2054.4 L426.0,2049.9 L427.5,2045.4 L429.0,2040.6 L430.5,2035.6 L432.0,2030.5 L433.5,2025.4 L435.0,2020.4 L436.5,2015.3 L438.0,2010.4 L439.5,2005.4 L441.0,2000.4 L442.5,1995.4 L444.0,1990.4 L445.5,1985.7 L447.0,1981.7 L448.5,1977.7 L450.0,1973.7 L451.5,1969.7 L453.0,1965.7 L454.5,1961.9 L456.0,1958.4 L457.5,1954.8 L459.0,1951.2 L460.5,1947.6 L462.0,1944.0 L463.5,1940.4 L465.0,1936.8 L466.5,1933.2 L468.0,1929.5 L469.5,1925.9 L471.0,1922.8 L472.5,1920.3 L474.0,1917.8 L475.5,1915.2 L477.0,1912.7 L478.5,1910.5 L480.0,1909.1 L481.5,1907.7 L483.0,1906.3 L484.5,1905.0 L486.0,1903.6 L487.5,1902.6 L489.0,1902.0 L490.5,1901.4 L492.0,1900.8 L493.5,1900.1 L495.0,1899.5 L496.5,1899.3 L498.0,1899.1 L499.5,1898.9 L501.0,1898.7 L502.5,1898.6 L504.0,1898.7 L505.5,1899.0 L507.0,1899.3 L508.5,1899.5 L510.0,1899.8 L511.5,1900.4 L513.0,1901.6 L514.5,1902.8 L516.0,1904.0 L517.5,1905.2 L519.0,1906.4 L520.5,1907.9 L522.0,1910.0 L523.5,1912.1 L525.0,1914.3 L526.5,1916.4 L528.0,1918.5 L529.5,1920.7 L531.0,1923.1 L532.5,1925.5 L534.0,1927.9 L535.5,1930.3 L537.0,1932.6 L538.5,1935.2 L540.0,1938.2 L541.5,1941.2 L543.0,1944.3 L544.5,1947.3 L546.0,1950.3 L547.5,1953.2 L549.0,1955.9 L550.5,1958.6 L552.0,1961.3 L553.5,1964.0 L555.0,1966.7 L556.5,1969.4 L558.0,1972.4 L559.5,1975.4 L561.0,1978.5 L562.5,1981.5 L564.0,1984.5 L565.5,1987.6 L567.0,1990.9 L568.5,1994.3 L570.0,1997.6 L571.5,2001.0 L573.0,2004.6 L574.5,2008.7 L576.0,2012.9 L577.5,2017.0 L579.0,2021.2 L580.5,2025.1 L582.0,2028.8 L583.5,2032.5 L585.0,2036.2 L586.5,2040.0 L588.0,2044.2 L589.5,2048.7 L591.0,2053.3 L592.5,2057.8 L594.0,2062.3 L595.5,2066.8 L597.0,2071.3 L598.5,2075.9 L600.0,2080.4 L601.5,2084.8 L603.0,2088.4 L604.5,2092.0 L606.0,2095.6 L607.5,2099.1 L609.0,2102.7 L610.5,2106.3 L612.0,2109.9 L613.5,2113.5 L615.0,2117.2 L616.5,2120.8 L618.0,2124.4 L619.5,2128.0 L621.0,2130.7 L622.5,2133.4 L624.0,2136.1 L625.5,2138.7 L627.0,2141.4 L628.5,2144.1 L630.0,2146.3 L631.5,2148.4 L633.0,2150.5 L634.5,2152.6 L636.0,2155.6 L637.5,2160.0 L639.0,2163.4 L640.5,2166.6 L642.0,2169.5 L643.5,2172.1 L645.0,2174.5 L646.5,2176.6 L648.0,2178.0 L649.5,2179.2 L651.0,2180.2 L652.5,2181.1 L654.0,2182.0 L655.5,2182.6 L657.0,2183.2 L658.5,2183.5 L660.0,2183.7 L661.5,2183.8 L663.0,2184.0 L664.5,2184.0 L666.0,2184.0 L667.5,2184.0 L669.0,2184.0 L670.5,2184.0 L672.0,2184.0 L673.5,2184.0 L675.0,2184.0 L676.5,2184.0 L678.0,2184.0 L679.5,2184.0 L681.0,2184.0 L682.5,2184.0 L684.0,2184.0 L685.5,2184.0 L687.0,2184.0 L688.5,2184.0 L690.0,2184.0 L691.5,2184.0 L693.0,2184.0 L694.5,2184.0 L696.0,2184.0 L697.5,2184.0 L699.0,2184.0 L700.5,2184.0 L702.0,2184.0 L703.5,2184.0 L705.0,2184.0 L706.5,2184.0 L708.0,2184.0 L709.5,2184.0 L711.0,2184.0 L712.5,2184.0 L714.0,2184.0 L715.5,2184.0 L717.0,2184.0 L718.5,2184.0 L720.0,2184.0 L721.5,2184.0 L723.0,2184.0 L724.5,2184.0 L726.0,2184.0 L727.5,2184.0 L729.0,2184.0 L730.5,2184.0 L732.0,2184.0 L733.5,2184.0 L735.0,2184.0 L736.5,2184.0 L738.0,2184.0 L739.5,2184.0 L741.0,2184.0 L742.5,2184.0 L744.0,2184.0 L745.5,2184.0 L747.0,2184.0 L748.5,2184.0 L750.0,2184.0 L751.5,2184.0 L753.0,2184.0 L754.5,2184.0 L756.0,2184.0 L757.5,2184.0 L759.0,2184.0 L760.5,2184.0 L762.0,2184.0 L763.5,2184.0 L765.0,2184.0 L766.5,2184.0 L768.0,2184.0 L769.5,2184.0 L771.0,2184.0 L772.5,2184.0 L774.0,2184.0 L775.5,2184.0 L777.0,2184.0 L778.5,2184.0 L780.0,2184.0 L781.5,2184.0 L783.0,2184.0 L784.5,2184.0 L786.0,2184.0 L787.5,2184.0 L789.0,2184.0 L790.5,2184.0 L792.0,2184.0 L793.5,2184.0 L795.0,2184.0 L796.5,2184.0 L798.0,2184.0 L799.5,2184.0 L801.0,2184.0 L802.5,2184.0 L804.0,2184.0 L805.5,2184.0 L807.0,2184.0 L808.5,2184.0 L810.0,2184.0 L811.5,2184.0 L813.0,2184.0 L814.5,2184.0 L816.0,2184.0 L817.5,2184.0 L819.0,2184.0 L820.5,2184.0 L822.0,2184.0 L823.5,2184.0 L825.0,2184.0 L826.5,2184.0 L828.0,2184.0 L829.5,2184.0 L831.0,2184.0 L832.5,2184.0 L834.0,2184.0 L835.5,2184.0 L837.0,2184.0 L838.5,2184.0 L840.0,2184.0 L841.5,2184.0 L843.0,2184.0 L844.5,2184.0 L846.0,2184.0 L847.5,2184.0 L849.0,2184.0 L850.5,2184.0 L852.0,2184.0 L853.5,2184.0 L855.0,2184.0 L856.5,2184.0 L858.0,2184.0 L859.5,2184.0 L861.0,2184.0" fill="none" stroke="#d01818" stroke-width="2.0"/>
</g>
<path d="M143,1376 H862 V1556" fill="none" stroke="#000" stroke-width="2.8"/>
<path d="M864,1556 V2187 H143 V1376" fill="none" stroke="#000" stroke-width="2.8"/>
<text x="6.02" y="1435.75" font-size="73.49" font-weight="bold" fill="#000" textLength="67.77" lengthAdjust="spacingAndGlyphs">c)</text>
<text transform="rotate(-90)" x="-1912.64" y="105.70" font-size="56.98" font-weight="bold" textLength="368.85" lengthAdjust="spacingAndGlyphs">Intensity (cps)</text>
<text x="166.80" y="1434.81" font-size="49.86" fill="#000" textLength="36.12" lengthAdjust="spacingAndGlyphs">O</text>
<text x="206.18" y="1453.29" font-size="31.24" fill="#000" textLength="30.77" lengthAdjust="spacingAndGlyphs">1s</text>
<text x="350.26" y="1443.50" font-size="42.15" fill="#000" textLength="91.85" lengthAdjust="spacingAndGlyphs">C=O</text>
<line x1="417.00" y1="1475.00" x2="451.42" y2="1485.47" stroke="#000" stroke-width="3.4"/>
<polygon points="447.6,1491.1 469.0,1492.9 470.2,1489.1 451.4,1478.7" fill="#000"/>
<text x="581.70" y="1351.00" font-size="43.31" fill="#000" textLength="92.33" lengthAdjust="spacingAndGlyphs">MoO</text>
<text x="674.36" y="1366.00" font-size="20.93" fill="#000" textLength="13.72" lengthAdjust="spacingAndGlyphs">3</text>
<line x1="570.20" y1="1341.30" x2="554.63" y2="1358.08" stroke="#000" stroke-width="3.4"/>
<polygon points="551.2,1352.2 540.2,1370.6 543.2,1373.4 560.8,1361.0" fill="#000"/>
<text x="673.00" y="1963.00" font-size="43.61" fill="#000" textLength="109.80" lengthAdjust="spacingAndGlyphs">Me-O</text>
<line x1="654.60" y1="1946.90" x2="612.74" y2="1961.53" stroke="#000" stroke-width="3.4"/>
<polygon points="612.5,1954.7 594.1,1965.9 595.5,1969.7 616.8,1967.0" fill="#000"/>
<text x="710.33" y="1656.03" font-size="58.69" font-weight="bold" fill="#0b66bd" textLength="65.02" lengthAdjust="spacingAndGlyphs" filter="url(#sh)">8h</text>
<text x="711.27" y="1853.40" font-size="57.82" font-weight="bold" fill="#f40c0c" textLength="64.03" lengthAdjust="spacingAndGlyphs" filter="url(#sh)">4h</text>
<text x="706.57" y="2069.40" font-size="56.44" font-weight="bold" fill="#0a0a0a" textLength="65.09" lengthAdjust="spacingAndGlyphs" filter="url(#sh)">2h</text>
<text x="120.23" y="2240.00" font-size="23.26" fill="#000" textLength="42.31" lengthAdjust="spacingAndGlyphs" stroke="#000" stroke-width="0.7">540</text>
<text x="209.93" y="2240.00" font-size="23.26" fill="#000" textLength="42.42" lengthAdjust="spacingAndGlyphs" stroke="#000" stroke-width="0.7">538</text>
<text x="299.63" y="2240.00" font-size="23.26" fill="#000" textLength="42.44" lengthAdjust="spacingAndGlyphs" stroke="#000" stroke-width="0.7">536</text>
<text x="389.34" y="2240.00" font-size="23.26" fill="#000" textLength="42.05" lengthAdjust="spacingAndGlyphs" stroke="#000" stroke-width="0.7">534</text>
<text x="479.03" y="2240.00" font-size="23.26" fill="#000" textLength="42.61" lengthAdjust="spacingAndGlyphs" stroke="#000" stroke-width="0.7">532</text>
<text x="568.73" y="2240.00" font-size="23.26" fill="#000" textLength="42.31" lengthAdjust="spacingAndGlyphs" stroke="#000" stroke-width="0.7">530</text>
<text x="658.43" y="2240.00" font-size="23.26" fill="#000" textLength="42.42" lengthAdjust="spacingAndGlyphs" stroke="#000" stroke-width="0.7">528</text>
<text x="748.13" y="2240.00" font-size="23.26" fill="#000" textLength="42.44" lengthAdjust="spacingAndGlyphs" stroke="#000" stroke-width="0.7">526</text>
<text x="837.84" y="2240.00" font-size="23.26" fill="#000" textLength="42.05" lengthAdjust="spacingAndGlyphs" stroke="#000" stroke-width="0.7">524</text>
<text x="304.83" y="2284.70" font-size="43.61" fill="#000" textLength="395.65" lengthAdjust="spacingAndGlyphs">Binding energy (eV)</text>
</svg></body></html>
